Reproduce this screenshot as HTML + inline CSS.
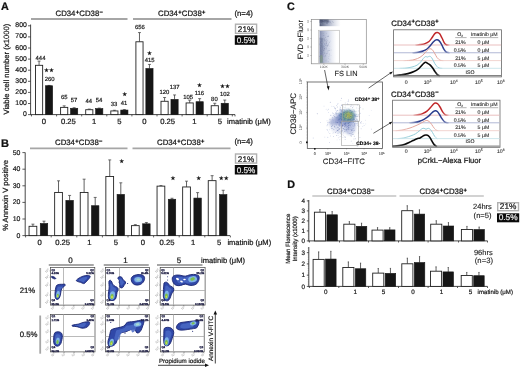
<!DOCTYPE html>
<html><head><meta charset="utf-8"><style>
html,body{margin:0;padding:0;background:#fff;}
body{width:520px;height:368px;overflow:hidden;}
svg{display:block;font-family:"Liberation Sans",sans-serif;filter:blur(0.3px);text-rendering:geometricPrecision;}
</style></head><body>
<svg width="520" height="368" viewBox="0 0 520 368">
<rect width="520" height="368" fill="#fff"/>
<text x="1.00" y="9.57" font-size="10.8" text-anchor="start" font-weight="bold" fill="#111" stroke="#111" stroke-width="0.24" >A</text>
<line x1="31.00" y1="19.00" x2="127.50" y2="19.00" stroke="#a6a6a6" stroke-width="1.8" />
<line x1="133.00" y1="19.00" x2="231.50" y2="19.00" stroke="#a6a6a6" stroke-width="1.8" />
<text x="55.50" y="16.29" font-size="7.8" text-anchor="start" font-weight="normal" fill="#1a1a1a" stroke="#1a1a1a" stroke-width="0.24" >CD34<tspan dx="0.3" dy="-2.65" font-size="5.77" stroke-width="0.45">+</tspan><tspan dx="0.2" dy="2.65">CD38</tspan><tspan dx="0.3" dy="-2.65" font-size="5.77" stroke-width="0.45">−</tspan></text>
<text x="158.00" y="16.29" font-size="7.8" text-anchor="start" font-weight="normal" fill="#1a1a1a" stroke="#1a1a1a" stroke-width="0.24" >CD34<tspan dx="0.3" dy="-2.65" font-size="5.77" stroke-width="0.45">+</tspan><tspan dx="0.2" dy="2.65">CD38</tspan><tspan dx="0.3" dy="-2.65" font-size="5.77" stroke-width="0.45">+</tspan></text>
<text x="234.40" y="15.61" font-size="7.85" text-anchor="start" font-weight="normal" fill="#1a1a1a" stroke="#1a1a1a" stroke-width="0.24" >(n=4)</text>
<rect x="235.50" y="24.20" width="21.10" height="9.10" fill="#fff" stroke="#b0b0b0" stroke-width="1.4" />
<text x="246.05" y="31.89" font-size="8.2" text-anchor="middle" font-weight="normal" fill="#1a1a1a" stroke="#1a1a1a" stroke-width="0.24" >21%</text>
<rect x="234.80" y="35.30" width="22.50" height="9.50" fill="#0a0a0a" stroke="none" stroke-width="1" />
<text x="246.05" y="43.19" font-size="8.2" text-anchor="middle" font-weight="normal" fill="#e8e8e8" stroke="#e8e8e8" stroke-width="0.24" >0.5%</text>
<line x1="30.60" y1="24.50" x2="30.60" y2="115.10" stroke="#333" stroke-width="0.9" />
<line x1="30.60" y1="114.60" x2="235.00" y2="114.60" stroke="#333" stroke-width="0.9" />
<line x1="28.00" y1="114.60" x2="30.60" y2="114.60" stroke="#333" stroke-width="0.8" />
<text x="26.80" y="116.17" font-size="6.9" text-anchor="end" font-weight="normal" fill="#1a1a1a" stroke="#1a1a1a" stroke-width="0.2" >0</text>
<line x1="28.00" y1="103.50" x2="30.60" y2="103.50" stroke="#333" stroke-width="0.8" />
<text x="26.80" y="105.07" font-size="6.9" text-anchor="end" font-weight="normal" fill="#1a1a1a" stroke="#1a1a1a" stroke-width="0.2" >100</text>
<line x1="28.00" y1="92.40" x2="30.60" y2="92.40" stroke="#333" stroke-width="0.8" />
<text x="26.80" y="93.97" font-size="6.9" text-anchor="end" font-weight="normal" fill="#1a1a1a" stroke="#1a1a1a" stroke-width="0.2" >200</text>
<line x1="28.00" y1="81.30" x2="30.60" y2="81.30" stroke="#333" stroke-width="0.8" />
<text x="26.80" y="82.87" font-size="6.9" text-anchor="end" font-weight="normal" fill="#1a1a1a" stroke="#1a1a1a" stroke-width="0.2" >300</text>
<line x1="28.00" y1="70.20" x2="30.60" y2="70.20" stroke="#333" stroke-width="0.8" />
<text x="26.80" y="71.77" font-size="6.9" text-anchor="end" font-weight="normal" fill="#1a1a1a" stroke="#1a1a1a" stroke-width="0.2" >400</text>
<line x1="28.00" y1="59.10" x2="30.60" y2="59.10" stroke="#333" stroke-width="0.8" />
<text x="26.80" y="60.67" font-size="6.9" text-anchor="end" font-weight="normal" fill="#1a1a1a" stroke="#1a1a1a" stroke-width="0.2" >500</text>
<line x1="28.00" y1="48.00" x2="30.60" y2="48.00" stroke="#333" stroke-width="0.8" />
<text x="26.80" y="49.57" font-size="6.9" text-anchor="end" font-weight="normal" fill="#1a1a1a" stroke="#1a1a1a" stroke-width="0.2" >600</text>
<line x1="28.00" y1="36.90" x2="30.60" y2="36.90" stroke="#333" stroke-width="0.8" />
<text x="26.80" y="38.47" font-size="6.9" text-anchor="end" font-weight="normal" fill="#1a1a1a" stroke="#1a1a1a" stroke-width="0.2" >700</text>
<line x1="28.00" y1="25.80" x2="30.60" y2="25.80" stroke="#333" stroke-width="0.8" />
<text x="26.80" y="27.37" font-size="6.9" text-anchor="end" font-weight="normal" fill="#1a1a1a" stroke="#1a1a1a" stroke-width="0.2" >800</text>
<line x1="31.50" y1="114.60" x2="31.50" y2="116.40" stroke="#333" stroke-width="0.8" />
<line x1="56.60" y1="114.60" x2="56.60" y2="116.40" stroke="#333" stroke-width="0.8" />
<line x1="81.70" y1="114.60" x2="81.70" y2="116.40" stroke="#333" stroke-width="0.8" />
<line x1="106.80" y1="114.60" x2="106.80" y2="116.40" stroke="#333" stroke-width="0.8" />
<line x1="131.90" y1="114.60" x2="131.90" y2="116.40" stroke="#333" stroke-width="0.8" />
<line x1="157.00" y1="114.60" x2="157.00" y2="116.40" stroke="#333" stroke-width="0.8" />
<line x1="182.10" y1="114.60" x2="182.10" y2="116.40" stroke="#333" stroke-width="0.8" />
<line x1="207.20" y1="114.60" x2="207.20" y2="116.40" stroke="#333" stroke-width="0.8" />
<line x1="232.30" y1="114.60" x2="232.30" y2="116.40" stroke="#333" stroke-width="0.8" />
<line x1="235.00" y1="114.60" x2="235.00" y2="116.40" stroke="#333" stroke-width="0.8" />
<line x1="39.07" y1="65.32" x2="39.07" y2="61.10" stroke="#3a3a3a" stroke-width="0.8" />
<line x1="37.57" y1="61.10" x2="40.57" y2="61.10" stroke="#3a3a3a" stroke-width="0.7" />
<rect x="35.50" y="65.32" width="7.15" height="49.28" fill="#fff" stroke="#222" stroke-width="0.9" />
<line x1="49.05" y1="85.74" x2="49.05" y2="85.41" stroke="#3a3a3a" stroke-width="0.8" />
<line x1="47.55" y1="85.41" x2="50.55" y2="85.41" stroke="#3a3a3a" stroke-width="0.7" />
<rect x="45.45" y="85.74" width="7.20" height="28.86" fill="#161616" stroke="#161616" stroke-width="0.6" />
<line x1="64.17" y1="107.38" x2="64.17" y2="105.83" stroke="#3a3a3a" stroke-width="0.8" />
<line x1="62.67" y1="105.83" x2="65.67" y2="105.83" stroke="#3a3a3a" stroke-width="0.7" />
<rect x="60.60" y="107.38" width="7.15" height="7.22" fill="#fff" stroke="#222" stroke-width="0.9" />
<line x1="74.15" y1="108.27" x2="74.15" y2="107.72" stroke="#3a3a3a" stroke-width="0.8" />
<line x1="72.65" y1="107.72" x2="75.65" y2="107.72" stroke="#3a3a3a" stroke-width="0.7" />
<rect x="70.55" y="108.27" width="7.20" height="6.33" fill="#161616" stroke="#161616" stroke-width="0.6" />
<line x1="89.27" y1="109.72" x2="89.27" y2="109.05" stroke="#3a3a3a" stroke-width="0.8" />
<line x1="87.77" y1="109.05" x2="90.77" y2="109.05" stroke="#3a3a3a" stroke-width="0.7" />
<rect x="85.70" y="109.72" width="7.15" height="4.88" fill="#fff" stroke="#222" stroke-width="0.9" />
<line x1="99.25" y1="108.61" x2="99.25" y2="108.05" stroke="#3a3a3a" stroke-width="0.8" />
<line x1="97.75" y1="108.05" x2="100.75" y2="108.05" stroke="#3a3a3a" stroke-width="0.7" />
<rect x="95.65" y="108.61" width="7.20" height="5.99" fill="#161616" stroke="#161616" stroke-width="0.6" />
<line x1="114.38" y1="110.94" x2="114.38" y2="110.27" stroke="#3a3a3a" stroke-width="0.8" />
<line x1="112.88" y1="110.27" x2="115.88" y2="110.27" stroke="#3a3a3a" stroke-width="0.7" />
<rect x="110.80" y="110.94" width="7.15" height="3.66" fill="#fff" stroke="#222" stroke-width="0.9" />
<line x1="124.35" y1="110.05" x2="124.35" y2="109.60" stroke="#3a3a3a" stroke-width="0.8" />
<line x1="122.85" y1="109.60" x2="125.85" y2="109.60" stroke="#3a3a3a" stroke-width="0.7" />
<rect x="120.75" y="110.05" width="7.20" height="4.55" fill="#161616" stroke="#161616" stroke-width="0.6" />
<line x1="139.48" y1="41.78" x2="139.48" y2="32.57" stroke="#3a3a3a" stroke-width="0.8" />
<line x1="137.98" y1="32.57" x2="140.98" y2="32.57" stroke="#3a3a3a" stroke-width="0.7" />
<rect x="135.90" y="41.78" width="7.15" height="72.82" fill="#fff" stroke="#222" stroke-width="0.9" />
<line x1="149.45" y1="68.53" x2="149.45" y2="64.43" stroke="#3a3a3a" stroke-width="0.8" />
<line x1="147.95" y1="64.43" x2="150.95" y2="64.43" stroke="#3a3a3a" stroke-width="0.7" />
<rect x="145.85" y="68.53" width="7.20" height="46.06" fill="#161616" stroke="#161616" stroke-width="0.6" />
<line x1="164.58" y1="101.28" x2="164.58" y2="97.51" stroke="#3a3a3a" stroke-width="0.8" />
<line x1="163.08" y1="97.51" x2="166.08" y2="97.51" stroke="#3a3a3a" stroke-width="0.7" />
<rect x="161.00" y="101.28" width="7.15" height="13.32" fill="#fff" stroke="#222" stroke-width="0.9" />
<line x1="174.55" y1="99.39" x2="174.55" y2="94.95" stroke="#3a3a3a" stroke-width="0.8" />
<line x1="173.05" y1="94.95" x2="176.05" y2="94.95" stroke="#3a3a3a" stroke-width="0.7" />
<rect x="170.95" y="99.39" width="7.20" height="15.21" fill="#161616" stroke="#161616" stroke-width="0.6" />
<line x1="189.68" y1="102.94" x2="189.68" y2="100.17" stroke="#3a3a3a" stroke-width="0.8" />
<line x1="188.18" y1="100.17" x2="191.18" y2="100.17" stroke="#3a3a3a" stroke-width="0.7" />
<rect x="186.10" y="102.94" width="7.15" height="11.66" fill="#fff" stroke="#222" stroke-width="0.9" />
<line x1="199.65" y1="101.72" x2="199.65" y2="98.62" stroke="#3a3a3a" stroke-width="0.8" />
<line x1="198.15" y1="98.62" x2="201.15" y2="98.62" stroke="#3a3a3a" stroke-width="0.7" />
<rect x="196.05" y="101.72" width="7.20" height="12.88" fill="#161616" stroke="#161616" stroke-width="0.6" />
<line x1="214.78" y1="105.72" x2="214.78" y2="103.28" stroke="#3a3a3a" stroke-width="0.8" />
<line x1="213.28" y1="103.28" x2="216.28" y2="103.28" stroke="#3a3a3a" stroke-width="0.7" />
<rect x="211.20" y="105.72" width="7.15" height="8.88" fill="#fff" stroke="#222" stroke-width="0.9" />
<line x1="224.75" y1="103.28" x2="224.75" y2="100.06" stroke="#3a3a3a" stroke-width="0.8" />
<line x1="223.25" y1="100.06" x2="226.25" y2="100.06" stroke="#3a3a3a" stroke-width="0.7" />
<rect x="221.15" y="103.28" width="7.20" height="11.32" fill="#161616" stroke="#161616" stroke-width="0.6" />
<text x="40.50" y="59.61" font-size="5.9" text-anchor="middle" font-weight="normal" fill="#1a1a1a" stroke="#1a1a1a" stroke-width="0.2" >444</text>
<text x="49.60" y="81.21" font-size="5.9" text-anchor="middle" font-weight="normal" fill="#1a1a1a" stroke="#1a1a1a" stroke-width="0.2" >260</text>
<text x="64.20" y="99.11" font-size="5.9" text-anchor="middle" font-weight="normal" fill="#1a1a1a" stroke="#1a1a1a" stroke-width="0.2" >65</text>
<text x="74.00" y="101.51" font-size="5.9" text-anchor="middle" font-weight="normal" fill="#1a1a1a" stroke="#1a1a1a" stroke-width="0.2" >57</text>
<text x="88.80" y="102.71" font-size="5.9" text-anchor="middle" font-weight="normal" fill="#1a1a1a" stroke="#1a1a1a" stroke-width="0.2" >44</text>
<text x="99.00" y="101.51" font-size="5.9" text-anchor="middle" font-weight="normal" fill="#1a1a1a" stroke="#1a1a1a" stroke-width="0.2" >54</text>
<text x="114.00" y="105.91" font-size="5.9" text-anchor="middle" font-weight="normal" fill="#1a1a1a" stroke="#1a1a1a" stroke-width="0.2" >33</text>
<text x="124.00" y="104.81" font-size="5.9" text-anchor="middle" font-weight="normal" fill="#1a1a1a" stroke="#1a1a1a" stroke-width="0.2" >41</text>
<text x="139.80" y="29.01" font-size="5.9" text-anchor="middle" font-weight="normal" fill="#1a1a1a" stroke="#1a1a1a" stroke-width="0.2" >656</text>
<text x="149.70" y="62.41" font-size="5.9" text-anchor="middle" font-weight="normal" fill="#1a1a1a" stroke="#1a1a1a" stroke-width="0.2" >415</text>
<text x="164.40" y="94.36" font-size="5.9" text-anchor="middle" font-weight="normal" fill="#1a1a1a" stroke="#1a1a1a" stroke-width="0.2" >120</text>
<text x="174.60" y="89.36" font-size="5.9" text-anchor="middle" font-weight="normal" fill="#1a1a1a" stroke="#1a1a1a" stroke-width="0.2" >137</text>
<text x="188.10" y="98.86" font-size="5.9" text-anchor="middle" font-weight="normal" fill="#1a1a1a" stroke="#1a1a1a" stroke-width="0.2" >105</text>
<text x="199.40" y="94.86" font-size="5.9" text-anchor="middle" font-weight="normal" fill="#1a1a1a" stroke="#1a1a1a" stroke-width="0.2" >116</text>
<text x="214.40" y="101.11" font-size="5.9" text-anchor="middle" font-weight="normal" fill="#1a1a1a" stroke="#1a1a1a" stroke-width="0.2" >80</text>
<text x="224.80" y="95.61" font-size="5.9" text-anchor="middle" font-weight="normal" fill="#1a1a1a" stroke="#1a1a1a" stroke-width="0.2" >102</text>
<text x="48.90" y="72.37" font-size="5.5" text-anchor="middle" font-weight="normal" fill="#111" stroke="#111" stroke-width="0.2" letter-spacing="0">★★</text>
<text x="124.70" y="96.37" font-size="5.5" text-anchor="middle" font-weight="normal" fill="#111" stroke="#111" stroke-width="0.2" letter-spacing="0">★</text>
<text x="149.40" y="54.77" font-size="5.5" text-anchor="middle" font-weight="normal" fill="#111" stroke="#111" stroke-width="0.2" letter-spacing="0">★</text>
<text x="199.50" y="86.72" font-size="5.5" text-anchor="middle" font-weight="normal" fill="#111" stroke="#111" stroke-width="0.2" letter-spacing="0">★</text>
<text x="225.00" y="87.97" font-size="5.5" text-anchor="middle" font-weight="normal" fill="#111" stroke="#111" stroke-width="0.2" letter-spacing="0">★★</text>
<text x="43.75" y="123.64" font-size="7.65" text-anchor="middle" font-weight="normal" fill="#1a1a1a" stroke="#1a1a1a" stroke-width="0.24" >0</text>
<text x="68.40" y="123.64" font-size="7.65" text-anchor="middle" font-weight="normal" fill="#1a1a1a" stroke="#1a1a1a" stroke-width="0.24" >0.25</text>
<text x="94.20" y="123.64" font-size="7.65" text-anchor="middle" font-weight="normal" fill="#1a1a1a" stroke="#1a1a1a" stroke-width="0.24" >1</text>
<text x="119.30" y="123.64" font-size="7.65" text-anchor="middle" font-weight="normal" fill="#1a1a1a" stroke="#1a1a1a" stroke-width="0.24" >5</text>
<text x="144.30" y="123.64" font-size="7.65" text-anchor="middle" font-weight="normal" fill="#1a1a1a" stroke="#1a1a1a" stroke-width="0.24" >0</text>
<text x="167.70" y="123.64" font-size="7.65" text-anchor="middle" font-weight="normal" fill="#1a1a1a" stroke="#1a1a1a" stroke-width="0.24" >0.25</text>
<text x="194.30" y="123.64" font-size="7.65" text-anchor="middle" font-weight="normal" fill="#1a1a1a" stroke="#1a1a1a" stroke-width="0.24" >1</text>
<text x="219.80" y="123.64" font-size="7.65" text-anchor="middle" font-weight="normal" fill="#1a1a1a" stroke="#1a1a1a" stroke-width="0.24" >5</text>
<text x="227.00" y="123.80" font-size="7.55" text-anchor="start" font-weight="normal" fill="#1a1a1a" stroke="#1a1a1a" stroke-width="0.24" >imatinib (μM)</text>
<text transform="translate(9.24,69.20) rotate(-90)" font-size="7.65" text-anchor="middle" font-weight="normal" fill="#1a1a1a" stroke="#1a1a1a" stroke-width="0.24">Viable cell number (x1000)</text>
<text x="1.00" y="147.14" font-size="11" text-anchor="start" font-weight="bold" fill="#111" stroke="#111" stroke-width="0.24" >B</text>
<line x1="30.00" y1="148.40" x2="127.50" y2="148.40" stroke="#a6a6a6" stroke-width="1.8" />
<line x1="132.50" y1="148.40" x2="230.50" y2="148.40" stroke="#a6a6a6" stroke-width="1.8" />
<text x="55.00" y="145.19" font-size="7.8" text-anchor="start" font-weight="normal" fill="#1a1a1a" stroke="#1a1a1a" stroke-width="0.24" >CD34<tspan dx="0.3" dy="-2.65" font-size="5.77" stroke-width="0.45">+</tspan><tspan dx="0.2" dy="2.65">CD38</tspan><tspan dx="0.3" dy="-2.65" font-size="5.77" stroke-width="0.45">−</tspan></text>
<text x="157.00" y="145.19" font-size="7.8" text-anchor="start" font-weight="normal" fill="#1a1a1a" stroke="#1a1a1a" stroke-width="0.24" >CD34<tspan dx="0.3" dy="-2.65" font-size="5.77" stroke-width="0.45">+</tspan><tspan dx="0.2" dy="2.65">CD38</tspan><tspan dx="0.3" dy="-2.65" font-size="5.77" stroke-width="0.45">+</tspan></text>
<text x="234.40" y="143.51" font-size="7.85" text-anchor="start" font-weight="normal" fill="#1a1a1a" stroke="#1a1a1a" stroke-width="0.24" >(n=4)</text>
<rect x="235.50" y="154.00" width="21.10" height="9.10" fill="#fff" stroke="#b0b0b0" stroke-width="1.4" />
<text x="246.05" y="161.69" font-size="8.2" text-anchor="middle" font-weight="normal" fill="#1a1a1a" stroke="#1a1a1a" stroke-width="0.24" >21%</text>
<rect x="234.80" y="165.00" width="22.50" height="9.50" fill="#0a0a0a" stroke="none" stroke-width="1" />
<text x="246.05" y="172.89" font-size="8.2" text-anchor="middle" font-weight="normal" fill="#e8e8e8" stroke="#e8e8e8" stroke-width="0.24" >0.5%</text>
<line x1="25.20" y1="152.50" x2="25.20" y2="236.10" stroke="#333" stroke-width="0.9" />
<line x1="25.20" y1="235.60" x2="230.00" y2="235.60" stroke="#333" stroke-width="0.9" />
<line x1="22.40" y1="235.60" x2="25.20" y2="235.60" stroke="#333" stroke-width="0.8" />
<text x="20.30" y="237.67" font-size="6.9" text-anchor="end" font-weight="normal" fill="#1a1a1a" stroke="#1a1a1a" stroke-width="0.2" >0</text>
<line x1="22.40" y1="219.00" x2="25.20" y2="219.00" stroke="#333" stroke-width="0.8" />
<text x="20.30" y="221.07" font-size="6.9" text-anchor="end" font-weight="normal" fill="#1a1a1a" stroke="#1a1a1a" stroke-width="0.2" >10</text>
<line x1="22.40" y1="202.40" x2="25.20" y2="202.40" stroke="#333" stroke-width="0.8" />
<text x="20.30" y="204.47" font-size="6.9" text-anchor="end" font-weight="normal" fill="#1a1a1a" stroke="#1a1a1a" stroke-width="0.2" >20</text>
<line x1="22.40" y1="185.80" x2="25.20" y2="185.80" stroke="#333" stroke-width="0.8" />
<text x="20.30" y="187.87" font-size="6.9" text-anchor="end" font-weight="normal" fill="#1a1a1a" stroke="#1a1a1a" stroke-width="0.2" >30</text>
<line x1="22.40" y1="169.20" x2="25.20" y2="169.20" stroke="#333" stroke-width="0.8" />
<text x="20.30" y="171.27" font-size="6.9" text-anchor="end" font-weight="normal" fill="#1a1a1a" stroke="#1a1a1a" stroke-width="0.2" >40</text>
<line x1="22.40" y1="152.60" x2="25.20" y2="152.60" stroke="#333" stroke-width="0.8" />
<text x="20.30" y="154.67" font-size="6.9" text-anchor="end" font-weight="normal" fill="#1a1a1a" stroke="#1a1a1a" stroke-width="0.2" >50</text>
<line x1="25.60" y1="235.60" x2="25.60" y2="237.40" stroke="#333" stroke-width="0.8" />
<line x1="51.20" y1="235.60" x2="51.20" y2="237.40" stroke="#333" stroke-width="0.8" />
<line x1="76.80" y1="235.60" x2="76.80" y2="237.40" stroke="#333" stroke-width="0.8" />
<line x1="102.40" y1="235.60" x2="102.40" y2="237.40" stroke="#333" stroke-width="0.8" />
<line x1="128.00" y1="235.60" x2="128.00" y2="237.40" stroke="#333" stroke-width="0.8" />
<line x1="153.60" y1="235.60" x2="153.60" y2="237.40" stroke="#333" stroke-width="0.8" />
<line x1="179.20" y1="235.60" x2="179.20" y2="237.40" stroke="#333" stroke-width="0.8" />
<line x1="204.80" y1="235.60" x2="204.80" y2="237.40" stroke="#333" stroke-width="0.8" />
<line x1="230.40" y1="235.60" x2="230.40" y2="237.40" stroke="#333" stroke-width="0.8" />
<line x1="32.92" y1="226.30" x2="32.92" y2="224.15" stroke="#3a3a3a" stroke-width="0.8" />
<line x1="31.42" y1="224.15" x2="34.42" y2="224.15" stroke="#3a3a3a" stroke-width="0.7" />
<rect x="29.05" y="226.30" width="7.75" height="9.30" fill="#fff" stroke="#222" stroke-width="0.9" />
<line x1="43.99" y1="223.48" x2="43.99" y2="221.16" stroke="#3a3a3a" stroke-width="0.8" />
<line x1="42.49" y1="221.16" x2="45.49" y2="221.16" stroke="#3a3a3a" stroke-width="0.7" />
<rect x="40.27" y="223.48" width="7.45" height="12.12" fill="#161616" stroke="#161616" stroke-width="0.6" />
<line x1="58.52" y1="192.44" x2="58.52" y2="180.82" stroke="#3a3a3a" stroke-width="0.8" />
<line x1="57.02" y1="180.82" x2="60.02" y2="180.82" stroke="#3a3a3a" stroke-width="0.7" />
<rect x="54.65" y="192.44" width="7.75" height="43.16" fill="#fff" stroke="#222" stroke-width="0.9" />
<line x1="69.59" y1="200.41" x2="69.59" y2="195.43" stroke="#3a3a3a" stroke-width="0.8" />
<line x1="68.09" y1="195.43" x2="71.09" y2="195.43" stroke="#3a3a3a" stroke-width="0.7" />
<rect x="65.87" y="200.41" width="7.45" height="35.19" fill="#161616" stroke="#161616" stroke-width="0.6" />
<line x1="84.12" y1="192.44" x2="84.12" y2="179.16" stroke="#3a3a3a" stroke-width="0.8" />
<line x1="82.62" y1="179.16" x2="85.62" y2="179.16" stroke="#3a3a3a" stroke-width="0.7" />
<rect x="80.25" y="192.44" width="7.75" height="43.16" fill="#fff" stroke="#222" stroke-width="0.9" />
<line x1="95.19" y1="205.72" x2="95.19" y2="197.42" stroke="#3a3a3a" stroke-width="0.8" />
<line x1="93.69" y1="197.42" x2="96.69" y2="197.42" stroke="#3a3a3a" stroke-width="0.7" />
<rect x="91.47" y="205.72" width="7.45" height="29.88" fill="#161616" stroke="#161616" stroke-width="0.6" />
<line x1="109.73" y1="176.50" x2="109.73" y2="159.90" stroke="#3a3a3a" stroke-width="0.8" />
<line x1="108.23" y1="159.90" x2="111.23" y2="159.90" stroke="#3a3a3a" stroke-width="0.7" />
<rect x="105.85" y="176.50" width="7.75" height="59.10" fill="#fff" stroke="#222" stroke-width="0.9" />
<line x1="120.80" y1="194.43" x2="120.80" y2="182.81" stroke="#3a3a3a" stroke-width="0.8" />
<line x1="119.30" y1="182.81" x2="122.30" y2="182.81" stroke="#3a3a3a" stroke-width="0.7" />
<rect x="117.07" y="194.43" width="7.45" height="41.17" fill="#161616" stroke="#161616" stroke-width="0.6" />
<line x1="135.32" y1="225.64" x2="135.32" y2="224.64" stroke="#3a3a3a" stroke-width="0.8" />
<line x1="133.82" y1="224.64" x2="136.82" y2="224.64" stroke="#3a3a3a" stroke-width="0.7" />
<rect x="131.45" y="225.64" width="7.75" height="9.96" fill="#fff" stroke="#222" stroke-width="0.9" />
<line x1="146.39" y1="223.81" x2="146.39" y2="222.49" stroke="#3a3a3a" stroke-width="0.8" />
<line x1="144.89" y1="222.49" x2="147.89" y2="222.49" stroke="#3a3a3a" stroke-width="0.7" />
<rect x="142.67" y="223.81" width="7.45" height="11.79" fill="#161616" stroke="#161616" stroke-width="0.6" />
<line x1="160.93" y1="186.13" x2="160.93" y2="185.63" stroke="#3a3a3a" stroke-width="0.8" />
<line x1="159.43" y1="185.63" x2="162.43" y2="185.63" stroke="#3a3a3a" stroke-width="0.7" />
<rect x="157.05" y="186.13" width="7.75" height="49.47" fill="#fff" stroke="#222" stroke-width="0.9" />
<line x1="172.00" y1="199.25" x2="172.00" y2="198.25" stroke="#3a3a3a" stroke-width="0.8" />
<line x1="170.50" y1="198.25" x2="173.50" y2="198.25" stroke="#3a3a3a" stroke-width="0.7" />
<rect x="168.27" y="199.25" width="7.45" height="36.35" fill="#161616" stroke="#161616" stroke-width="0.6" />
<line x1="186.53" y1="186.96" x2="186.53" y2="181.15" stroke="#3a3a3a" stroke-width="0.8" />
<line x1="185.03" y1="181.15" x2="188.03" y2="181.15" stroke="#3a3a3a" stroke-width="0.7" />
<rect x="182.65" y="186.96" width="7.75" height="48.64" fill="#fff" stroke="#222" stroke-width="0.9" />
<line x1="197.60" y1="198.08" x2="197.60" y2="192.61" stroke="#3a3a3a" stroke-width="0.8" />
<line x1="196.10" y1="192.61" x2="199.10" y2="192.61" stroke="#3a3a3a" stroke-width="0.7" />
<rect x="193.87" y="198.08" width="7.45" height="37.52" fill="#161616" stroke="#161616" stroke-width="0.6" />
<line x1="212.12" y1="180.65" x2="212.12" y2="175.67" stroke="#3a3a3a" stroke-width="0.8" />
<line x1="210.62" y1="175.67" x2="213.62" y2="175.67" stroke="#3a3a3a" stroke-width="0.7" />
<rect x="208.25" y="180.65" width="7.75" height="54.95" fill="#fff" stroke="#222" stroke-width="0.9" />
<line x1="223.19" y1="194.60" x2="223.19" y2="190.28" stroke="#3a3a3a" stroke-width="0.8" />
<line x1="221.69" y1="190.28" x2="224.69" y2="190.28" stroke="#3a3a3a" stroke-width="0.7" />
<rect x="219.47" y="194.60" width="7.45" height="41.00" fill="#161616" stroke="#161616" stroke-width="0.6" />
<text x="121.75" y="163.47" font-size="5.5" text-anchor="middle" font-weight="normal" fill="#111" stroke="#111" stroke-width="0.2" letter-spacing="0">★</text>
<text x="173.00" y="180.17" font-size="5.5" text-anchor="middle" font-weight="normal" fill="#111" stroke="#111" stroke-width="0.2" letter-spacing="0">★</text>
<text x="198.75" y="180.17" font-size="5.5" text-anchor="middle" font-weight="normal" fill="#111" stroke="#111" stroke-width="0.2" letter-spacing="0">★</text>
<text x="223.75" y="180.17" font-size="5.5" text-anchor="middle" font-weight="normal" fill="#111" stroke="#111" stroke-width="0.2" letter-spacing="0">★★</text>
<text x="39.60" y="244.64" font-size="7.65" text-anchor="middle" font-weight="normal" fill="#1a1a1a" stroke="#1a1a1a" stroke-width="0.24" >0</text>
<text x="62.60" y="244.64" font-size="7.65" text-anchor="middle" font-weight="normal" fill="#1a1a1a" stroke="#1a1a1a" stroke-width="0.24" >0.25</text>
<text x="89.30" y="244.64" font-size="7.65" text-anchor="middle" font-weight="normal" fill="#1a1a1a" stroke="#1a1a1a" stroke-width="0.24" >1</text>
<text x="115.80" y="244.64" font-size="7.65" text-anchor="middle" font-weight="normal" fill="#1a1a1a" stroke="#1a1a1a" stroke-width="0.24" >5</text>
<text x="142.80" y="244.64" font-size="7.65" text-anchor="middle" font-weight="normal" fill="#1a1a1a" stroke="#1a1a1a" stroke-width="0.24" >0</text>
<text x="167.00" y="244.64" font-size="7.65" text-anchor="middle" font-weight="normal" fill="#1a1a1a" stroke="#1a1a1a" stroke-width="0.24" >0.25</text>
<text x="193.00" y="244.64" font-size="7.65" text-anchor="middle" font-weight="normal" fill="#1a1a1a" stroke="#1a1a1a" stroke-width="0.24" >1</text>
<text x="219.00" y="244.64" font-size="7.65" text-anchor="middle" font-weight="normal" fill="#1a1a1a" stroke="#1a1a1a" stroke-width="0.24" >5</text>
<text x="227.40" y="244.90" font-size="7.55" text-anchor="start" font-weight="normal" fill="#1a1a1a" stroke="#1a1a1a" stroke-width="0.24" >imatinib (μM)</text>
<text transform="translate(7.52,195.40) rotate(-90)" font-size="7.6" text-anchor="middle" font-weight="normal" fill="#1a1a1a" stroke="#1a1a1a" stroke-width="0.24">% Annexin V positive</text>
<text x="70.50" y="263.16" font-size="8" text-anchor="middle" font-weight="normal" fill="#1a1a1a" stroke="#1a1a1a" stroke-width="0.24" >0</text>
<text x="125.50" y="263.16" font-size="8" text-anchor="middle" font-weight="normal" fill="#1a1a1a" stroke="#1a1a1a" stroke-width="0.24" >1</text>
<text x="179.00" y="263.16" font-size="8" text-anchor="middle" font-weight="normal" fill="#1a1a1a" stroke="#1a1a1a" stroke-width="0.24" >5</text>
<line x1="48.75" y1="265.00" x2="93.75" y2="265.00" stroke="#a6a6a6" stroke-width="2" />
<line x1="103.75" y1="265.00" x2="148.75" y2="265.00" stroke="#a6a6a6" stroke-width="2" />
<line x1="157.00" y1="265.00" x2="202.50" y2="265.00" stroke="#a6a6a6" stroke-width="2" />
<text x="201.00" y="263.22" font-size="7.6" text-anchor="start" font-weight="normal" fill="#1a1a1a" stroke="#1a1a1a" stroke-width="0.24" >imatinib (μM)</text>
<line x1="40.20" y1="268.00" x2="40.20" y2="308.00" stroke="#a6a6a6" stroke-width="1.8" />
<line x1="40.20" y1="315.50" x2="40.20" y2="353.70" stroke="#a6a6a6" stroke-width="1.8" />
<text x="27.50" y="292.79" font-size="7.8" text-anchor="middle" font-weight="normal" fill="#1a1a1a" stroke="#1a1a1a" stroke-width="0.24" >21%</text>
<text x="28.60" y="336.59" font-size="7.8" text-anchor="middle" font-weight="normal" fill="#1a1a1a" stroke="#1a1a1a" stroke-width="0.24" >0.5%</text>
<rect x="50.40" y="267.60" width="44.40" height="37.50" fill="#fff" stroke="#444" stroke-width="0.7" />
<line x1="63.50" y1="267.60" x2="63.50" y2="305.10" stroke="#a8a8a8" stroke-width="0.8" />
<line x1="50.40" y1="290.50" x2="94.80" y2="290.50" stroke="#a8a8a8" stroke-width="0.8" />
<text transform="translate(47.80,271.50) rotate(-40)" font-size="3" text-anchor="middle" fill="#888">10<tspan font-size="2" dy="-1">5</tspan></text>
<line x1="49.60" y1="270.90" x2="50.40" y2="270.90" stroke="#555" stroke-width="0.5" />
<text transform="translate(47.80,277.80) rotate(-40)" font-size="3" text-anchor="middle" fill="#888">10<tspan font-size="2" dy="-1">5</tspan></text>
<line x1="49.60" y1="277.20" x2="50.40" y2="277.20" stroke="#555" stroke-width="0.5" />
<text transform="translate(47.80,285.60) rotate(-40)" font-size="3" text-anchor="middle" fill="#888">10<tspan font-size="2" dy="-1">5</tspan></text>
<line x1="49.60" y1="285.00" x2="50.40" y2="285.00" stroke="#555" stroke-width="0.5" />
<text transform="translate(47.80,295.60) rotate(-40)" font-size="3" text-anchor="middle" fill="#888">10<tspan font-size="2" dy="-1">5</tspan></text>
<line x1="49.60" y1="295.00" x2="50.40" y2="295.00" stroke="#555" stroke-width="0.5" />
<text transform="translate(47.80,302.70) rotate(-40)" font-size="3" text-anchor="middle" fill="#888">10<tspan font-size="2" dy="-1">5</tspan></text>
<line x1="49.60" y1="302.10" x2="50.40" y2="302.10" stroke="#555" stroke-width="0.5" />
<text transform="translate(53.40,308.50) rotate(-40)" font-size="3" text-anchor="middle" fill="#888">10<tspan font-size="2" dy="-1">5</tspan></text>
<line x1="53.40" y1="305.10" x2="53.40" y2="305.90" stroke="#555" stroke-width="0.5" />
<text transform="translate(63.90,308.50) rotate(-40)" font-size="3" text-anchor="middle" fill="#888">10<tspan font-size="2" dy="-1">5</tspan></text>
<line x1="63.90" y1="305.10" x2="63.90" y2="305.90" stroke="#555" stroke-width="0.5" />
<text transform="translate(73.90,308.50) rotate(-40)" font-size="3" text-anchor="middle" fill="#888">10<tspan font-size="2" dy="-1">5</tspan></text>
<line x1="73.90" y1="305.10" x2="73.90" y2="305.90" stroke="#555" stroke-width="0.5" />
<text transform="translate(83.90,308.50) rotate(-40)" font-size="3" text-anchor="middle" fill="#888">10<tspan font-size="2" dy="-1">5</tspan></text>
<line x1="83.90" y1="305.10" x2="83.90" y2="305.90" stroke="#555" stroke-width="0.5" />
<text transform="translate(93.40,308.50) rotate(-40)" font-size="3" text-anchor="middle" fill="#888">10<tspan font-size="2" dy="-1">5</tspan></text>
<line x1="93.40" y1="305.10" x2="93.40" y2="305.90" stroke="#555" stroke-width="0.5" />
<path d="M76.4,280.2 C77.5,278.8 80,277.3 83,276.2 C86,275.3 88.5,275 90.2,276.2 C90.3,277.5 88.5,279.3 86.8,281 C85.5,282.5 84.5,283.8 83.5,283.6 C81.5,282.8 79.5,281.8 77.5,281.5 C76.6,281.3 76.2,280.8 76.4,280.2 Z" fill="#3048a8" stroke="#1a2572" stroke-width="0.9" stroke-linejoin="round"/>
<path d="M76.4,280.2 C77.5,278.8 80,277.3 83,276.2 C86,275.3 88.5,275 90.2,276.2 C90.3,277.5 88.5,279.3 86.8,281 C85.5,282.5 84.5,283.8 83.5,283.6 C81.5,282.8 79.5,281.8 77.5,281.5 C76.6,281.3 76.2,280.8 76.4,280.2 Z" fill="#4a6ac4" transform="translate(82.55,279.74) scale(0.62) translate(-82.55,-279.74)" opacity="0.85"/>
<path d="M51.6,276.4 C53,276.2 55.2,277.3 55.8,278.4 C55.6,279.3 54,279 52.5,278.1 C51.5,277.5 51.2,276.8 51.6,276.4 Z" fill="#1a2572" stroke="#1a2572" stroke-width="0.9" stroke-linejoin="round"/>
<path d="M56.5,285.5 C58.5,284 61,284.3 63,284.3 C65.5,283.5 66,285.3 64,286.5 C62,287.5 61,289.5 60.8,292.5 C60.3,296 59.5,299 57.5,299.5 C55.5,299.8 54.8,297 55,294 C55.2,290.5 55.5,287.5 56.5,285.5 Z" fill="#3048a8" stroke="#1a2572" stroke-width="0.9" stroke-linejoin="round"/>
<path d="M56.5,285.5 C58.5,284 61,284.3 63,284.3 C65.5,283.5 66,285.3 64,286.5 C62,287.5 61,289.5 60.8,292.5 C60.3,296 59.5,299 57.5,299.5 C55.5,299.8 54.8,297 55,294 C55.2,290.5 55.5,287.5 56.5,285.5 Z" fill="#4a6ac4" transform="translate(59.37,290.09) scale(0.62) translate(-59.37,-290.09)" opacity="0.85"/>
<ellipse cx="57.9" cy="294.5" rx="1.8" ry="3.6" fill="#7fb3e6" opacity="1" transform="rotate(10 57.9 294.5)"/>
<ellipse cx="57.7" cy="295.7" rx="1.2" ry="2.0" fill="#7cc04c" opacity="1" transform="rotate(10 57.7 295.7)"/>
<ellipse cx="57.6" cy="296.1" rx="0.6" ry="0.9" fill="#dde04a" opacity="1" transform="rotate(0 57.6 296.1)"/>
<text x="51.40" y="270.67" font-size="2.7" text-anchor="start" font-weight="bold" fill="#1a1a40" stroke="#1a1a40" stroke-width="0.25" >Q1</text>
<text x="51.40" y="274.27" font-size="2.7" text-anchor="start" font-weight="bold" fill="#1a1a40" stroke="#1a1a40" stroke-width="0.25" >4.33%</text>
<text x="93.80" y="270.67" font-size="2.7" text-anchor="end" font-weight="bold" fill="#1a1a40" stroke="#1a1a40" stroke-width="0.25" >Q2</text>
<text x="93.80" y="274.27" font-size="2.7" text-anchor="end" font-weight="bold" fill="#1a1a40" stroke="#1a1a40" stroke-width="0.25" >5.32%</text>
<text x="51.40" y="301.47" font-size="2.7" text-anchor="start" font-weight="bold" fill="#1a1a40" stroke="#1a1a40" stroke-width="0.25" >Q4</text>
<text x="51.40" y="304.77" font-size="2.7" text-anchor="start" font-weight="bold" fill="#1a1a40" stroke="#1a1a40" stroke-width="0.25" >95.3%</text>
<text x="93.80" y="301.47" font-size="2.7" text-anchor="end" font-weight="bold" fill="#1a1a40" stroke="#1a1a40" stroke-width="0.25" >Q3</text>
<text x="93.80" y="304.77" font-size="2.7" text-anchor="end" font-weight="bold" fill="#1a1a40" stroke="#1a1a40" stroke-width="0.25" >0.479%</text>
<rect x="105.60" y="267.60" width="43.90" height="37.50" fill="#fff" stroke="#444" stroke-width="0.7" />
<line x1="119.50" y1="267.60" x2="119.50" y2="305.10" stroke="#a8a8a8" stroke-width="0.8" />
<line x1="105.60" y1="290.50" x2="149.50" y2="290.50" stroke="#a8a8a8" stroke-width="0.8" />
<text transform="translate(103.00,271.50) rotate(-40)" font-size="3" text-anchor="middle" fill="#888">10<tspan font-size="2" dy="-1">5</tspan></text>
<line x1="104.80" y1="270.90" x2="105.60" y2="270.90" stroke="#555" stroke-width="0.5" />
<text transform="translate(103.00,277.80) rotate(-40)" font-size="3" text-anchor="middle" fill="#888">10<tspan font-size="2" dy="-1">5</tspan></text>
<line x1="104.80" y1="277.20" x2="105.60" y2="277.20" stroke="#555" stroke-width="0.5" />
<text transform="translate(103.00,285.60) rotate(-40)" font-size="3" text-anchor="middle" fill="#888">10<tspan font-size="2" dy="-1">5</tspan></text>
<line x1="104.80" y1="285.00" x2="105.60" y2="285.00" stroke="#555" stroke-width="0.5" />
<text transform="translate(103.00,295.60) rotate(-40)" font-size="3" text-anchor="middle" fill="#888">10<tspan font-size="2" dy="-1">5</tspan></text>
<line x1="104.80" y1="295.00" x2="105.60" y2="295.00" stroke="#555" stroke-width="0.5" />
<text transform="translate(103.00,302.70) rotate(-40)" font-size="3" text-anchor="middle" fill="#888">10<tspan font-size="2" dy="-1">5</tspan></text>
<line x1="104.80" y1="302.10" x2="105.60" y2="302.10" stroke="#555" stroke-width="0.5" />
<text transform="translate(108.60,308.50) rotate(-40)" font-size="3" text-anchor="middle" fill="#888">10<tspan font-size="2" dy="-1">5</tspan></text>
<line x1="108.60" y1="305.10" x2="108.60" y2="305.90" stroke="#555" stroke-width="0.5" />
<text transform="translate(119.10,308.50) rotate(-40)" font-size="3" text-anchor="middle" fill="#888">10<tspan font-size="2" dy="-1">5</tspan></text>
<line x1="119.10" y1="305.10" x2="119.10" y2="305.90" stroke="#555" stroke-width="0.5" />
<text transform="translate(129.10,308.50) rotate(-40)" font-size="3" text-anchor="middle" fill="#888">10<tspan font-size="2" dy="-1">5</tspan></text>
<line x1="129.10" y1="305.10" x2="129.10" y2="305.90" stroke="#555" stroke-width="0.5" />
<text transform="translate(139.10,308.50) rotate(-40)" font-size="3" text-anchor="middle" fill="#888">10<tspan font-size="2" dy="-1">5</tspan></text>
<line x1="139.10" y1="305.10" x2="139.10" y2="305.90" stroke="#555" stroke-width="0.5" />
<text transform="translate(148.60,308.50) rotate(-40)" font-size="3" text-anchor="middle" fill="#888">10<tspan font-size="2" dy="-1">5</tspan></text>
<line x1="148.60" y1="305.10" x2="148.60" y2="305.90" stroke="#555" stroke-width="0.5" />
<path d="M131.2,279.5 C131,276.5 134,275 138,274.6 C142,274.3 144.8,275.5 144.6,278.5 C144.3,282 141.5,285 137,285.1 C133.5,285.1 131.3,282.5 131.2,279.5 Z" fill="#3048a8" stroke="#1a2572" stroke-width="0.9" stroke-linejoin="round"/>
<path d="M131.2,279.5 C131,276.5 134,275 138,274.6 C142,274.3 144.8,275.5 144.6,278.5 C144.3,282 141.5,285 137,285.1 C133.5,285.1 131.3,282.5 131.2,279.5 Z" fill="#4a6ac4" transform="translate(137.26,279.47) scale(0.62) translate(-137.26,-279.47)" opacity="0.85"/>
<ellipse cx="138.2" cy="279.5" rx="3.8" ry="2.6" fill="#7fb3e6" opacity="1" transform="rotate(0 138.2 279.5)"/>
<ellipse cx="138.3" cy="279.6" rx="1.8" ry="1.2" fill="#9fd3c8" opacity="1" transform="rotate(0 138.3 279.6)"/>
<path d="M118,277.5 C119.5,276 122,276.5 122.5,278.5 C123,280 124.5,280.5 125.5,282 C126,283.5 124.8,284.2 124,285.5 C123.5,287.5 121.5,288.5 120.2,287.5 C119,286.5 120.5,285 119.5,283.5 C118.5,282.3 120,281 119,279.8 C118.3,279 117.5,278.5 118,277.5 Z" fill="#3048a8" stroke="#1a2572" stroke-width="0.9" stroke-linejoin="round"/>
<path d="M118,277.5 C119.5,276 122,276.5 122.5,278.5 C123,280 124.5,280.5 125.5,282 C126,283.5 124.8,284.2 124,285.5 C123.5,287.5 121.5,288.5 120.2,287.5 C119,286.5 120.5,285 119.5,283.5 C118.5,282.3 120,281 119,279.8 C118.3,279 117.5,278.5 118,277.5 Z" fill="#4a6ac4" transform="translate(121.15,281.85) scale(0.62) translate(-121.15,-281.85)" opacity="0.85"/>
<path d="M109,281 C110,279.5 111.3,280.5 111.8,282 C112.5,284 113.5,285.5 115.5,286.5 C118,287.5 119,289 117.5,291 C116.5,293 117,296 115.5,299 C114,301 110,301 108.8,299 C107.8,296.5 108.5,292 109,289 C109.5,286 108.5,283 109,281 Z" fill="#3048a8" stroke="#1a2572" stroke-width="0.9" stroke-linejoin="round"/>
<path d="M109,281 C110,279.5 111.3,280.5 111.8,282 C112.5,284 113.5,285.5 115.5,286.5 C118,287.5 119,289 117.5,291 C116.5,293 117,296 115.5,299 C114,301 110,301 108.8,299 C107.8,296.5 108.5,292 109,289 C109.5,286 108.5,283 109,281 Z" fill="#4a6ac4" transform="translate(112.37,289.23) scale(0.62) translate(-112.37,-289.23)" opacity="0.85"/>
<ellipse cx="112.3" cy="295.5" rx="2.6" ry="4.2" fill="#7fb3e6" opacity="1" transform="rotate(10 112.3 295.5)"/>
<ellipse cx="112" cy="296.5" rx="1.6" ry="2.6" fill="#7cc04c" opacity="1" transform="rotate(10 112 296.5)"/>
<ellipse cx="112" cy="297" rx="0.8" ry="1.2" fill="#dde04a" opacity="1" transform="rotate(0 112 297)"/>
<ellipse cx="127.6" cy="283.5" rx="0.6" ry="0.6" fill="#1a2572" opacity="1" transform="rotate(0 127.6 283.5)"/>
<text x="106.60" y="270.67" font-size="2.7" text-anchor="start" font-weight="bold" fill="#1a1a40" stroke="#1a1a40" stroke-width="0.25" >Q1</text>
<text x="106.60" y="274.27" font-size="2.7" text-anchor="start" font-weight="bold" fill="#1a1a40" stroke="#1a1a40" stroke-width="0.25" >5.76%</text>
<text x="148.50" y="270.67" font-size="2.7" text-anchor="end" font-weight="bold" fill="#1a1a40" stroke="#1a1a40" stroke-width="0.25" >Q2</text>
<text x="148.50" y="274.27" font-size="2.7" text-anchor="end" font-weight="bold" fill="#1a1a40" stroke="#1a1a40" stroke-width="0.25" >26.4%</text>
<text x="106.60" y="301.47" font-size="2.7" text-anchor="start" font-weight="bold" fill="#1a1a40" stroke="#1a1a40" stroke-width="0.25" >Q4</text>
<text x="106.60" y="304.77" font-size="2.7" text-anchor="start" font-weight="bold" fill="#1a1a40" stroke="#1a1a40" stroke-width="0.25" >71.3%</text>
<text x="148.50" y="301.47" font-size="2.7" text-anchor="end" font-weight="bold" fill="#1a1a40" stroke="#1a1a40" stroke-width="0.25" >Q3</text>
<text x="148.50" y="304.77" font-size="2.7" text-anchor="end" font-weight="bold" fill="#1a1a40" stroke="#1a1a40" stroke-width="0.25" >0.479%</text>
<rect x="160.20" y="267.60" width="44.90" height="37.50" fill="#fff" stroke="#444" stroke-width="0.7" />
<line x1="173.50" y1="267.60" x2="173.50" y2="305.10" stroke="#a8a8a8" stroke-width="0.8" />
<line x1="160.20" y1="290.50" x2="205.10" y2="290.50" stroke="#a8a8a8" stroke-width="0.8" />
<text transform="translate(157.60,271.50) rotate(-40)" font-size="3" text-anchor="middle" fill="#888">10<tspan font-size="2" dy="-1">5</tspan></text>
<line x1="159.40" y1="270.90" x2="160.20" y2="270.90" stroke="#555" stroke-width="0.5" />
<text transform="translate(157.60,277.80) rotate(-40)" font-size="3" text-anchor="middle" fill="#888">10<tspan font-size="2" dy="-1">5</tspan></text>
<line x1="159.40" y1="277.20" x2="160.20" y2="277.20" stroke="#555" stroke-width="0.5" />
<text transform="translate(157.60,285.60) rotate(-40)" font-size="3" text-anchor="middle" fill="#888">10<tspan font-size="2" dy="-1">5</tspan></text>
<line x1="159.40" y1="285.00" x2="160.20" y2="285.00" stroke="#555" stroke-width="0.5" />
<text transform="translate(157.60,295.60) rotate(-40)" font-size="3" text-anchor="middle" fill="#888">10<tspan font-size="2" dy="-1">5</tspan></text>
<line x1="159.40" y1="295.00" x2="160.20" y2="295.00" stroke="#555" stroke-width="0.5" />
<text transform="translate(157.60,302.70) rotate(-40)" font-size="3" text-anchor="middle" fill="#888">10<tspan font-size="2" dy="-1">5</tspan></text>
<line x1="159.40" y1="302.10" x2="160.20" y2="302.10" stroke="#555" stroke-width="0.5" />
<text transform="translate(163.20,308.50) rotate(-40)" font-size="3" text-anchor="middle" fill="#888">10<tspan font-size="2" dy="-1">5</tspan></text>
<line x1="163.20" y1="305.10" x2="163.20" y2="305.90" stroke="#555" stroke-width="0.5" />
<text transform="translate(173.70,308.50) rotate(-40)" font-size="3" text-anchor="middle" fill="#888">10<tspan font-size="2" dy="-1">5</tspan></text>
<line x1="173.70" y1="305.10" x2="173.70" y2="305.90" stroke="#555" stroke-width="0.5" />
<text transform="translate(183.70,308.50) rotate(-40)" font-size="3" text-anchor="middle" fill="#888">10<tspan font-size="2" dy="-1">5</tspan></text>
<line x1="183.70" y1="305.10" x2="183.70" y2="305.90" stroke="#555" stroke-width="0.5" />
<text transform="translate(193.70,308.50) rotate(-40)" font-size="3" text-anchor="middle" fill="#888">10<tspan font-size="2" dy="-1">5</tspan></text>
<line x1="193.70" y1="305.10" x2="193.70" y2="305.90" stroke="#555" stroke-width="0.5" />
<text transform="translate(203.20,308.50) rotate(-40)" font-size="3" text-anchor="middle" fill="#888">10<tspan font-size="2" dy="-1">5</tspan></text>
<line x1="203.20" y1="305.10" x2="203.20" y2="305.90" stroke="#555" stroke-width="0.5" />
<path d="M172.3,278 C172.5,275.5 176,274.6 180,275.2 C183,275.8 185,276.8 187.5,275.5 C191,274 196,274 198.5,275.5 C200,277.5 199,281 197,283.5 C194.5,285.8 190,286 187,284.5 C185,283.5 183,284.8 180.5,285.5 C177,286.2 174.5,285 173.5,283 C172.5,281.5 172.1,279.8 172.3,278 Z" fill="#3048a8" stroke="#1a2572" stroke-width="0.9" stroke-linejoin="round"/>
<path d="M172.3,278 C172.5,275.5 176,274.6 180,275.2 C183,275.8 185,276.8 187.5,275.5 C191,274 196,274 198.5,275.5 C200,277.5 199,281 197,283.5 C194.5,285.8 190,286 187,284.5 C185,283.5 183,284.8 180.5,285.5 C177,286.2 174.5,285 173.5,283 C172.5,281.5 172.1,279.8 172.3,278 Z" fill="#4a6ac4" transform="translate(183.99,280.02) scale(0.62) translate(-183.99,-280.02)" opacity="0.85"/>
<ellipse cx="192.6" cy="279.2" rx="4.5" ry="3.0" fill="#7fb3e6" opacity="1" transform="rotate(-10 192.6 279.2)"/>
<ellipse cx="192.6" cy="279" rx="2.3" ry="1.6" fill="#7cc04c" opacity="1" transform="rotate(-10 192.6 279)"/>
<ellipse cx="177.5" cy="279" rx="1.6" ry="1.0" fill="#fff" opacity="1" transform="rotate(20 177.5 279)"/>
<ellipse cx="181.5" cy="281.5" rx="1.4" ry="0.9" fill="#fff" opacity="1" transform="rotate(20 181.5 281.5)"/>
<ellipse cx="184.5" cy="279.5" rx="1.3" ry="0.8" fill="#fff" opacity="1" transform="rotate(0 184.5 279.5)"/>
<path d="M164,283 C165.5,281.5 167.5,282 168.5,284 C169.5,286 172,286.5 173.5,288 C174.5,290 173,292 171.5,294 C170.5,297 170,300 167.5,300.8 C165,301.2 163.5,299 163.3,296 C163.1,292 163.6,287 164,283 Z" fill="#3048a8" stroke="#1a2572" stroke-width="0.9" stroke-linejoin="round"/>
<path d="M164,283 C165.5,281.5 167.5,282 168.5,284 C169.5,286 172,286.5 173.5,288 C174.5,290 173,292 171.5,294 C170.5,297 170,300 167.5,300.8 C165,301.2 163.5,299 163.3,296 C163.1,292 163.6,287 164,283 Z" fill="#4a6ac4" transform="translate(167.89,290.68) scale(0.62) translate(-167.89,-290.68)" opacity="0.85"/>
<ellipse cx="166.6" cy="295" rx="2.2" ry="4.2" fill="#7fb3e6" opacity="1" transform="rotate(5 166.6 295)"/>
<ellipse cx="166.4" cy="296.2" rx="1.5" ry="2.6" fill="#7cc04c" opacity="1" transform="rotate(5 166.4 296.2)"/>
<ellipse cx="166.3" cy="296.8" rx="0.7" ry="1.1" fill="#dde04a" opacity="1" transform="rotate(0 166.3 296.8)"/>
<ellipse cx="167.6" cy="276.8" rx="0.5" ry="0.5" fill="#1a2572" opacity="1" transform="rotate(0 167.6 276.8)"/>
<ellipse cx="167.6" cy="280" rx="0.5" ry="0.5" fill="#1a2572" opacity="1" transform="rotate(0 167.6 280)"/>
<text x="161.20" y="270.67" font-size="2.7" text-anchor="start" font-weight="bold" fill="#1a1a40" stroke="#1a1a40" stroke-width="0.25" >Q1</text>
<text x="161.20" y="274.27" font-size="2.7" text-anchor="start" font-weight="bold" fill="#1a1a40" stroke="#1a1a40" stroke-width="0.25" >5.81%</text>
<text x="204.10" y="270.67" font-size="2.7" text-anchor="end" font-weight="bold" fill="#1a1a40" stroke="#1a1a40" stroke-width="0.25" >Q2</text>
<text x="204.10" y="274.27" font-size="2.7" text-anchor="end" font-weight="bold" fill="#1a1a40" stroke="#1a1a40" stroke-width="0.25" >55.2%</text>
<text x="161.20" y="301.47" font-size="2.7" text-anchor="start" font-weight="bold" fill="#1a1a40" stroke="#1a1a40" stroke-width="0.25" >Q4</text>
<text x="161.20" y="304.77" font-size="2.7" text-anchor="start" font-weight="bold" fill="#1a1a40" stroke="#1a1a40" stroke-width="0.25" >78.5%</text>
<text x="204.10" y="301.47" font-size="2.7" text-anchor="end" font-weight="bold" fill="#1a1a40" stroke="#1a1a40" stroke-width="0.25" >Q3</text>
<text x="204.10" y="304.77" font-size="2.7" text-anchor="end" font-weight="bold" fill="#1a1a40" stroke="#1a1a40" stroke-width="0.25" >0.150%</text>
<rect x="50.60" y="314.40" width="44.40" height="37.50" fill="#fff" stroke="#444" stroke-width="0.7" />
<line x1="63.50" y1="314.40" x2="63.50" y2="351.90" stroke="#a8a8a8" stroke-width="0.8" />
<line x1="50.60" y1="336.50" x2="95.00" y2="336.50" stroke="#a8a8a8" stroke-width="0.8" />
<text transform="translate(48.00,318.30) rotate(-40)" font-size="3" text-anchor="middle" fill="#888">10<tspan font-size="2" dy="-1">5</tspan></text>
<line x1="49.80" y1="317.70" x2="50.60" y2="317.70" stroke="#555" stroke-width="0.5" />
<text transform="translate(48.00,324.60) rotate(-40)" font-size="3" text-anchor="middle" fill="#888">10<tspan font-size="2" dy="-1">5</tspan></text>
<line x1="49.80" y1="324.00" x2="50.60" y2="324.00" stroke="#555" stroke-width="0.5" />
<text transform="translate(48.00,332.40) rotate(-40)" font-size="3" text-anchor="middle" fill="#888">10<tspan font-size="2" dy="-1">5</tspan></text>
<line x1="49.80" y1="331.80" x2="50.60" y2="331.80" stroke="#555" stroke-width="0.5" />
<text transform="translate(48.00,342.40) rotate(-40)" font-size="3" text-anchor="middle" fill="#888">10<tspan font-size="2" dy="-1">5</tspan></text>
<line x1="49.80" y1="341.80" x2="50.60" y2="341.80" stroke="#555" stroke-width="0.5" />
<text transform="translate(48.00,349.50) rotate(-40)" font-size="3" text-anchor="middle" fill="#888">10<tspan font-size="2" dy="-1">5</tspan></text>
<line x1="49.80" y1="348.90" x2="50.60" y2="348.90" stroke="#555" stroke-width="0.5" />
<text transform="translate(53.60,355.30) rotate(-40)" font-size="3" text-anchor="middle" fill="#888">10<tspan font-size="2" dy="-1">5</tspan></text>
<line x1="53.60" y1="351.90" x2="53.60" y2="352.70" stroke="#555" stroke-width="0.5" />
<text transform="translate(64.10,355.30) rotate(-40)" font-size="3" text-anchor="middle" fill="#888">10<tspan font-size="2" dy="-1">5</tspan></text>
<line x1="64.10" y1="351.90" x2="64.10" y2="352.70" stroke="#555" stroke-width="0.5" />
<text transform="translate(74.10,355.30) rotate(-40)" font-size="3" text-anchor="middle" fill="#888">10<tspan font-size="2" dy="-1">5</tspan></text>
<line x1="74.10" y1="351.90" x2="74.10" y2="352.70" stroke="#555" stroke-width="0.5" />
<text transform="translate(84.10,355.30) rotate(-40)" font-size="3" text-anchor="middle" fill="#888">10<tspan font-size="2" dy="-1">5</tspan></text>
<line x1="84.10" y1="351.90" x2="84.10" y2="352.70" stroke="#555" stroke-width="0.5" />
<text transform="translate(93.60,355.30) rotate(-40)" font-size="3" text-anchor="middle" fill="#888">10<tspan font-size="2" dy="-1">5</tspan></text>
<line x1="93.60" y1="351.90" x2="93.60" y2="352.70" stroke="#555" stroke-width="0.5" />
<path d="M72.3,325.3 C74,324.6 76.5,324.5 79,324 C82,322.5 86,321.5 89,321.8 C90.5,322.5 89.5,325 87.5,326.8 C85.5,328.3 82,328.8 79.5,327.5 C77.5,326.5 75,326.5 72.5,326.2 C71.8,326 71.8,325.5 72.3,325.3 Z" fill="#3048a8" stroke="#1a2572" stroke-width="0.9" stroke-linejoin="round"/>
<path d="M72.3,325.3 C74,324.6 76.5,324.5 79,324 C82,322.5 86,321.5 89,321.8 C90.5,322.5 89.5,325 87.5,326.8 C85.5,328.3 82,328.8 79.5,327.5 C77.5,326.5 75,326.5 72.5,326.2 C71.8,326 71.8,325.5 72.3,325.3 Z" fill="#4a6ac4" transform="translate(79.69,325.22) scale(0.62) translate(-79.69,-325.22)" opacity="0.85"/>
<path d="M55,332.5 C57,331.3 60.5,331.5 61.8,333.5 C63,336 62,339 61.5,341.5 C61,344 59.5,346.3 57,346.2 C54.5,346 53.5,343.5 53.6,340.5 C53.7,337 53.8,334 55,332.5 Z" fill="#3048a8" stroke="#1a2572" stroke-width="0.9" stroke-linejoin="round"/>
<path d="M55,332.5 C57,331.3 60.5,331.5 61.8,333.5 C63,336 62,339 61.5,341.5 C61,344 59.5,346.3 57,346.2 C54.5,346 53.5,343.5 53.6,340.5 C53.7,337 53.8,334 55,332.5 Z" fill="#4a6ac4" transform="translate(57.65,338.46) scale(0.62) translate(-57.65,-338.46)" opacity="0.85"/>
<ellipse cx="57.7" cy="341" rx="1.9" ry="3.4" fill="#7fb3e6" opacity="1" transform="rotate(10 57.7 341)"/>
<ellipse cx="57.5" cy="342" rx="1.2" ry="2.0" fill="#7cc04c" opacity="1" transform="rotate(10 57.5 342)"/>
<text x="51.60" y="317.47" font-size="2.7" text-anchor="start" font-weight="bold" fill="#1a1a40" stroke="#1a1a40" stroke-width="0.25" >Q1</text>
<text x="51.60" y="321.07" font-size="2.7" text-anchor="start" font-weight="bold" fill="#1a1a40" stroke="#1a1a40" stroke-width="0.25" >1.71%</text>
<text x="94.00" y="317.47" font-size="2.7" text-anchor="end" font-weight="bold" fill="#1a1a40" stroke="#1a1a40" stroke-width="0.25" >Q2</text>
<text x="94.00" y="321.07" font-size="2.7" text-anchor="end" font-weight="bold" fill="#1a1a40" stroke="#1a1a40" stroke-width="0.25" >3.48%</text>
<text x="51.60" y="348.27" font-size="2.7" text-anchor="start" font-weight="bold" fill="#1a1a40" stroke="#1a1a40" stroke-width="0.25" >Q4</text>
<text x="51.60" y="351.57" font-size="2.7" text-anchor="start" font-weight="bold" fill="#1a1a40" stroke="#1a1a40" stroke-width="0.25" >94.2%</text>
<text x="94.00" y="348.27" font-size="2.7" text-anchor="end" font-weight="bold" fill="#1a1a40" stroke="#1a1a40" stroke-width="0.25" >Q3</text>
<text x="94.00" y="351.57" font-size="2.7" text-anchor="end" font-weight="bold" fill="#1a1a40" stroke="#1a1a40" stroke-width="0.25" >0.459%</text>
<rect x="105.50" y="314.40" width="43.80" height="37.50" fill="#fff" stroke="#444" stroke-width="0.7" />
<line x1="119.50" y1="314.40" x2="119.50" y2="351.90" stroke="#a8a8a8" stroke-width="0.8" />
<line x1="105.50" y1="336.50" x2="149.30" y2="336.50" stroke="#a8a8a8" stroke-width="0.8" />
<text transform="translate(102.90,318.30) rotate(-40)" font-size="3" text-anchor="middle" fill="#888">10<tspan font-size="2" dy="-1">5</tspan></text>
<line x1="104.70" y1="317.70" x2="105.50" y2="317.70" stroke="#555" stroke-width="0.5" />
<text transform="translate(102.90,324.60) rotate(-40)" font-size="3" text-anchor="middle" fill="#888">10<tspan font-size="2" dy="-1">5</tspan></text>
<line x1="104.70" y1="324.00" x2="105.50" y2="324.00" stroke="#555" stroke-width="0.5" />
<text transform="translate(102.90,332.40) rotate(-40)" font-size="3" text-anchor="middle" fill="#888">10<tspan font-size="2" dy="-1">5</tspan></text>
<line x1="104.70" y1="331.80" x2="105.50" y2="331.80" stroke="#555" stroke-width="0.5" />
<text transform="translate(102.90,342.40) rotate(-40)" font-size="3" text-anchor="middle" fill="#888">10<tspan font-size="2" dy="-1">5</tspan></text>
<line x1="104.70" y1="341.80" x2="105.50" y2="341.80" stroke="#555" stroke-width="0.5" />
<text transform="translate(102.90,349.50) rotate(-40)" font-size="3" text-anchor="middle" fill="#888">10<tspan font-size="2" dy="-1">5</tspan></text>
<line x1="104.70" y1="348.90" x2="105.50" y2="348.90" stroke="#555" stroke-width="0.5" />
<text transform="translate(108.50,355.30) rotate(-40)" font-size="3" text-anchor="middle" fill="#888">10<tspan font-size="2" dy="-1">5</tspan></text>
<line x1="108.50" y1="351.90" x2="108.50" y2="352.70" stroke="#555" stroke-width="0.5" />
<text transform="translate(119.00,355.30) rotate(-40)" font-size="3" text-anchor="middle" fill="#888">10<tspan font-size="2" dy="-1">5</tspan></text>
<line x1="119.00" y1="351.90" x2="119.00" y2="352.70" stroke="#555" stroke-width="0.5" />
<text transform="translate(129.00,355.30) rotate(-40)" font-size="3" text-anchor="middle" fill="#888">10<tspan font-size="2" dy="-1">5</tspan></text>
<line x1="129.00" y1="351.90" x2="129.00" y2="352.70" stroke="#555" stroke-width="0.5" />
<text transform="translate(139.00,355.30) rotate(-40)" font-size="3" text-anchor="middle" fill="#888">10<tspan font-size="2" dy="-1">5</tspan></text>
<line x1="139.00" y1="351.90" x2="139.00" y2="352.70" stroke="#555" stroke-width="0.5" />
<text transform="translate(148.50,355.30) rotate(-40)" font-size="3" text-anchor="middle" fill="#888">10<tspan font-size="2" dy="-1">5</tspan></text>
<line x1="148.50" y1="351.90" x2="148.50" y2="352.70" stroke="#555" stroke-width="0.5" />
<path d="M108.9,346.3 C107.5,344 107.6,341 109,338 C109.8,335 110,332 111,330 C113,328.5 117,328 120,327.3 C123,326.5 125,326 126,323.5 C127,321.5 131,322 134,321.5 C137,321 140,320 143.8,320 C144.5,322 143,325 142,328 C141,331 139.5,333.2 137,333 C135.5,332.3 136,329.5 134.5,329 C132,329 129.5,330 127,331.3 C124,332.5 121.5,332 119.5,334 C117.5,336 117.5,339 116.5,342 C115.5,345 112,347 108.9,346.3 Z" fill="#3048a8" stroke="#1a2572" stroke-width="0.9" stroke-linejoin="round"/>
<path d="M108.9,346.3 C107.5,344 107.6,341 109,338 C109.8,335 110,332 111,330 C113,328.5 117,328 120,327.3 C123,326.5 125,326 126,323.5 C127,321.5 131,322 134,321.5 C137,321 140,320 143.8,320 C144.5,322 143,325 142,328 C141,331 139.5,333.2 137,333 C135.5,332.3 136,329.5 134.5,329 C132,329 129.5,330 127,331.3 C124,332.5 121.5,332 119.5,334 C117.5,336 117.5,339 116.5,342 C115.5,345 112,347 108.9,346.3 Z" fill="#4a6ac4" transform="translate(124.88,331.48) scale(0.62) translate(-124.88,-331.48)" opacity="0.85"/>
<ellipse cx="137.6" cy="324.4" rx="3.8" ry="2.2" fill="#7fb3e6" opacity="1" transform="rotate(-10 137.6 324.4)"/>
<ellipse cx="137.6" cy="324.4" rx="1.8" ry="1.1" fill="#a8dcd0" opacity="1" transform="rotate(-10 137.6 324.4)"/>
<ellipse cx="111.5" cy="342.5" rx="2.2" ry="3.8" fill="#7fb3e6" opacity="1" transform="rotate(15 111.5 342.5)"/>
<ellipse cx="111.4" cy="343.2" rx="1.4" ry="2.4" fill="#7cc04c" opacity="1" transform="rotate(15 111.4 343.2)"/>
<ellipse cx="111.3" cy="343.7" rx="0.7" ry="1.1" fill="#dde04a" opacity="1" transform="rotate(0 111.3 343.7)"/>
<ellipse cx="110.75" cy="322.5" rx="0.6" ry="0.6" fill="#1a2572" opacity="1" transform="rotate(0 110.75 322.5)"/>
<ellipse cx="125" cy="333.1" rx="0.8" ry="0.5" fill="#1a2572" opacity="1" transform="rotate(0 125 333.1)"/>
<text x="106.50" y="317.47" font-size="2.7" text-anchor="start" font-weight="bold" fill="#1a1a40" stroke="#1a1a40" stroke-width="0.25" >Q1</text>
<text x="106.50" y="321.07" font-size="2.7" text-anchor="start" font-weight="bold" fill="#1a1a40" stroke="#1a1a40" stroke-width="0.25" >2.08%</text>
<text x="148.30" y="317.47" font-size="2.7" text-anchor="end" font-weight="bold" fill="#1a1a40" stroke="#1a1a40" stroke-width="0.25" >Q2</text>
<text x="148.30" y="321.07" font-size="2.7" text-anchor="end" font-weight="bold" fill="#1a1a40" stroke="#1a1a40" stroke-width="0.25" >17.1%</text>
<text x="106.50" y="348.27" font-size="2.7" text-anchor="start" font-weight="bold" fill="#1a1a40" stroke="#1a1a40" stroke-width="0.25" >Q4</text>
<text x="106.50" y="351.57" font-size="2.7" text-anchor="start" font-weight="bold" fill="#1a1a40" stroke="#1a1a40" stroke-width="0.25" >69.8%</text>
<text x="148.30" y="348.27" font-size="2.7" text-anchor="end" font-weight="bold" fill="#1a1a40" stroke="#1a1a40" stroke-width="0.25" >Q3</text>
<text x="148.30" y="351.57" font-size="2.7" text-anchor="end" font-weight="bold" fill="#1a1a40" stroke="#1a1a40" stroke-width="0.25" >0.112%</text>
<rect x="160.50" y="314.40" width="43.70" height="37.50" fill="#fff" stroke="#444" stroke-width="0.7" />
<line x1="173.50" y1="314.40" x2="173.50" y2="351.90" stroke="#a8a8a8" stroke-width="0.8" />
<line x1="160.50" y1="336.50" x2="204.20" y2="336.50" stroke="#a8a8a8" stroke-width="0.8" />
<text transform="translate(157.90,318.30) rotate(-40)" font-size="3" text-anchor="middle" fill="#888">10<tspan font-size="2" dy="-1">5</tspan></text>
<line x1="159.70" y1="317.70" x2="160.50" y2="317.70" stroke="#555" stroke-width="0.5" />
<text transform="translate(157.90,324.60) rotate(-40)" font-size="3" text-anchor="middle" fill="#888">10<tspan font-size="2" dy="-1">5</tspan></text>
<line x1="159.70" y1="324.00" x2="160.50" y2="324.00" stroke="#555" stroke-width="0.5" />
<text transform="translate(157.90,332.40) rotate(-40)" font-size="3" text-anchor="middle" fill="#888">10<tspan font-size="2" dy="-1">5</tspan></text>
<line x1="159.70" y1="331.80" x2="160.50" y2="331.80" stroke="#555" stroke-width="0.5" />
<text transform="translate(157.90,342.40) rotate(-40)" font-size="3" text-anchor="middle" fill="#888">10<tspan font-size="2" dy="-1">5</tspan></text>
<line x1="159.70" y1="341.80" x2="160.50" y2="341.80" stroke="#555" stroke-width="0.5" />
<text transform="translate(157.90,349.50) rotate(-40)" font-size="3" text-anchor="middle" fill="#888">10<tspan font-size="2" dy="-1">5</tspan></text>
<line x1="159.70" y1="348.90" x2="160.50" y2="348.90" stroke="#555" stroke-width="0.5" />
<text transform="translate(163.50,355.30) rotate(-40)" font-size="3" text-anchor="middle" fill="#888">10<tspan font-size="2" dy="-1">5</tspan></text>
<line x1="163.50" y1="351.90" x2="163.50" y2="352.70" stroke="#555" stroke-width="0.5" />
<text transform="translate(174.00,355.30) rotate(-40)" font-size="3" text-anchor="middle" fill="#888">10<tspan font-size="2" dy="-1">5</tspan></text>
<line x1="174.00" y1="351.90" x2="174.00" y2="352.70" stroke="#555" stroke-width="0.5" />
<text transform="translate(184.00,355.30) rotate(-40)" font-size="3" text-anchor="middle" fill="#888">10<tspan font-size="2" dy="-1">5</tspan></text>
<line x1="184.00" y1="351.90" x2="184.00" y2="352.70" stroke="#555" stroke-width="0.5" />
<text transform="translate(194.00,355.30) rotate(-40)" font-size="3" text-anchor="middle" fill="#888">10<tspan font-size="2" dy="-1">5</tspan></text>
<line x1="194.00" y1="351.90" x2="194.00" y2="352.70" stroke="#555" stroke-width="0.5" />
<text transform="translate(203.50,355.30) rotate(-40)" font-size="3" text-anchor="middle" fill="#888">10<tspan font-size="2" dy="-1">5</tspan></text>
<line x1="203.50" y1="351.90" x2="203.50" y2="352.70" stroke="#555" stroke-width="0.5" />
<path d="M176.4,327.8 C176.5,325 178.5,323 181,322.5 C186,321.8 192,321 198.8,320.5 C199.5,322.5 198.5,325.5 196.5,328 C193,328.8 188,329.5 184,330 C180.5,330.4 177,330 176.4,327.8 Z" fill="#3048a8" stroke="#1a2572" stroke-width="0.9" stroke-linejoin="round"/>
<path d="M176.4,327.8 C176.5,325 178.5,323 181,322.5 C186,321.8 192,321 198.8,320.5 C199.5,322.5 198.5,325.5 196.5,328 C193,328.8 188,329.5 184,330 C180.5,330.4 177,330 176.4,327.8 Z" fill="#4a6ac4" transform="translate(186.41,325.88) scale(0.62) translate(-186.41,-325.88)" opacity="0.85"/>
<ellipse cx="193.2" cy="323.4" rx="3.2" ry="2.0" fill="#7fb3e6" opacity="1" transform="rotate(-15 193.2 323.4)"/>
<ellipse cx="193.2" cy="323.3" rx="1.6" ry="1.0" fill="#7cc04c" opacity="1" transform="rotate(-15 193.2 323.3)"/>
<path d="M164.2,328.5 C165.5,327 169,327 171,328 C173.5,329.5 174.2,332 173.5,334.5 C172.5,337 172,340 170.5,343 C169.5,345.5 167,346.5 165,345.5 C163.5,344 163.6,340 163.8,336 C163.9,333 163.7,330.5 164.2,328.5 Z" fill="#3048a8" stroke="#1a2572" stroke-width="0.9" stroke-linejoin="round"/>
<path d="M164.2,328.5 C165.5,327 169,327 171,328 C173.5,329.5 174.2,332 173.5,334.5 C172.5,337 172,340 170.5,343 C169.5,345.5 167,346.5 165,345.5 C163.5,344 163.6,340 163.8,336 C163.9,333 163.7,330.5 164.2,328.5 Z" fill="#4a6ac4" transform="translate(167.90,335.58) scale(0.62) translate(-167.90,-335.58)" opacity="0.85"/>
<ellipse cx="166.6" cy="341.5" rx="2.2" ry="4.2" fill="#7fb3e6" opacity="1" transform="rotate(5 166.6 341.5)"/>
<ellipse cx="166.4" cy="342.5" rx="1.5" ry="2.6" fill="#7cc04c" opacity="1" transform="rotate(5 166.4 342.5)"/>
<ellipse cx="166.3" cy="343" rx="0.7" ry="1.1" fill="#dde04a" opacity="1" transform="rotate(0 166.3 343)"/>
<ellipse cx="192.6" cy="331.25" rx="0.6" ry="0.5" fill="#1a2572" opacity="1" transform="rotate(0 192.6 331.25)"/>
<text x="161.50" y="317.47" font-size="2.7" text-anchor="start" font-weight="bold" fill="#1a1a40" stroke="#1a1a40" stroke-width="0.25" >Q1</text>
<text x="161.50" y="321.07" font-size="2.7" text-anchor="start" font-weight="bold" fill="#1a1a40" stroke="#1a1a40" stroke-width="0.25" >4.40%</text>
<text x="203.20" y="317.47" font-size="2.7" text-anchor="end" font-weight="bold" fill="#1a1a40" stroke="#1a1a40" stroke-width="0.25" >Q2</text>
<text x="203.20" y="321.07" font-size="2.7" text-anchor="end" font-weight="bold" fill="#1a1a40" stroke="#1a1a40" stroke-width="0.25" >22.4%</text>
<text x="161.50" y="348.27" font-size="2.7" text-anchor="start" font-weight="bold" fill="#1a1a40" stroke="#1a1a40" stroke-width="0.25" >Q4</text>
<text x="161.50" y="351.57" font-size="2.7" text-anchor="start" font-weight="bold" fill="#1a1a40" stroke="#1a1a40" stroke-width="0.25" >72.2%</text>
<text x="203.20" y="348.27" font-size="2.7" text-anchor="end" font-weight="bold" fill="#1a1a40" stroke="#1a1a40" stroke-width="0.25" >Q3</text>
<text x="203.20" y="351.57" font-size="2.7" text-anchor="end" font-weight="bold" fill="#1a1a40" stroke="#1a1a40" stroke-width="0.25" >0.960%</text>
<text x="158.90" y="362.72" font-size="6.2" text-anchor="start" font-weight="normal" fill="#1a1a1a" stroke="#1a1a1a" stroke-width="0.2" >Propidium iodide</text>
<line x1="158.00" y1="365.30" x2="206.00" y2="365.30" stroke="#111" stroke-width="0.8" />
<path d="M209,365.3 L205,363.5 L205,367.1 Z" fill="#111"/>
<text transform="translate(213.49,338.50) rotate(-90)" font-size="6.4" text-anchor="middle" font-weight="normal" fill="#1a1a1a" stroke="#1a1a1a" stroke-width="0.2">Annexin V-FITC</text>
<line x1="215.30" y1="313.50" x2="215.30" y2="363.50" stroke="#111" stroke-width="0.8" />
<path d="M215.3,310.5 L213.5,314.5 L217.1,314.5 Z" fill="#111"/>
<text x="286.90" y="9.52" font-size="10.8" text-anchor="start" font-weight="bold" fill="#111" stroke="#111" stroke-width="0.24" >C</text>
<rect x="311.30" y="19.50" width="55.00" height="44.30" fill="#fff" stroke="#8a8a8a" stroke-width="0.7" />
<defs><filter id="bl1" x="-20%" y="-20%" width="140%" height="140%"><feGaussianBlur stdDeviation="0.45"/></filter><filter id="bl2" x="-30%" y="-30%" width="160%" height="160%"><feGaussianBlur stdDeviation="0.9"/></filter><linearGradient id="up1" x1="0" y1="0" x2="1" y2="0"><stop offset="0" stop-color="#4a5470" stop-opacity="0.95"/><stop offset="0.45" stop-color="#7a86a6" stop-opacity="0.6"/><stop offset="1" stop-color="#b0b8d0" stop-opacity="0"/></linearGradient><linearGradient id="gt1" x1="0" y1="0" x2="1" y2="0"><stop offset="0" stop-color="#66729a" stop-opacity="0.8"/><stop offset="0.5" stop-color="#98a4c8" stop-opacity="0.45"/><stop offset="1" stop-color="#c0c8e0" stop-opacity="0"/></linearGradient></defs>
<g filter="url(#bl1)">
<rect x="319.60" y="19.60" width="21.00" height="6.60" fill="url(#up1)" stroke="none" stroke-width="1" />
<rect x="319.60" y="19.60" width="9.00" height="3.00" fill="#3e4660" stroke="none" stroke-width="1" opacity="0.6"/>
<rect x="319.60" y="30.80" width="17.00" height="32.40" fill="url(#gt1)" stroke="none" stroke-width="1" />
<rect x="319.60" y="38.00" width="3.20" height="25.00" fill="#5a6688" stroke="none" stroke-width="1" opacity="0.45"/>
<ellipse cx="321.3" cy="59" rx="1.6" ry="4" fill="#8aa878" opacity="0.45"/>
<circle cx="323.10" cy="22.72" r="0.4" fill="#6d7898" opacity="0.5"/>
<circle cx="327.90" cy="22.76" r="0.4" fill="#5b6690" opacity="0.5"/>
<circle cx="324.33" cy="22.58" r="0.4" fill="#9aa3bb" opacity="0.5"/>
<circle cx="325.38" cy="22.26" r="0.4" fill="#9aa3bb" opacity="0.5"/>
<circle cx="328.21" cy="22.66" r="0.4" fill="#8a93ad" opacity="0.5"/>
<circle cx="320.84" cy="20.65" r="0.4" fill="#6d7898" opacity="0.5"/>
<circle cx="320.89" cy="21.34" r="0.4" fill="#8a93ad" opacity="0.5"/>
<circle cx="330.63" cy="22.80" r="0.4" fill="#5b6690" opacity="0.5"/>
<circle cx="320.19" cy="22.85" r="0.4" fill="#7b86a8" opacity="0.5"/>
<circle cx="321.69" cy="24.40" r="0.4" fill="#8a93ad" opacity="0.5"/>
<circle cx="327.63" cy="23.10" r="0.4" fill="#8a93ad" opacity="0.5"/>
<circle cx="320.93" cy="23.27" r="0.4" fill="#6d7898" opacity="0.5"/>
<circle cx="319.53" cy="21.23" r="0.4" fill="#9aa3bb" opacity="0.5"/>
<circle cx="322.43" cy="20.66" r="0.4" fill="#5b6690" opacity="0.5"/>
<circle cx="322.29" cy="22.81" r="0.4" fill="#8a93ad" opacity="0.5"/>
<circle cx="323.18" cy="21.01" r="0.4" fill="#7b86a8" opacity="0.5"/>
<circle cx="322.73" cy="23.56" r="0.4" fill="#5b6690" opacity="0.5"/>
<circle cx="323.63" cy="20.86" r="0.4" fill="#6d7898" opacity="0.5"/>
<circle cx="326.69" cy="22.98" r="0.4" fill="#5b6690" opacity="0.5"/>
<circle cx="326.34" cy="23.32" r="0.4" fill="#6d7898" opacity="0.5"/>
<circle cx="325.37" cy="21.87" r="0.4" fill="#7b86a8" opacity="0.5"/>
<circle cx="321.90" cy="23.99" r="0.4" fill="#7b86a8" opacity="0.5"/>
<circle cx="325.41" cy="22.26" r="0.4" fill="#5b6690" opacity="0.5"/>
<circle cx="329.05" cy="22.81" r="0.4" fill="#7b86a8" opacity="0.5"/>
<circle cx="330.50" cy="21.89" r="0.4" fill="#5b6690" opacity="0.5"/>
<circle cx="321.04" cy="23.52" r="0.4" fill="#9aa3bb" opacity="0.5"/>
<circle cx="329.58" cy="22.87" r="0.4" fill="#8a93ad" opacity="0.5"/>
<circle cx="323.74" cy="20.59" r="0.4" fill="#9aa3bb" opacity="0.5"/>
<circle cx="327.34" cy="22.74" r="0.4" fill="#7b86a8" opacity="0.5"/>
<circle cx="323.67" cy="22.75" r="0.4" fill="#9aa3bb" opacity="0.5"/>
<circle cx="325.86" cy="21.15" r="0.4" fill="#9aa3bb" opacity="0.5"/>
<circle cx="329.28" cy="21.82" r="0.4" fill="#9aa3bb" opacity="0.5"/>
<circle cx="325.93" cy="21.79" r="0.4" fill="#8a93ad" opacity="0.5"/>
<circle cx="326.98" cy="23.67" r="0.4" fill="#6d7898" opacity="0.5"/>
<circle cx="323.97" cy="22.13" r="0.4" fill="#9aa3bb" opacity="0.5"/>
<circle cx="323.24" cy="22.66" r="0.4" fill="#7b86a8" opacity="0.5"/>
<circle cx="328.86" cy="21.37" r="0.4" fill="#6d7898" opacity="0.5"/>
<circle cx="329.05" cy="21.37" r="0.4" fill="#7b86a8" opacity="0.5"/>
<circle cx="321.25" cy="22.88" r="0.4" fill="#6d7898" opacity="0.5"/>
<circle cx="320.48" cy="22.16" r="0.4" fill="#8a93ad" opacity="0.5"/>
<circle cx="326.18" cy="22.39" r="0.4" fill="#8a93ad" opacity="0.5"/>
<circle cx="327.66" cy="23.21" r="0.4" fill="#6d7898" opacity="0.5"/>
<circle cx="326.00" cy="22.00" r="0.4" fill="#6d7898" opacity="0.5"/>
<circle cx="328.58" cy="21.39" r="0.4" fill="#6d7898" opacity="0.5"/>
<circle cx="327.40" cy="20.63" r="0.4" fill="#8a93ad" opacity="0.5"/>
<circle cx="320.82" cy="21.05" r="0.4" fill="#6d7898" opacity="0.5"/>
<circle cx="320.07" cy="22.34" r="0.4" fill="#6d7898" opacity="0.5"/>
<circle cx="327.60" cy="23.83" r="0.4" fill="#5b6690" opacity="0.5"/>
<circle cx="321.64" cy="21.90" r="0.4" fill="#7b86a8" opacity="0.5"/>
<circle cx="320.54" cy="23.64" r="0.4" fill="#6d7898" opacity="0.5"/>
<circle cx="324.15" cy="20.82" r="0.4" fill="#6d7898" opacity="0.5"/>
<circle cx="323.10" cy="20.97" r="0.4" fill="#5b6690" opacity="0.5"/>
<circle cx="326.75" cy="21.28" r="0.4" fill="#8a93ad" opacity="0.5"/>
<circle cx="322.81" cy="22.87" r="0.4" fill="#8a93ad" opacity="0.5"/>
<circle cx="323.84" cy="21.00" r="0.4" fill="#7b86a8" opacity="0.5"/>
<circle cx="330.17" cy="21.84" r="0.4" fill="#9aa3bb" opacity="0.5"/>
<circle cx="323.69" cy="24.15" r="0.4" fill="#5b6690" opacity="0.5"/>
<circle cx="332.69" cy="21.74" r="0.4" fill="#5b6690" opacity="0.5"/>
<circle cx="325.42" cy="22.32" r="0.4" fill="#9aa3bb" opacity="0.5"/>
<circle cx="324.78" cy="22.89" r="0.4" fill="#7b86a8" opacity="0.5"/>
<circle cx="328.78" cy="21.82" r="0.4" fill="#6d7898" opacity="0.5"/>
<circle cx="324.45" cy="21.44" r="0.4" fill="#6d7898" opacity="0.5"/>
<circle cx="329.16" cy="20.69" r="0.4" fill="#8a93ad" opacity="0.5"/>
<circle cx="321.83" cy="22.12" r="0.4" fill="#5b6690" opacity="0.5"/>
<circle cx="331.23" cy="23.75" r="0.4" fill="#9aa3bb" opacity="0.5"/>
<circle cx="325.77" cy="22.42" r="0.4" fill="#8a93ad" opacity="0.5"/>
<circle cx="328.61" cy="22.32" r="0.4" fill="#9aa3bb" opacity="0.5"/>
<circle cx="324.68" cy="21.26" r="0.4" fill="#7b86a8" opacity="0.5"/>
<circle cx="329.08" cy="21.75" r="0.4" fill="#5b6690" opacity="0.5"/>
<circle cx="326.46" cy="23.47" r="0.4" fill="#6d7898" opacity="0.5"/>
<circle cx="333.27" cy="22.33" r="0.4" fill="#6d7898" opacity="0.5"/>
<circle cx="325.11" cy="40.50" r="0.4" fill="#5b6690" opacity="0.45"/>
<circle cx="324.96" cy="56.33" r="0.4" fill="#a8b3d0" opacity="0.45"/>
<circle cx="321.68" cy="42.40" r="0.4" fill="#9aa3bb" opacity="0.45"/>
<circle cx="324.63" cy="43.25" r="0.4" fill="#8fa0c8" opacity="0.45"/>
<circle cx="321.65" cy="53.92" r="0.4" fill="#7b86a8" opacity="0.45"/>
<circle cx="325.68" cy="36.04" r="0.4" fill="#a8b3d0" opacity="0.45"/>
<circle cx="327.59" cy="40.75" r="0.4" fill="#7b86a8" opacity="0.45"/>
<circle cx="326.42" cy="54.78" r="0.4" fill="#a8b3d0" opacity="0.45"/>
<circle cx="321.93" cy="48.10" r="0.4" fill="#6d7898" opacity="0.45"/>
<circle cx="324.32" cy="40.94" r="0.4" fill="#8a93ad" opacity="0.45"/>
<circle cx="321.08" cy="43.22" r="0.4" fill="#7b86a8" opacity="0.45"/>
<circle cx="320.06" cy="44.02" r="0.4" fill="#a8b3d0" opacity="0.45"/>
<circle cx="327.53" cy="53.13" r="0.4" fill="#8a93ad" opacity="0.45"/>
<circle cx="324.37" cy="48.47" r="0.4" fill="#6d7898" opacity="0.45"/>
<circle cx="319.51" cy="45.44" r="0.4" fill="#a8b3d0" opacity="0.45"/>
<circle cx="325.00" cy="43.99" r="0.4" fill="#5b6690" opacity="0.45"/>
<circle cx="320.84" cy="39.06" r="0.4" fill="#7b86a8" opacity="0.45"/>
<circle cx="324.88" cy="52.89" r="0.4" fill="#7b86a8" opacity="0.45"/>
<circle cx="320.10" cy="43.87" r="0.4" fill="#8a93ad" opacity="0.45"/>
<circle cx="326.54" cy="43.52" r="0.4" fill="#7b86a8" opacity="0.45"/>
<circle cx="325.84" cy="42.22" r="0.4" fill="#9aa3bb" opacity="0.45"/>
<circle cx="325.16" cy="49.48" r="0.4" fill="#9aa3bb" opacity="0.45"/>
<circle cx="321.90" cy="58.29" r="0.4" fill="#9aa3bb" opacity="0.45"/>
<circle cx="328.67" cy="51.94" r="0.4" fill="#a8b3d0" opacity="0.45"/>
<circle cx="328.36" cy="56.84" r="0.4" fill="#8fa0c8" opacity="0.45"/>
<circle cx="321.93" cy="39.26" r="0.4" fill="#5b6690" opacity="0.45"/>
<circle cx="320.75" cy="52.21" r="0.4" fill="#8fa0c8" opacity="0.45"/>
<circle cx="325.03" cy="41.36" r="0.4" fill="#9aa3bb" opacity="0.45"/>
<circle cx="327.56" cy="45.66" r="0.4" fill="#9aa3bb" opacity="0.45"/>
<circle cx="325.02" cy="53.43" r="0.4" fill="#8fa0c8" opacity="0.45"/>
<circle cx="321.88" cy="52.10" r="0.4" fill="#9aa3bb" opacity="0.45"/>
<circle cx="323.38" cy="46.63" r="0.4" fill="#5b6690" opacity="0.45"/>
<circle cx="321.09" cy="45.18" r="0.4" fill="#6d7898" opacity="0.45"/>
<circle cx="329.95" cy="59.12" r="0.4" fill="#8a93ad" opacity="0.45"/>
<circle cx="325.62" cy="45.25" r="0.4" fill="#5b6690" opacity="0.45"/>
<circle cx="326.45" cy="59.74" r="0.4" fill="#a8b3d0" opacity="0.45"/>
<circle cx="325.14" cy="39.68" r="0.4" fill="#8a93ad" opacity="0.45"/>
<circle cx="319.90" cy="43.53" r="0.4" fill="#9aa3bb" opacity="0.45"/>
<circle cx="323.54" cy="42.29" r="0.4" fill="#6d7898" opacity="0.45"/>
<circle cx="324.68" cy="40.55" r="0.4" fill="#6d7898" opacity="0.45"/>
<circle cx="323.92" cy="47.65" r="0.4" fill="#6d7898" opacity="0.45"/>
<circle cx="324.47" cy="42.43" r="0.4" fill="#a8b3d0" opacity="0.45"/>
<circle cx="324.47" cy="52.95" r="0.4" fill="#6d7898" opacity="0.45"/>
<circle cx="320.95" cy="48.35" r="0.4" fill="#7b86a8" opacity="0.45"/>
<circle cx="323.25" cy="44.15" r="0.4" fill="#8fa0c8" opacity="0.45"/>
<circle cx="324.12" cy="50.32" r="0.4" fill="#8a93ad" opacity="0.45"/>
<circle cx="323.83" cy="51.67" r="0.4" fill="#5b6690" opacity="0.45"/>
<circle cx="321.03" cy="37.99" r="0.4" fill="#8a93ad" opacity="0.45"/>
<circle cx="322.98" cy="56.27" r="0.4" fill="#8a93ad" opacity="0.45"/>
<circle cx="323.19" cy="62.11" r="0.4" fill="#5b6690" opacity="0.45"/>
<circle cx="324.66" cy="46.40" r="0.4" fill="#7b86a8" opacity="0.45"/>
<circle cx="321.85" cy="44.16" r="0.4" fill="#9aa3bb" opacity="0.45"/>
<circle cx="324.10" cy="55.79" r="0.4" fill="#8fa0c8" opacity="0.45"/>
<circle cx="325.56" cy="37.31" r="0.4" fill="#9aa3bb" opacity="0.45"/>
<circle cx="326.95" cy="44.57" r="0.4" fill="#8a93ad" opacity="0.45"/>
<circle cx="327.19" cy="45.09" r="0.4" fill="#a8b3d0" opacity="0.45"/>
<circle cx="328.17" cy="36.18" r="0.4" fill="#8a93ad" opacity="0.45"/>
<circle cx="321.33" cy="50.69" r="0.4" fill="#6d7898" opacity="0.45"/>
<circle cx="324.31" cy="44.70" r="0.4" fill="#8fa0c8" opacity="0.45"/>
<circle cx="323.85" cy="39.10" r="0.4" fill="#8a93ad" opacity="0.45"/>
<circle cx="328.87" cy="50.54" r="0.4" fill="#9aa3bb" opacity="0.45"/>
<circle cx="327.58" cy="36.25" r="0.4" fill="#5b6690" opacity="0.45"/>
<circle cx="319.63" cy="37.96" r="0.4" fill="#6d7898" opacity="0.45"/>
<circle cx="322.02" cy="47.33" r="0.4" fill="#9aa3bb" opacity="0.45"/>
<circle cx="327.33" cy="46.19" r="0.4" fill="#5b6690" opacity="0.45"/>
<circle cx="328.34" cy="44.06" r="0.4" fill="#8a93ad" opacity="0.45"/>
<circle cx="331.07" cy="50.00" r="0.4" fill="#8a93ad" opacity="0.45"/>
<circle cx="323.90" cy="46.33" r="0.4" fill="#9aa3bb" opacity="0.45"/>
<circle cx="326.45" cy="49.66" r="0.4" fill="#8fa0c8" opacity="0.45"/>
<circle cx="325.26" cy="56.17" r="0.4" fill="#6d7898" opacity="0.45"/>
<circle cx="329.43" cy="54.96" r="0.4" fill="#8a93ad" opacity="0.45"/>
<circle cx="323.18" cy="47.55" r="0.4" fill="#6d7898" opacity="0.45"/>
<circle cx="322.49" cy="58.07" r="0.4" fill="#6d7898" opacity="0.45"/>
<circle cx="320.31" cy="40.34" r="0.4" fill="#a8b3d0" opacity="0.45"/>
<circle cx="328.15" cy="61.75" r="0.4" fill="#a8b3d0" opacity="0.45"/>
<circle cx="326.52" cy="39.84" r="0.4" fill="#5b6690" opacity="0.45"/>
<circle cx="323.25" cy="35.67" r="0.4" fill="#5b6690" opacity="0.45"/>
<circle cx="323.19" cy="33.25" r="0.4" fill="#6d7898" opacity="0.45"/>
<circle cx="326.51" cy="33.29" r="0.4" fill="#7b86a8" opacity="0.45"/>
<circle cx="320.03" cy="35.49" r="0.4" fill="#a8b3d0" opacity="0.45"/>
<circle cx="324.08" cy="34.33" r="0.4" fill="#a8b3d0" opacity="0.45"/>
<circle cx="321.80" cy="33.37" r="0.4" fill="#8a93ad" opacity="0.45"/>
<circle cx="324.88" cy="47.34" r="0.4" fill="#8fa0c8" opacity="0.45"/>
<circle cx="322.94" cy="49.25" r="0.4" fill="#a8b3d0" opacity="0.45"/>
<circle cx="322.92" cy="46.87" r="0.4" fill="#6d7898" opacity="0.45"/>
<circle cx="320.29" cy="36.31" r="0.4" fill="#9aa3bb" opacity="0.45"/>
<circle cx="323.67" cy="55.91" r="0.4" fill="#6d7898" opacity="0.45"/>
<circle cx="323.95" cy="35.36" r="0.4" fill="#7b86a8" opacity="0.45"/>
<circle cx="327.58" cy="52.01" r="0.4" fill="#8fa0c8" opacity="0.45"/>
<circle cx="323.78" cy="39.16" r="0.4" fill="#6d7898" opacity="0.45"/>
<circle cx="325.45" cy="40.58" r="0.4" fill="#a8b3d0" opacity="0.45"/>
<circle cx="325.59" cy="60.19" r="0.4" fill="#9aa3bb" opacity="0.45"/>
<circle cx="320.57" cy="46.34" r="0.4" fill="#9aa3bb" opacity="0.45"/>
<circle cx="326.44" cy="42.05" r="0.4" fill="#6d7898" opacity="0.45"/>
<circle cx="320.27" cy="37.34" r="0.4" fill="#6d7898" opacity="0.45"/>
<circle cx="321.45" cy="41.26" r="0.4" fill="#8fa0c8" opacity="0.45"/>
<circle cx="323.87" cy="38.34" r="0.4" fill="#7b86a8" opacity="0.45"/>
<circle cx="326.69" cy="53.68" r="0.4" fill="#9aa3bb" opacity="0.45"/>
<circle cx="323.39" cy="59.34" r="0.4" fill="#8fa0c8" opacity="0.45"/>
<circle cx="324.82" cy="56.22" r="0.4" fill="#8fa0c8" opacity="0.45"/>
<circle cx="320.11" cy="44.96" r="0.4" fill="#9aa3bb" opacity="0.45"/>
<circle cx="321.12" cy="43.64" r="0.4" fill="#6d7898" opacity="0.45"/>
<circle cx="324.61" cy="45.34" r="0.4" fill="#9aa3bb" opacity="0.45"/>
<circle cx="327.69" cy="50.94" r="0.4" fill="#9aa3bb" opacity="0.45"/>
<circle cx="327.46" cy="45.66" r="0.4" fill="#8a93ad" opacity="0.45"/>
<circle cx="325.36" cy="47.77" r="0.4" fill="#8fa0c8" opacity="0.45"/>
<circle cx="328.36" cy="58.34" r="0.4" fill="#7b86a8" opacity="0.45"/>
<circle cx="323.68" cy="50.33" r="0.4" fill="#5b6690" opacity="0.45"/>
<circle cx="323.22" cy="46.18" r="0.4" fill="#6d7898" opacity="0.45"/>
<circle cx="329.04" cy="41.79" r="0.4" fill="#9aa3bb" opacity="0.45"/>
<circle cx="323.38" cy="50.69" r="0.4" fill="#5b6690" opacity="0.45"/>
<circle cx="322.73" cy="49.21" r="0.4" fill="#5b6690" opacity="0.45"/>
<circle cx="329.83" cy="46.16" r="0.4" fill="#a8b3d0" opacity="0.45"/>
<circle cx="324.18" cy="47.30" r="0.4" fill="#8fa0c8" opacity="0.45"/>
<circle cx="323.16" cy="54.41" r="0.4" fill="#9aa3bb" opacity="0.45"/>
<circle cx="331.07" cy="55.47" r="0.4" fill="#a8b3d0" opacity="0.45"/>
<circle cx="323.83" cy="48.80" r="0.4" fill="#6d7898" opacity="0.45"/>
<circle cx="328.89" cy="50.22" r="0.4" fill="#8fa0c8" opacity="0.45"/>
<circle cx="326.44" cy="43.32" r="0.4" fill="#5b6690" opacity="0.45"/>
<circle cx="321.19" cy="49.06" r="0.4" fill="#a8b3d0" opacity="0.45"/>
<circle cx="328.78" cy="35.06" r="0.4" fill="#8fa0c8" opacity="0.45"/>
<circle cx="321.77" cy="43.97" r="0.4" fill="#6d7898" opacity="0.45"/>
<circle cx="329.41" cy="50.47" r="0.4" fill="#9aa3bb" opacity="0.45"/>
<circle cx="322.57" cy="42.75" r="0.4" fill="#a8b3d0" opacity="0.45"/>
<circle cx="323.75" cy="48.78" r="0.4" fill="#7b86a8" opacity="0.45"/>
<circle cx="326.76" cy="53.30" r="0.4" fill="#5b6690" opacity="0.45"/>
<circle cx="323.47" cy="52.78" r="0.4" fill="#8fa0c8" opacity="0.45"/>
<circle cx="326.69" cy="44.96" r="0.4" fill="#8fa0c8" opacity="0.45"/>
<circle cx="324.29" cy="56.31" r="0.4" fill="#8fa0c8" opacity="0.45"/>
<circle cx="322.33" cy="49.36" r="0.4" fill="#8a93ad" opacity="0.45"/>
<circle cx="327.67" cy="50.83" r="0.4" fill="#a8b3d0" opacity="0.45"/>
<circle cx="321.53" cy="46.12" r="0.4" fill="#5b6690" opacity="0.45"/>
<circle cx="327.83" cy="45.78" r="0.4" fill="#8a93ad" opacity="0.45"/>
<circle cx="321.50" cy="44.01" r="0.4" fill="#8a93ad" opacity="0.45"/>
<circle cx="323.16" cy="49.30" r="0.4" fill="#8a93ad" opacity="0.45"/>
<circle cx="319.69" cy="58.06" r="0.4" fill="#8a93ad" opacity="0.45"/>
<circle cx="328.42" cy="36.25" r="0.4" fill="#9aa3bb" opacity="0.45"/>
<circle cx="319.71" cy="56.00" r="0.4" fill="#8a93ad" opacity="0.45"/>
<circle cx="321.73" cy="51.71" r="0.4" fill="#6d7898" opacity="0.45"/>
<circle cx="320.60" cy="56.56" r="0.4" fill="#7b86a8" opacity="0.45"/>
<circle cx="324.59" cy="52.99" r="0.4" fill="#8a93ad" opacity="0.45"/>
<circle cx="320.23" cy="54.60" r="0.4" fill="#9aa3bb" opacity="0.45"/>
<circle cx="330.52" cy="41.01" r="0.4" fill="#a8b3d0" opacity="0.45"/>
<circle cx="325.79" cy="45.06" r="0.4" fill="#9aa3bb" opacity="0.45"/>
<circle cx="327.49" cy="46.01" r="0.4" fill="#a8b3d0" opacity="0.45"/>
<circle cx="320.13" cy="44.24" r="0.4" fill="#9aa3bb" opacity="0.45"/>
<circle cx="324.02" cy="50.32" r="0.4" fill="#8a93ad" opacity="0.45"/>
<circle cx="329.07" cy="56.63" r="0.4" fill="#8fa0c8" opacity="0.45"/>
<circle cx="320.42" cy="33.76" r="0.4" fill="#9aa3bb" opacity="0.45"/>
<circle cx="329.22" cy="53.94" r="0.4" fill="#6d7898" opacity="0.45"/>
<circle cx="324.51" cy="39.59" r="0.4" fill="#6d7898" opacity="0.45"/>
<circle cx="322.18" cy="39.93" r="0.4" fill="#8a93ad" opacity="0.45"/>
<circle cx="320.99" cy="38.13" r="0.4" fill="#9aa3bb" opacity="0.45"/>
<circle cx="323.46" cy="41.84" r="0.4" fill="#6d7898" opacity="0.45"/>
<circle cx="324.97" cy="52.53" r="0.4" fill="#a8b3d0" opacity="0.45"/>
<circle cx="323.59" cy="45.23" r="0.4" fill="#5b6690" opacity="0.45"/>
<circle cx="326.83" cy="45.83" r="0.4" fill="#5b6690" opacity="0.45"/>
<circle cx="319.53" cy="31.28" r="0.4" fill="#9aa3bb" opacity="0.45"/>
<circle cx="319.66" cy="44.14" r="0.4" fill="#6d7898" opacity="0.45"/>
<circle cx="329.30" cy="42.56" r="0.4" fill="#5b6690" opacity="0.45"/>
<circle cx="326.16" cy="48.01" r="0.4" fill="#8fa0c8" opacity="0.45"/>
<circle cx="323.13" cy="43.04" r="0.4" fill="#8a93ad" opacity="0.45"/>
<circle cx="324.13" cy="48.35" r="0.4" fill="#5b6690" opacity="0.45"/>
<circle cx="323.34" cy="37.63" r="0.4" fill="#9aa3bb" opacity="0.45"/>
<circle cx="326.00" cy="61.23" r="0.4" fill="#8fa0c8" opacity="0.45"/>
<circle cx="324.74" cy="43.22" r="0.4" fill="#9aa3bb" opacity="0.45"/>
<circle cx="326.97" cy="44.54" r="0.4" fill="#a8b3d0" opacity="0.45"/>
<circle cx="325.35" cy="55.45" r="0.4" fill="#5b6690" opacity="0.45"/>
<circle cx="324.19" cy="38.49" r="0.4" fill="#7b86a8" opacity="0.45"/>
<circle cx="321.75" cy="46.15" r="0.4" fill="#8a93ad" opacity="0.45"/>
<circle cx="328.41" cy="50.20" r="0.4" fill="#9aa3bb" opacity="0.45"/>
<circle cx="324.72" cy="46.66" r="0.4" fill="#7b86a8" opacity="0.45"/>
<circle cx="324.72" cy="48.29" r="0.4" fill="#6d7898" opacity="0.45"/>
<circle cx="325.54" cy="55.00" r="0.4" fill="#8fa0c8" opacity="0.45"/>
<circle cx="328.23" cy="36.23" r="0.4" fill="#6d7898" opacity="0.45"/>
<circle cx="326.84" cy="42.65" r="0.4" fill="#8a93ad" opacity="0.45"/>
<circle cx="321.54" cy="37.02" r="0.4" fill="#9aa3bb" opacity="0.45"/>
<circle cx="329.07" cy="48.65" r="0.4" fill="#9aa3bb" opacity="0.45"/>
<circle cx="322.43" cy="47.53" r="0.4" fill="#6d7898" opacity="0.45"/>
<circle cx="323.39" cy="54.23" r="0.4" fill="#6d7898" opacity="0.45"/>
<circle cx="319.63" cy="56.53" r="0.4" fill="#5b6690" opacity="0.45"/>
<circle cx="325.63" cy="37.38" r="0.4" fill="#6d7898" opacity="0.45"/>
<circle cx="323.36" cy="40.29" r="0.4" fill="#7b86a8" opacity="0.45"/>
<circle cx="326.01" cy="43.14" r="0.4" fill="#5b6690" opacity="0.45"/>
<circle cx="323.68" cy="35.82" r="0.4" fill="#8fa0c8" opacity="0.45"/>
<circle cx="324.11" cy="43.42" r="0.4" fill="#6d7898" opacity="0.45"/>
<circle cx="326.13" cy="48.25" r="0.4" fill="#6d7898" opacity="0.45"/>
<circle cx="326.56" cy="41.13" r="0.4" fill="#5b6690" opacity="0.45"/>
<circle cx="329.58" cy="50.03" r="0.4" fill="#8fa0c8" opacity="0.45"/>
<circle cx="322.86" cy="52.61" r="0.4" fill="#6d7898" opacity="0.45"/>
<circle cx="323.16" cy="34.08" r="0.4" fill="#a8b3d0" opacity="0.45"/>
<circle cx="326.53" cy="47.00" r="0.4" fill="#9aa3bb" opacity="0.45"/>
<circle cx="323.16" cy="36.16" r="0.4" fill="#a8b3d0" opacity="0.45"/>
<circle cx="321.99" cy="50.48" r="0.4" fill="#9aa3bb" opacity="0.45"/>
<circle cx="324.74" cy="41.59" r="0.4" fill="#9aa3bb" opacity="0.45"/>
<circle cx="326.58" cy="60.79" r="0.4" fill="#8fa0c8" opacity="0.45"/>
<circle cx="322.23" cy="59.05" r="0.4" fill="#8a93ad" opacity="0.45"/>
<circle cx="321.56" cy="40.99" r="0.4" fill="#5b6690" opacity="0.45"/>
<circle cx="320.54" cy="39.90" r="0.4" fill="#9aa3bb" opacity="0.45"/>
<circle cx="324.05" cy="39.22" r="0.4" fill="#6d7898" opacity="0.45"/>
<circle cx="321.63" cy="37.67" r="0.4" fill="#7b86a8" opacity="0.45"/>
<circle cx="323.86" cy="49.76" r="0.4" fill="#6d7898" opacity="0.45"/>
<circle cx="326.13" cy="45.03" r="0.4" fill="#8a93ad" opacity="0.45"/>
<circle cx="319.78" cy="52.25" r="0.4" fill="#8fa0c8" opacity="0.45"/>
<circle cx="324.41" cy="57.14" r="0.4" fill="#a8b3d0" opacity="0.45"/>
<circle cx="323.09" cy="42.07" r="0.4" fill="#a8b3d0" opacity="0.45"/>
<circle cx="323.23" cy="53.01" r="0.4" fill="#5b6690" opacity="0.45"/>
<circle cx="320.00" cy="56.55" r="0.4" fill="#8a93ad" opacity="0.45"/>
<circle cx="321.92" cy="48.14" r="0.4" fill="#8a93ad" opacity="0.45"/>
<circle cx="328.15" cy="61.34" r="0.4" fill="#7b86a8" opacity="0.45"/>
<circle cx="324.48" cy="49.05" r="0.4" fill="#5b6690" opacity="0.45"/>
<circle cx="328.16" cy="45.49" r="0.4" fill="#8a93ad" opacity="0.45"/>
<circle cx="323.05" cy="42.65" r="0.4" fill="#9aa3bb" opacity="0.45"/>
<circle cx="325.62" cy="45.76" r="0.4" fill="#9aa3bb" opacity="0.45"/>
<circle cx="325.88" cy="41.62" r="0.4" fill="#9aa3bb" opacity="0.45"/>
<circle cx="324.86" cy="44.68" r="0.4" fill="#5b6690" opacity="0.45"/>
<circle cx="324.12" cy="48.88" r="0.4" fill="#7b86a8" opacity="0.45"/>
<circle cx="328.56" cy="43.99" r="0.4" fill="#6d7898" opacity="0.45"/>
<circle cx="321.42" cy="48.19" r="0.4" fill="#a8b3d0" opacity="0.45"/>
<circle cx="323.80" cy="45.13" r="0.4" fill="#8fa0c8" opacity="0.45"/>
<circle cx="319.99" cy="38.89" r="0.4" fill="#8a93ad" opacity="0.45"/>
</g>
<rect x="318.60" y="30.30" width="20.80" height="32.90" fill="none" stroke="#bdbdbd" stroke-width="0.7" />
<line x1="310.50" y1="21.50" x2="311.30" y2="21.50" stroke="#555" stroke-width="0.5" />
<text transform="translate(308.60,21.50) rotate(-90)" font-size="2.8" text-anchor="middle" font-weight="normal" fill="#777">10</text>
<line x1="310.50" y1="30.00" x2="311.30" y2="30.00" stroke="#555" stroke-width="0.5" />
<text transform="translate(308.60,30.00) rotate(-90)" font-size="2.8" text-anchor="middle" font-weight="normal" fill="#777">10</text>
<line x1="310.50" y1="38.50" x2="311.30" y2="38.50" stroke="#555" stroke-width="0.5" />
<text transform="translate(308.60,38.50) rotate(-90)" font-size="2.8" text-anchor="middle" font-weight="normal" fill="#777">10</text>
<line x1="310.50" y1="47.00" x2="311.30" y2="47.00" stroke="#555" stroke-width="0.5" />
<text transform="translate(308.60,47.00) rotate(-90)" font-size="2.8" text-anchor="middle" font-weight="normal" fill="#777">10</text>
<line x1="310.50" y1="55.50" x2="311.30" y2="55.50" stroke="#555" stroke-width="0.5" />
<text transform="translate(308.60,55.50) rotate(-90)" font-size="2.8" text-anchor="middle" font-weight="normal" fill="#777">10</text>
<text x="323.80" y="68.22" font-size="3.4" text-anchor="middle" font-weight="normal" fill="#555" >100K</text>
<line x1="323.80" y1="63.80" x2="323.80" y2="64.70" stroke="#555" stroke-width="0.5" />
<text x="345.00" y="68.22" font-size="3.4" text-anchor="middle" font-weight="normal" fill="#555" >300K</text>
<line x1="345.00" y1="63.80" x2="345.00" y2="64.70" stroke="#555" stroke-width="0.5" />
<text x="363.30" y="68.22" font-size="3.4" text-anchor="middle" font-weight="normal" fill="#555" >500K</text>
<line x1="363.30" y1="63.80" x2="363.30" y2="64.70" stroke="#555" stroke-width="0.5" />
<text transform="translate(303.36,39.70) rotate(-90)" font-size="7.7" text-anchor="middle" font-weight="normal" fill="#1a1a1a" stroke="#1a1a1a" stroke-width="0.1">FVD eFluor</text>
<text x="346.00" y="76.45" font-size="7.4" text-anchor="middle" font-weight="normal" fill="#1a1a1a" stroke="#1a1a1a" stroke-width="0.1" >FS LIN</text>
<rect x="307.30" y="82.00" width="75.20" height="66.40" fill="#fff" stroke="#555" stroke-width="0.8" />
<line x1="324.60" y1="70.00" x2="328.00" y2="87.50" stroke="#222" stroke-width="0.7" />
<path d="M328.7,90.5 L326.8,86.6 L329.5,86.1 Z" fill="#111"/>
<g filter="url(#bl2)">
<ellipse cx="343" cy="122" rx="14" ry="11" fill="#a8b2dc" opacity="0.3" transform="rotate(-25 343 122)"/>
<ellipse cx="345" cy="118.5" rx="10" ry="7.5" fill="#7080c0" opacity="0.45" transform="rotate(-20 345 118.5)"/>
<ellipse cx="350" cy="127" rx="6" ry="8" fill="#7686c4" opacity="0.35"/>
<ellipse cx="336" cy="121" rx="7" ry="4" fill="#6878b8" opacity="0.4" transform="rotate(-20 336 121)"/>
<ellipse cx="347.5" cy="116" rx="8.5" ry="6.5" fill="#4a78a8" opacity="0.6" transform="rotate(-10 347.5 116)"/>
<ellipse cx="347.8" cy="115.8" rx="6" ry="5" fill="#6aa888" opacity="0.85" transform="rotate(-10 347.8 115.8)"/>
<ellipse cx="348.3" cy="115.4" rx="3.6" ry="3.2" fill="#b8c850"/>
<ellipse cx="348.6" cy="115.2" rx="1.8" ry="1.6" fill="#e0c040"/>
</g>
<circle cx="352.09" cy="122.81" r="0.42" fill="#4a5fa8" opacity="0.55"/>
<circle cx="346.75" cy="127.25" r="0.42" fill="#95a4d4" opacity="0.55"/>
<circle cx="350.85" cy="106.57" r="0.42" fill="#2c3c88" opacity="0.55"/>
<circle cx="342.77" cy="116.10" r="0.42" fill="#5a6fb5" opacity="0.55"/>
<circle cx="346.79" cy="122.01" r="0.42" fill="#b0b8d8" opacity="0.55"/>
<circle cx="342.24" cy="120.09" r="0.42" fill="#6378b8" opacity="0.55"/>
<circle cx="348.36" cy="108.96" r="0.42" fill="#7f8fc8" opacity="0.55"/>
<circle cx="342.76" cy="118.15" r="0.42" fill="#7f8fc8" opacity="0.55"/>
<circle cx="339.91" cy="125.05" r="0.42" fill="#5a6fb5" opacity="0.55"/>
<circle cx="340.89" cy="113.31" r="0.42" fill="#4a5fa8" opacity="0.55"/>
<circle cx="341.05" cy="131.16" r="0.42" fill="#3a4f98" opacity="0.55"/>
<circle cx="343.68" cy="121.84" r="0.42" fill="#3a4f98" opacity="0.55"/>
<circle cx="340.10" cy="114.33" r="0.42" fill="#2c3c88" opacity="0.55"/>
<circle cx="345.25" cy="121.88" r="0.42" fill="#7f8fc8" opacity="0.55"/>
<circle cx="331.84" cy="128.26" r="0.42" fill="#2c3c88" opacity="0.55"/>
<circle cx="338.27" cy="117.20" r="0.42" fill="#7f8fc8" opacity="0.55"/>
<circle cx="346.78" cy="123.02" r="0.42" fill="#7f8fc8" opacity="0.55"/>
<circle cx="333.87" cy="106.58" r="0.42" fill="#6378b8" opacity="0.55"/>
<circle cx="328.57" cy="112.40" r="0.42" fill="#7f8fc8" opacity="0.55"/>
<circle cx="348.97" cy="126.51" r="0.42" fill="#7f8fc8" opacity="0.55"/>
<circle cx="348.43" cy="119.16" r="0.42" fill="#b0b8d8" opacity="0.55"/>
<circle cx="345.32" cy="105.94" r="0.42" fill="#95a4d4" opacity="0.55"/>
<circle cx="340.14" cy="136.35" r="0.42" fill="#4a5fa8" opacity="0.55"/>
<circle cx="354.08" cy="119.51" r="0.42" fill="#4a5fa8" opacity="0.55"/>
<circle cx="336.13" cy="113.43" r="0.42" fill="#6378b8" opacity="0.55"/>
<circle cx="354.18" cy="114.30" r="0.42" fill="#7f8fc8" opacity="0.55"/>
<circle cx="334.97" cy="108.07" r="0.42" fill="#2c3c88" opacity="0.55"/>
<circle cx="341.03" cy="117.29" r="0.42" fill="#b0b8d8" opacity="0.55"/>
<circle cx="347.29" cy="126.44" r="0.42" fill="#2c3c88" opacity="0.55"/>
<circle cx="349.32" cy="119.13" r="0.42" fill="#3a4f98" opacity="0.55"/>
<circle cx="349.31" cy="125.47" r="0.42" fill="#95a4d4" opacity="0.55"/>
<circle cx="354.94" cy="123.79" r="0.42" fill="#4a5fa8" opacity="0.55"/>
<circle cx="341.51" cy="114.45" r="0.42" fill="#2c3c88" opacity="0.55"/>
<circle cx="336.80" cy="114.71" r="0.42" fill="#5a6fb5" opacity="0.55"/>
<circle cx="340.93" cy="115.12" r="0.42" fill="#95a4d4" opacity="0.55"/>
<circle cx="334.52" cy="126.61" r="0.42" fill="#b0b8d8" opacity="0.55"/>
<circle cx="339.98" cy="120.88" r="0.42" fill="#4a5fa8" opacity="0.55"/>
<circle cx="338.19" cy="114.30" r="0.42" fill="#95a4d4" opacity="0.55"/>
<circle cx="334.51" cy="124.87" r="0.42" fill="#b0b8d8" opacity="0.55"/>
<circle cx="352.55" cy="107.73" r="0.42" fill="#2c3c88" opacity="0.55"/>
<circle cx="348.28" cy="123.78" r="0.42" fill="#2c3c88" opacity="0.55"/>
<circle cx="335.45" cy="132.46" r="0.42" fill="#4a5fa8" opacity="0.55"/>
<circle cx="349.09" cy="122.13" r="0.42" fill="#3a4f98" opacity="0.55"/>
<circle cx="346.65" cy="110.98" r="0.42" fill="#4a5fa8" opacity="0.55"/>
<circle cx="345.22" cy="102.96" r="0.42" fill="#7f8fc8" opacity="0.55"/>
<circle cx="347.93" cy="121.51" r="0.42" fill="#6378b8" opacity="0.55"/>
<circle cx="352.84" cy="143.56" r="0.42" fill="#b0b8d8" opacity="0.55"/>
<circle cx="341.56" cy="136.08" r="0.42" fill="#7f8fc8" opacity="0.55"/>
<circle cx="340.01" cy="108.50" r="0.42" fill="#95a4d4" opacity="0.55"/>
<circle cx="351.82" cy="124.16" r="0.42" fill="#5a6fb5" opacity="0.55"/>
<circle cx="354.24" cy="136.21" r="0.42" fill="#5a6fb5" opacity="0.55"/>
<circle cx="352.31" cy="115.73" r="0.42" fill="#5a6fb5" opacity="0.55"/>
<circle cx="327.03" cy="120.73" r="0.42" fill="#95a4d4" opacity="0.55"/>
<circle cx="335.73" cy="114.58" r="0.42" fill="#95a4d4" opacity="0.55"/>
<circle cx="344.08" cy="123.11" r="0.42" fill="#7f8fc8" opacity="0.55"/>
<circle cx="335.65" cy="127.89" r="0.42" fill="#5a6fb5" opacity="0.55"/>
<circle cx="337.73" cy="104.67" r="0.42" fill="#7f8fc8" opacity="0.55"/>
<circle cx="346.64" cy="114.57" r="0.42" fill="#4a5fa8" opacity="0.55"/>
<circle cx="340.05" cy="114.93" r="0.42" fill="#b0b8d8" opacity="0.55"/>
<circle cx="335.09" cy="117.20" r="0.42" fill="#6378b8" opacity="0.55"/>
<circle cx="344.87" cy="131.53" r="0.42" fill="#2c3c88" opacity="0.55"/>
<circle cx="344.42" cy="112.83" r="0.42" fill="#2c3c88" opacity="0.55"/>
<circle cx="355.48" cy="120.33" r="0.42" fill="#3a4f98" opacity="0.55"/>
<circle cx="343.40" cy="124.06" r="0.42" fill="#95a4d4" opacity="0.55"/>
<circle cx="350.86" cy="133.56" r="0.42" fill="#4a5fa8" opacity="0.55"/>
<circle cx="342.23" cy="130.81" r="0.42" fill="#5a6fb5" opacity="0.55"/>
<circle cx="330.24" cy="102.23" r="0.42" fill="#3a4f98" opacity="0.55"/>
<circle cx="343.59" cy="106.99" r="0.42" fill="#95a4d4" opacity="0.55"/>
<circle cx="351.54" cy="130.49" r="0.42" fill="#2c3c88" opacity="0.55"/>
<circle cx="338.38" cy="125.00" r="0.42" fill="#4a5fa8" opacity="0.55"/>
<circle cx="348.88" cy="125.50" r="0.42" fill="#4a5fa8" opacity="0.55"/>
<circle cx="345.57" cy="121.09" r="0.42" fill="#3a4f98" opacity="0.55"/>
<circle cx="341.78" cy="130.76" r="0.42" fill="#95a4d4" opacity="0.55"/>
<circle cx="339.21" cy="124.73" r="0.42" fill="#7f8fc8" opacity="0.55"/>
<circle cx="348.18" cy="132.40" r="0.42" fill="#b0b8d8" opacity="0.55"/>
<circle cx="345.73" cy="122.20" r="0.42" fill="#95a4d4" opacity="0.55"/>
<circle cx="342.69" cy="112.02" r="0.42" fill="#6378b8" opacity="0.55"/>
<circle cx="334.53" cy="107.86" r="0.42" fill="#5a6fb5" opacity="0.55"/>
<circle cx="339.88" cy="124.85" r="0.42" fill="#4a5fa8" opacity="0.55"/>
<circle cx="358.92" cy="126.45" r="0.42" fill="#3a4f98" opacity="0.55"/>
<circle cx="336.29" cy="114.74" r="0.42" fill="#b0b8d8" opacity="0.55"/>
<circle cx="345.16" cy="139.38" r="0.42" fill="#4a5fa8" opacity="0.55"/>
<circle cx="346.67" cy="121.72" r="0.42" fill="#7f8fc8" opacity="0.55"/>
<circle cx="345.21" cy="123.94" r="0.42" fill="#6378b8" opacity="0.55"/>
<circle cx="355.09" cy="121.83" r="0.42" fill="#95a4d4" opacity="0.55"/>
<circle cx="348.34" cy="125.42" r="0.42" fill="#2c3c88" opacity="0.55"/>
<circle cx="346.92" cy="116.15" r="0.42" fill="#5a6fb5" opacity="0.55"/>
<circle cx="355.33" cy="125.65" r="0.42" fill="#b0b8d8" opacity="0.55"/>
<circle cx="344.81" cy="120.06" r="0.42" fill="#2c3c88" opacity="0.55"/>
<circle cx="344.73" cy="111.49" r="0.42" fill="#b0b8d8" opacity="0.55"/>
<circle cx="357.19" cy="146.57" r="0.42" fill="#5a6fb5" opacity="0.55"/>
<circle cx="345.25" cy="123.38" r="0.42" fill="#3a4f98" opacity="0.55"/>
<circle cx="359.13" cy="108.78" r="0.42" fill="#5a6fb5" opacity="0.55"/>
<circle cx="343.50" cy="114.51" r="0.42" fill="#2c3c88" opacity="0.55"/>
<circle cx="337.98" cy="103.55" r="0.42" fill="#5a6fb5" opacity="0.55"/>
<circle cx="339.80" cy="139.73" r="0.42" fill="#95a4d4" opacity="0.55"/>
<circle cx="353.18" cy="126.17" r="0.42" fill="#7f8fc8" opacity="0.55"/>
<circle cx="344.62" cy="127.23" r="0.42" fill="#95a4d4" opacity="0.55"/>
<circle cx="357.46" cy="116.21" r="0.42" fill="#3a4f98" opacity="0.55"/>
<circle cx="347.83" cy="128.88" r="0.42" fill="#95a4d4" opacity="0.55"/>
<circle cx="333.64" cy="132.41" r="0.42" fill="#b0b8d8" opacity="0.55"/>
<circle cx="335.31" cy="122.82" r="0.42" fill="#4a5fa8" opacity="0.55"/>
<circle cx="350.36" cy="113.89" r="0.42" fill="#95a4d4" opacity="0.55"/>
<circle cx="338.80" cy="117.88" r="0.42" fill="#95a4d4" opacity="0.55"/>
<circle cx="336.76" cy="128.10" r="0.42" fill="#7f8fc8" opacity="0.55"/>
<circle cx="346.15" cy="122.57" r="0.42" fill="#6378b8" opacity="0.55"/>
<circle cx="341.58" cy="117.50" r="0.42" fill="#7f8fc8" opacity="0.55"/>
<circle cx="344.39" cy="118.97" r="0.42" fill="#7f8fc8" opacity="0.55"/>
<circle cx="341.00" cy="109.72" r="0.42" fill="#6378b8" opacity="0.55"/>
<circle cx="344.76" cy="117.88" r="0.42" fill="#3a4f98" opacity="0.55"/>
<circle cx="351.23" cy="141.07" r="0.42" fill="#6378b8" opacity="0.55"/>
<circle cx="354.78" cy="111.21" r="0.42" fill="#2c3c88" opacity="0.55"/>
<circle cx="349.25" cy="124.60" r="0.42" fill="#6378b8" opacity="0.55"/>
<circle cx="364.09" cy="125.38" r="0.42" fill="#6378b8" opacity="0.55"/>
<circle cx="350.14" cy="110.30" r="0.42" fill="#5a6fb5" opacity="0.55"/>
<circle cx="340.78" cy="121.65" r="0.42" fill="#95a4d4" opacity="0.55"/>
<circle cx="343.00" cy="128.40" r="0.42" fill="#5a6fb5" opacity="0.55"/>
<circle cx="351.11" cy="121.86" r="0.42" fill="#5a6fb5" opacity="0.55"/>
<circle cx="357.89" cy="125.30" r="0.42" fill="#3a4f98" opacity="0.55"/>
<circle cx="346.31" cy="109.55" r="0.42" fill="#b0b8d8" opacity="0.55"/>
<circle cx="351.60" cy="111.52" r="0.42" fill="#4a5fa8" opacity="0.55"/>
<circle cx="345.49" cy="118.92" r="0.42" fill="#6378b8" opacity="0.55"/>
<circle cx="337.86" cy="131.90" r="0.42" fill="#95a4d4" opacity="0.55"/>
<circle cx="341.67" cy="105.45" r="0.42" fill="#5a6fb5" opacity="0.55"/>
<circle cx="345.20" cy="121.38" r="0.42" fill="#95a4d4" opacity="0.55"/>
<circle cx="341.82" cy="134.76" r="0.42" fill="#4a5fa8" opacity="0.55"/>
<circle cx="354.29" cy="121.27" r="0.42" fill="#b0b8d8" opacity="0.55"/>
<circle cx="339.96" cy="106.05" r="0.42" fill="#b0b8d8" opacity="0.55"/>
<circle cx="328.22" cy="109.28" r="0.42" fill="#5a6fb5" opacity="0.55"/>
<circle cx="340.85" cy="118.65" r="0.42" fill="#95a4d4" opacity="0.55"/>
<circle cx="350.37" cy="118.67" r="0.42" fill="#7f8fc8" opacity="0.55"/>
<circle cx="353.77" cy="128.70" r="0.42" fill="#6378b8" opacity="0.55"/>
<circle cx="320.46" cy="122.59" r="0.42" fill="#6378b8" opacity="0.55"/>
<circle cx="339.80" cy="115.26" r="0.42" fill="#2c3c88" opacity="0.55"/>
<circle cx="360.20" cy="113.21" r="0.42" fill="#6378b8" opacity="0.55"/>
<circle cx="334.83" cy="126.76" r="0.42" fill="#3a4f98" opacity="0.55"/>
<circle cx="346.70" cy="127.39" r="0.42" fill="#7f8fc8" opacity="0.55"/>
<circle cx="332.95" cy="133.13" r="0.42" fill="#95a4d4" opacity="0.55"/>
<circle cx="348.91" cy="119.47" r="0.42" fill="#4a5fa8" opacity="0.55"/>
<circle cx="340.87" cy="127.16" r="0.42" fill="#7f8fc8" opacity="0.55"/>
<circle cx="350.91" cy="114.14" r="0.42" fill="#3a4f98" opacity="0.55"/>
<circle cx="349.16" cy="128.99" r="0.42" fill="#5a6fb5" opacity="0.55"/>
<circle cx="341.35" cy="118.89" r="0.42" fill="#b0b8d8" opacity="0.55"/>
<circle cx="337.29" cy="110.74" r="0.42" fill="#95a4d4" opacity="0.55"/>
<circle cx="343.53" cy="135.16" r="0.42" fill="#7f8fc8" opacity="0.55"/>
<circle cx="341.38" cy="98.26" r="0.42" fill="#3a4f98" opacity="0.55"/>
<circle cx="339.09" cy="116.26" r="0.42" fill="#95a4d4" opacity="0.55"/>
<circle cx="342.56" cy="125.86" r="0.42" fill="#6378b8" opacity="0.55"/>
<circle cx="350.99" cy="131.70" r="0.42" fill="#95a4d4" opacity="0.55"/>
<circle cx="327.84" cy="137.23" r="0.42" fill="#5a6fb5" opacity="0.55"/>
<circle cx="344.10" cy="111.97" r="0.42" fill="#95a4d4" opacity="0.55"/>
<circle cx="358.62" cy="132.86" r="0.42" fill="#5a6fb5" opacity="0.55"/>
<circle cx="347.14" cy="129.11" r="0.42" fill="#4a5fa8" opacity="0.55"/>
<circle cx="360.65" cy="122.32" r="0.42" fill="#2c3c88" opacity="0.55"/>
<circle cx="341.72" cy="111.61" r="0.42" fill="#5a6fb5" opacity="0.55"/>
<circle cx="340.69" cy="122.08" r="0.42" fill="#2c3c88" opacity="0.55"/>
<circle cx="350.96" cy="121.22" r="0.42" fill="#2c3c88" opacity="0.55"/>
<circle cx="341.78" cy="110.22" r="0.42" fill="#2c3c88" opacity="0.55"/>
<circle cx="351.74" cy="110.61" r="0.42" fill="#95a4d4" opacity="0.55"/>
<circle cx="340.09" cy="110.00" r="0.42" fill="#b0b8d8" opacity="0.55"/>
<circle cx="339.34" cy="123.71" r="0.42" fill="#6378b8" opacity="0.55"/>
<circle cx="349.70" cy="117.11" r="0.42" fill="#2c3c88" opacity="0.55"/>
<circle cx="342.41" cy="109.34" r="0.42" fill="#5a6fb5" opacity="0.55"/>
<circle cx="350.37" cy="113.08" r="0.42" fill="#4a5fa8" opacity="0.55"/>
<circle cx="339.07" cy="114.97" r="0.42" fill="#7f8fc8" opacity="0.55"/>
<circle cx="350.62" cy="116.34" r="0.42" fill="#4a5fa8" opacity="0.55"/>
<circle cx="337.90" cy="127.35" r="0.42" fill="#6378b8" opacity="0.55"/>
<circle cx="354.73" cy="123.53" r="0.42" fill="#7f8fc8" opacity="0.55"/>
<circle cx="340.86" cy="100.57" r="0.42" fill="#95a4d4" opacity="0.55"/>
<circle cx="341.33" cy="120.53" r="0.42" fill="#b0b8d8" opacity="0.55"/>
<circle cx="332.70" cy="117.55" r="0.42" fill="#4a5fa8" opacity="0.55"/>
<circle cx="335.36" cy="108.74" r="0.42" fill="#3a4f98" opacity="0.55"/>
<circle cx="328.55" cy="132.04" r="0.42" fill="#95a4d4" opacity="0.55"/>
<circle cx="350.09" cy="120.67" r="0.42" fill="#6378b8" opacity="0.55"/>
<circle cx="343.56" cy="109.37" r="0.42" fill="#4a5fa8" opacity="0.55"/>
<circle cx="344.88" cy="129.34" r="0.42" fill="#4a5fa8" opacity="0.55"/>
<circle cx="353.30" cy="121.74" r="0.42" fill="#2c3c88" opacity="0.55"/>
<circle cx="336.71" cy="111.79" r="0.42" fill="#5a6fb5" opacity="0.55"/>
<circle cx="350.26" cy="125.58" r="0.42" fill="#2c3c88" opacity="0.55"/>
<circle cx="354.10" cy="117.17" r="0.42" fill="#95a4d4" opacity="0.55"/>
<circle cx="365.35" cy="120.22" r="0.42" fill="#b0b8d8" opacity="0.55"/>
<circle cx="346.00" cy="125.35" r="0.42" fill="#6378b8" opacity="0.55"/>
<circle cx="349.15" cy="109.78" r="0.42" fill="#b0b8d8" opacity="0.55"/>
<circle cx="336.99" cy="110.42" r="0.42" fill="#7f8fc8" opacity="0.55"/>
<circle cx="338.11" cy="130.67" r="0.42" fill="#2c3c88" opacity="0.55"/>
<circle cx="338.45" cy="122.41" r="0.42" fill="#7f8fc8" opacity="0.55"/>
<circle cx="346.68" cy="111.60" r="0.42" fill="#95a4d4" opacity="0.55"/>
<circle cx="344.15" cy="129.21" r="0.42" fill="#5a6fb5" opacity="0.55"/>
<circle cx="356.99" cy="119.63" r="0.42" fill="#b0b8d8" opacity="0.55"/>
<circle cx="357.80" cy="121.23" r="0.42" fill="#5a6fb5" opacity="0.55"/>
<circle cx="337.68" cy="130.65" r="0.42" fill="#3a4f98" opacity="0.55"/>
<circle cx="336.61" cy="122.15" r="0.42" fill="#6378b8" opacity="0.55"/>
<circle cx="340.90" cy="114.21" r="0.42" fill="#5a6fb5" opacity="0.55"/>
<circle cx="346.67" cy="118.69" r="0.42" fill="#3a4f98" opacity="0.55"/>
<circle cx="345.93" cy="116.43" r="0.42" fill="#3a4f98" opacity="0.55"/>
<circle cx="344.07" cy="119.90" r="0.42" fill="#4a5fa8" opacity="0.55"/>
<circle cx="345.77" cy="124.18" r="0.42" fill="#5a6fb5" opacity="0.55"/>
<circle cx="345.00" cy="124.93" r="0.42" fill="#7f8fc8" opacity="0.55"/>
<circle cx="348.12" cy="116.68" r="0.42" fill="#b0b8d8" opacity="0.55"/>
<circle cx="342.38" cy="125.02" r="0.42" fill="#2c3c88" opacity="0.55"/>
<circle cx="346.26" cy="116.02" r="0.42" fill="#6378b8" opacity="0.55"/>
<circle cx="336.69" cy="105.31" r="0.42" fill="#5a6fb5" opacity="0.55"/>
<circle cx="348.99" cy="133.35" r="0.42" fill="#6378b8" opacity="0.55"/>
<circle cx="344.56" cy="111.88" r="0.42" fill="#6378b8" opacity="0.55"/>
<circle cx="339.10" cy="118.74" r="0.42" fill="#95a4d4" opacity="0.55"/>
<circle cx="349.22" cy="112.48" r="0.42" fill="#4a5fa8" opacity="0.55"/>
<circle cx="327.71" cy="122.81" r="0.42" fill="#b0b8d8" opacity="0.55"/>
<circle cx="345.10" cy="126.10" r="0.42" fill="#4a5fa8" opacity="0.55"/>
<circle cx="348.76" cy="127.32" r="0.42" fill="#b0b8d8" opacity="0.55"/>
<circle cx="337.22" cy="106.96" r="0.42" fill="#3a4f98" opacity="0.55"/>
<circle cx="313.18" cy="138.01" r="0.42" fill="#6378b8" opacity="0.55"/>
<circle cx="348.20" cy="128.28" r="0.42" fill="#4a5fa8" opacity="0.55"/>
<circle cx="347.43" cy="121.34" r="0.42" fill="#3a4f98" opacity="0.55"/>
<circle cx="346.28" cy="117.48" r="0.42" fill="#b0b8d8" opacity="0.55"/>
<circle cx="328.00" cy="122.74" r="0.42" fill="#4a5fa8" opacity="0.55"/>
<circle cx="346.89" cy="129.58" r="0.42" fill="#7f8fc8" opacity="0.55"/>
<circle cx="336.59" cy="135.35" r="0.42" fill="#3a4f98" opacity="0.55"/>
<circle cx="337.46" cy="133.40" r="0.42" fill="#95a4d4" opacity="0.55"/>
<circle cx="343.44" cy="128.60" r="0.42" fill="#5a6fb5" opacity="0.55"/>
<circle cx="330.88" cy="115.70" r="0.42" fill="#5a6fb5" opacity="0.55"/>
<circle cx="339.27" cy="128.83" r="0.42" fill="#3a4f98" opacity="0.55"/>
<circle cx="338.63" cy="120.84" r="0.42" fill="#3a4f98" opacity="0.55"/>
<circle cx="356.52" cy="119.06" r="0.42" fill="#6378b8" opacity="0.55"/>
<circle cx="341.60" cy="127.49" r="0.42" fill="#5a6fb5" opacity="0.55"/>
<circle cx="359.94" cy="137.39" r="0.42" fill="#6378b8" opacity="0.55"/>
<circle cx="345.49" cy="118.63" r="0.42" fill="#2c3c88" opacity="0.55"/>
<circle cx="342.55" cy="120.24" r="0.42" fill="#5a6fb5" opacity="0.55"/>
<circle cx="346.91" cy="122.65" r="0.42" fill="#b0b8d8" opacity="0.55"/>
<circle cx="335.91" cy="113.14" r="0.42" fill="#2c3c88" opacity="0.55"/>
<circle cx="336.65" cy="113.01" r="0.42" fill="#6378b8" opacity="0.55"/>
<circle cx="347.77" cy="133.26" r="0.42" fill="#b0b8d8" opacity="0.55"/>
<circle cx="341.51" cy="117.28" r="0.42" fill="#7f8fc8" opacity="0.55"/>
<circle cx="350.70" cy="114.49" r="0.42" fill="#6378b8" opacity="0.55"/>
<circle cx="355.02" cy="114.62" r="0.42" fill="#3a4f98" opacity="0.55"/>
<circle cx="348.03" cy="117.65" r="0.42" fill="#5a6fb5" opacity="0.55"/>
<circle cx="339.28" cy="118.50" r="0.42" fill="#5a6fb5" opacity="0.55"/>
<circle cx="345.84" cy="123.06" r="0.42" fill="#4a5fa8" opacity="0.55"/>
<circle cx="334.61" cy="126.14" r="0.42" fill="#4a5fa8" opacity="0.55"/>
<circle cx="335.28" cy="121.15" r="0.42" fill="#6378b8" opacity="0.55"/>
<circle cx="346.24" cy="112.21" r="0.42" fill="#2c3c88" opacity="0.55"/>
<circle cx="343.73" cy="121.47" r="0.42" fill="#2c3c88" opacity="0.55"/>
<circle cx="324.02" cy="106.08" r="0.42" fill="#7f8fc8" opacity="0.55"/>
<circle cx="336.85" cy="122.35" r="0.42" fill="#6378b8" opacity="0.55"/>
<circle cx="352.84" cy="125.78" r="0.42" fill="#7f8fc8" opacity="0.55"/>
<circle cx="339.10" cy="114.58" r="0.42" fill="#4a5fa8" opacity="0.55"/>
<circle cx="343.35" cy="117.04" r="0.42" fill="#6378b8" opacity="0.55"/>
<circle cx="345.81" cy="125.24" r="0.42" fill="#b0b8d8" opacity="0.55"/>
<circle cx="357.67" cy="122.51" r="0.42" fill="#95a4d4" opacity="0.55"/>
<circle cx="332.42" cy="125.27" r="0.42" fill="#4a5fa8" opacity="0.55"/>
<circle cx="336.17" cy="131.52" r="0.42" fill="#7f8fc8" opacity="0.55"/>
<circle cx="344.57" cy="117.46" r="0.42" fill="#b0b8d8" opacity="0.55"/>
<circle cx="327.00" cy="125.84" r="0.42" fill="#5a6fb5" opacity="0.55"/>
<circle cx="347.25" cy="119.55" r="0.42" fill="#4a5fa8" opacity="0.55"/>
<circle cx="346.37" cy="121.10" r="0.42" fill="#6378b8" opacity="0.55"/>
<circle cx="339.69" cy="125.73" r="0.42" fill="#7f8fc8" opacity="0.55"/>
<circle cx="359.65" cy="116.76" r="0.42" fill="#4a5fa8" opacity="0.55"/>
<circle cx="337.11" cy="139.95" r="0.42" fill="#b0b8d8" opacity="0.55"/>
<circle cx="340.26" cy="121.97" r="0.42" fill="#6378b8" opacity="0.55"/>
<circle cx="337.48" cy="130.26" r="0.42" fill="#2c3c88" opacity="0.55"/>
<circle cx="331.26" cy="123.13" r="0.42" fill="#b0b8d8" opacity="0.55"/>
<circle cx="358.19" cy="115.95" r="0.42" fill="#3a4f98" opacity="0.55"/>
<circle cx="344.26" cy="123.90" r="0.42" fill="#3a4f98" opacity="0.55"/>
<circle cx="353.78" cy="111.01" r="0.42" fill="#4a5fa8" opacity="0.55"/>
<circle cx="350.30" cy="110.95" r="0.42" fill="#5a6fb5" opacity="0.55"/>
<circle cx="326.13" cy="109.20" r="0.42" fill="#95a4d4" opacity="0.55"/>
<circle cx="336.31" cy="130.04" r="0.42" fill="#95a4d4" opacity="0.55"/>
<circle cx="347.31" cy="114.51" r="0.42" fill="#4a5fa8" opacity="0.55"/>
<circle cx="342.25" cy="127.05" r="0.42" fill="#7f8fc8" opacity="0.55"/>
<circle cx="332.41" cy="112.90" r="0.42" fill="#4a5fa8" opacity="0.55"/>
<circle cx="343.94" cy="125.54" r="0.42" fill="#7f8fc8" opacity="0.55"/>
<circle cx="342.67" cy="137.41" r="0.42" fill="#b0b8d8" opacity="0.55"/>
<circle cx="343.07" cy="123.94" r="0.42" fill="#b0b8d8" opacity="0.55"/>
<circle cx="346.57" cy="115.56" r="0.42" fill="#95a4d4" opacity="0.55"/>
<circle cx="343.99" cy="123.72" r="0.42" fill="#2c3c88" opacity="0.55"/>
<circle cx="339.69" cy="122.25" r="0.42" fill="#5a6fb5" opacity="0.55"/>
<circle cx="344.06" cy="120.40" r="0.42" fill="#2c3c88" opacity="0.55"/>
<circle cx="341.68" cy="121.91" r="0.42" fill="#3a4f98" opacity="0.55"/>
<circle cx="345.81" cy="114.87" r="0.42" fill="#5a6fb5" opacity="0.55"/>
<circle cx="352.29" cy="114.18" r="0.42" fill="#b0b8d8" opacity="0.55"/>
<circle cx="339.63" cy="120.78" r="0.42" fill="#95a4d4" opacity="0.55"/>
<circle cx="346.79" cy="126.02" r="0.42" fill="#5a6fb5" opacity="0.55"/>
<circle cx="338.29" cy="129.32" r="0.42" fill="#2c3c88" opacity="0.55"/>
<circle cx="347.92" cy="104.53" r="0.42" fill="#95a4d4" opacity="0.55"/>
<circle cx="371.31" cy="129.05" r="0.42" fill="#3a4f98" opacity="0.55"/>
<circle cx="350.15" cy="114.90" r="0.42" fill="#b0b8d8" opacity="0.55"/>
<circle cx="346.08" cy="116.18" r="0.42" fill="#4a5fa8" opacity="0.55"/>
<circle cx="339.56" cy="129.51" r="0.42" fill="#4a5fa8" opacity="0.55"/>
<circle cx="349.49" cy="124.21" r="0.42" fill="#b0b8d8" opacity="0.55"/>
<circle cx="340.26" cy="117.95" r="0.42" fill="#5a6fb5" opacity="0.55"/>
<circle cx="327.70" cy="130.23" r="0.42" fill="#7f8fc8" opacity="0.55"/>
<circle cx="344.94" cy="123.36" r="0.42" fill="#95a4d4" opacity="0.55"/>
<circle cx="352.79" cy="120.72" r="0.42" fill="#4a5fa8" opacity="0.55"/>
<circle cx="354.69" cy="124.42" r="0.42" fill="#b0b8d8" opacity="0.55"/>
<circle cx="329.59" cy="122.36" r="0.42" fill="#6378b8" opacity="0.55"/>
<circle cx="352.45" cy="111.79" r="0.42" fill="#6378b8" opacity="0.55"/>
<circle cx="344.06" cy="117.45" r="0.42" fill="#3a4f98" opacity="0.55"/>
<circle cx="334.48" cy="116.21" r="0.42" fill="#2c3c88" opacity="0.55"/>
<circle cx="351.39" cy="136.09" r="0.42" fill="#3a4f98" opacity="0.55"/>
<circle cx="369.20" cy="115.38" r="0.42" fill="#95a4d4" opacity="0.55"/>
<circle cx="353.97" cy="138.89" r="0.42" fill="#3a4f98" opacity="0.55"/>
<circle cx="354.45" cy="124.92" r="0.42" fill="#4a5fa8" opacity="0.55"/>
<circle cx="346.29" cy="118.75" r="0.42" fill="#b0b8d8" opacity="0.55"/>
<circle cx="349.20" cy="122.63" r="0.42" fill="#4a5fa8" opacity="0.55"/>
<circle cx="356.16" cy="116.25" r="0.42" fill="#5a6fb5" opacity="0.55"/>
<circle cx="337.71" cy="116.10" r="0.42" fill="#6378b8" opacity="0.55"/>
<circle cx="337.42" cy="122.50" r="0.42" fill="#2c3c88" opacity="0.55"/>
<circle cx="351.52" cy="127.85" r="0.42" fill="#7f8fc8" opacity="0.55"/>
<circle cx="331.45" cy="126.56" r="0.42" fill="#4a5fa8" opacity="0.55"/>
<circle cx="327.70" cy="124.76" r="0.42" fill="#4a5fa8" opacity="0.55"/>
<circle cx="353.35" cy="134.41" r="0.42" fill="#6378b8" opacity="0.55"/>
<circle cx="359.70" cy="114.12" r="0.42" fill="#7f8fc8" opacity="0.55"/>
<circle cx="348.56" cy="99.94" r="0.42" fill="#2c3c88" opacity="0.55"/>
<circle cx="351.17" cy="110.99" r="0.42" fill="#b0b8d8" opacity="0.55"/>
<circle cx="351.95" cy="119.70" r="0.42" fill="#95a4d4" opacity="0.55"/>
<circle cx="333.86" cy="122.68" r="0.42" fill="#7f8fc8" opacity="0.55"/>
<circle cx="338.57" cy="133.07" r="0.42" fill="#7f8fc8" opacity="0.55"/>
<circle cx="342.70" cy="110.49" r="0.42" fill="#7f8fc8" opacity="0.55"/>
<circle cx="340.78" cy="122.81" r="0.42" fill="#2c3c88" opacity="0.55"/>
<circle cx="341.04" cy="123.60" r="0.42" fill="#5a6fb5" opacity="0.55"/>
<circle cx="338.95" cy="117.92" r="0.42" fill="#7f8fc8" opacity="0.55"/>
<circle cx="344.74" cy="125.08" r="0.42" fill="#b0b8d8" opacity="0.55"/>
<circle cx="348.23" cy="118.61" r="0.42" fill="#4a5fa8" opacity="0.55"/>
<circle cx="335.42" cy="110.03" r="0.42" fill="#95a4d4" opacity="0.55"/>
<circle cx="330.87" cy="115.06" r="0.42" fill="#6378b8" opacity="0.55"/>
<circle cx="344.74" cy="126.70" r="0.42" fill="#3a4f98" opacity="0.55"/>
<circle cx="339.33" cy="123.74" r="0.42" fill="#95a4d4" opacity="0.55"/>
<circle cx="348.23" cy="119.25" r="0.42" fill="#5a6fb5" opacity="0.55"/>
<circle cx="340.89" cy="123.56" r="0.42" fill="#5a6fb5" opacity="0.55"/>
<circle cx="352.04" cy="130.57" r="0.42" fill="#b0b8d8" opacity="0.55"/>
<circle cx="347.56" cy="113.73" r="0.42" fill="#7f8fc8" opacity="0.55"/>
<circle cx="331.77" cy="126.26" r="0.42" fill="#5a6fb5" opacity="0.55"/>
<circle cx="348.36" cy="129.36" r="0.42" fill="#2c3c88" opacity="0.55"/>
<circle cx="347.06" cy="131.84" r="0.42" fill="#7f8fc8" opacity="0.55"/>
<circle cx="350.38" cy="112.40" r="0.42" fill="#95a4d4" opacity="0.55"/>
<circle cx="343.74" cy="115.54" r="0.42" fill="#6378b8" opacity="0.55"/>
<circle cx="352.99" cy="105.32" r="0.42" fill="#b0b8d8" opacity="0.55"/>
<circle cx="345.35" cy="115.74" r="0.42" fill="#7f8fc8" opacity="0.55"/>
<circle cx="335.45" cy="112.35" r="0.42" fill="#95a4d4" opacity="0.55"/>
<circle cx="340.34" cy="118.16" r="0.42" fill="#6378b8" opacity="0.55"/>
<circle cx="341.56" cy="111.38" r="0.42" fill="#4a5fa8" opacity="0.55"/>
<circle cx="337.66" cy="120.09" r="0.42" fill="#5a6fb5" opacity="0.55"/>
<circle cx="353.73" cy="106.76" r="0.42" fill="#b0b8d8" opacity="0.55"/>
<circle cx="351.92" cy="125.69" r="0.42" fill="#b0b8d8" opacity="0.55"/>
<circle cx="352.92" cy="130.35" r="0.42" fill="#95a4d4" opacity="0.55"/>
<circle cx="350.91" cy="135.77" r="0.42" fill="#3a4f98" opacity="0.55"/>
<circle cx="357.12" cy="124.02" r="0.42" fill="#4a5fa8" opacity="0.55"/>
<circle cx="333.52" cy="136.49" r="0.42" fill="#6378b8" opacity="0.55"/>
<circle cx="354.19" cy="130.26" r="0.42" fill="#3a4f98" opacity="0.55"/>
<circle cx="347.93" cy="104.18" r="0.42" fill="#4a5fa8" opacity="0.55"/>
<circle cx="344.01" cy="124.92" r="0.42" fill="#b0b8d8" opacity="0.55"/>
<circle cx="343.28" cy="121.64" r="0.42" fill="#7f8fc8" opacity="0.55"/>
<circle cx="365.76" cy="123.88" r="0.42" fill="#95a4d4" opacity="0.55"/>
<circle cx="341.45" cy="117.49" r="0.42" fill="#5a6fb5" opacity="0.55"/>
<circle cx="344.96" cy="136.67" r="0.42" fill="#4a5fa8" opacity="0.55"/>
<circle cx="363.13" cy="123.37" r="0.42" fill="#95a4d4" opacity="0.55"/>
<circle cx="343.91" cy="137.16" r="0.42" fill="#b0b8d8" opacity="0.55"/>
<circle cx="332.67" cy="119.10" r="0.42" fill="#6378b8" opacity="0.55"/>
<circle cx="342.90" cy="124.04" r="0.42" fill="#7f8fc8" opacity="0.55"/>
<circle cx="348.94" cy="122.22" r="0.42" fill="#b0b8d8" opacity="0.55"/>
<circle cx="333.38" cy="113.60" r="0.42" fill="#6378b8" opacity="0.55"/>
<circle cx="350.88" cy="127.02" r="0.42" fill="#7f8fc8" opacity="0.55"/>
<circle cx="339.45" cy="119.42" r="0.42" fill="#95a4d4" opacity="0.55"/>
<circle cx="351.28" cy="129.85" r="0.42" fill="#2c3c88" opacity="0.55"/>
<circle cx="352.67" cy="134.65" r="0.42" fill="#2c3c88" opacity="0.55"/>
<circle cx="341.27" cy="110.25" r="0.42" fill="#4a5fa8" opacity="0.55"/>
<circle cx="329.90" cy="133.34" r="0.42" fill="#3a4f98" opacity="0.55"/>
<circle cx="341.87" cy="126.35" r="0.42" fill="#3a4f98" opacity="0.55"/>
<circle cx="341.69" cy="105.02" r="0.42" fill="#3a4f98" opacity="0.55"/>
<circle cx="351.17" cy="105.87" r="0.42" fill="#4a5fa8" opacity="0.55"/>
<circle cx="342.96" cy="125.27" r="0.42" fill="#3a4f98" opacity="0.55"/>
<circle cx="345.04" cy="129.90" r="0.42" fill="#4a5fa8" opacity="0.55"/>
<circle cx="338.52" cy="128.87" r="0.42" fill="#6378b8" opacity="0.55"/>
<circle cx="342.59" cy="126.08" r="0.42" fill="#4a5fa8" opacity="0.55"/>
<circle cx="346.28" cy="129.78" r="0.42" fill="#2c3c88" opacity="0.55"/>
<circle cx="348.13" cy="101.29" r="0.42" fill="#4a5fa8" opacity="0.55"/>
<circle cx="351.05" cy="104.55" r="0.42" fill="#4a5fa8" opacity="0.55"/>
<circle cx="356.19" cy="123.61" r="0.42" fill="#5a6fb5" opacity="0.55"/>
<circle cx="354.73" cy="115.14" r="0.42" fill="#4a5fa8" opacity="0.55"/>
<circle cx="340.60" cy="116.54" r="0.42" fill="#4a5fa8" opacity="0.55"/>
<circle cx="327.04" cy="129.44" r="0.42" fill="#5a6fb5" opacity="0.55"/>
<circle cx="350.61" cy="126.12" r="0.42" fill="#7f8fc8" opacity="0.55"/>
<circle cx="352.82" cy="128.84" r="0.42" fill="#5a6fb5" opacity="0.55"/>
<circle cx="354.22" cy="126.75" r="0.42" fill="#7f8fc8" opacity="0.55"/>
<circle cx="336.10" cy="124.75" r="0.42" fill="#5a6fb5" opacity="0.55"/>
<circle cx="354.06" cy="115.36" r="0.42" fill="#5a6fb5" opacity="0.55"/>
<circle cx="345.14" cy="124.64" r="0.42" fill="#5a6fb5" opacity="0.55"/>
<circle cx="350.87" cy="111.14" r="0.42" fill="#95a4d4" opacity="0.55"/>
<circle cx="341.86" cy="116.38" r="0.42" fill="#3a4f98" opacity="0.55"/>
<circle cx="335.22" cy="123.61" r="0.42" fill="#b0b8d8" opacity="0.55"/>
<circle cx="338.23" cy="122.42" r="0.42" fill="#95a4d4" opacity="0.55"/>
<circle cx="342.40" cy="125.76" r="0.42" fill="#2c3c88" opacity="0.55"/>
<circle cx="352.89" cy="119.38" r="0.42" fill="#3a4f98" opacity="0.55"/>
<circle cx="355.33" cy="138.85" r="0.42" fill="#3a4f98" opacity="0.55"/>
<circle cx="336.28" cy="117.56" r="0.42" fill="#5a6fb5" opacity="0.55"/>
<circle cx="349.03" cy="116.90" r="0.42" fill="#4a5fa8" opacity="0.55"/>
<circle cx="345.65" cy="116.05" r="0.42" fill="#6378b8" opacity="0.55"/>
<circle cx="339.18" cy="116.15" r="0.42" fill="#4a5fa8" opacity="0.55"/>
<circle cx="329.92" cy="119.28" r="0.42" fill="#3a4f98" opacity="0.55"/>
<circle cx="344.65" cy="116.93" r="0.42" fill="#95a4d4" opacity="0.55"/>
<circle cx="357.01" cy="120.14" r="0.42" fill="#7f8fc8" opacity="0.55"/>
<circle cx="334.70" cy="127.31" r="0.42" fill="#7f8fc8" opacity="0.55"/>
<circle cx="339.99" cy="110.51" r="0.42" fill="#5a6fb5" opacity="0.55"/>
<circle cx="349.18" cy="111.74" r="0.42" fill="#b0b8d8" opacity="0.55"/>
<circle cx="343.68" cy="132.91" r="0.42" fill="#7f8fc8" opacity="0.55"/>
<circle cx="341.81" cy="123.06" r="0.42" fill="#2c3c88" opacity="0.55"/>
<circle cx="346.04" cy="109.77" r="0.42" fill="#b0b8d8" opacity="0.55"/>
<circle cx="324.87" cy="137.06" r="0.42" fill="#7f8fc8" opacity="0.55"/>
<circle cx="332.82" cy="128.34" r="0.42" fill="#6378b8" opacity="0.55"/>
<circle cx="338.62" cy="127.40" r="0.42" fill="#b0b8d8" opacity="0.55"/>
<circle cx="343.23" cy="128.70" r="0.42" fill="#3a4f98" opacity="0.55"/>
<circle cx="337.12" cy="127.86" r="0.42" fill="#2c3c88" opacity="0.55"/>
<circle cx="344.44" cy="120.21" r="0.42" fill="#b0b8d8" opacity="0.55"/>
<circle cx="340.05" cy="125.89" r="0.42" fill="#5a6fb5" opacity="0.55"/>
<circle cx="347.79" cy="112.41" r="0.42" fill="#2c3c88" opacity="0.55"/>
<circle cx="342.01" cy="119.21" r="0.42" fill="#3a4f98" opacity="0.55"/>
<circle cx="338.10" cy="135.64" r="0.42" fill="#95a4d4" opacity="0.55"/>
<circle cx="350.23" cy="119.53" r="0.42" fill="#2c3c88" opacity="0.55"/>
<circle cx="360.50" cy="107.59" r="0.42" fill="#4a5fa8" opacity="0.55"/>
<circle cx="354.87" cy="124.22" r="0.42" fill="#b0b8d8" opacity="0.55"/>
<circle cx="341.95" cy="131.03" r="0.42" fill="#5a6fb5" opacity="0.55"/>
<circle cx="317.23" cy="113.72" r="0.42" fill="#2c3c88" opacity="0.55"/>
<circle cx="339.21" cy="126.12" r="0.42" fill="#3a4f98" opacity="0.55"/>
<circle cx="343.89" cy="121.36" r="0.42" fill="#6378b8" opacity="0.55"/>
<circle cx="341.39" cy="120.39" r="0.42" fill="#3a4f98" opacity="0.55"/>
<circle cx="333.43" cy="120.93" r="0.42" fill="#7f8fc8" opacity="0.55"/>
<circle cx="360.05" cy="105.95" r="0.42" fill="#b0b8d8" opacity="0.55"/>
<circle cx="333.87" cy="129.41" r="0.42" fill="#3a4f98" opacity="0.55"/>
<circle cx="340.24" cy="107.86" r="0.42" fill="#6378b8" opacity="0.55"/>
<circle cx="348.34" cy="127.53" r="0.42" fill="#6378b8" opacity="0.55"/>
<circle cx="349.41" cy="111.95" r="0.42" fill="#6378b8" opacity="0.55"/>
<circle cx="341.27" cy="115.10" r="0.42" fill="#3a4f98" opacity="0.55"/>
<circle cx="355.44" cy="97.63" r="0.42" fill="#2c3c88" opacity="0.55"/>
<circle cx="338.38" cy="113.40" r="0.42" fill="#95a4d4" opacity="0.55"/>
<circle cx="339.84" cy="120.83" r="0.42" fill="#7f8fc8" opacity="0.55"/>
<circle cx="354.59" cy="125.05" r="0.42" fill="#6378b8" opacity="0.55"/>
<circle cx="329.61" cy="142.59" r="0.42" fill="#4a5fa8" opacity="0.55"/>
<circle cx="344.58" cy="119.83" r="0.42" fill="#4a5fa8" opacity="0.55"/>
<circle cx="340.72" cy="133.20" r="0.42" fill="#4a5fa8" opacity="0.55"/>
<circle cx="351.98" cy="116.74" r="0.42" fill="#6378b8" opacity="0.55"/>
<circle cx="334.82" cy="114.49" r="0.42" fill="#95a4d4" opacity="0.55"/>
<circle cx="351.20" cy="133.97" r="0.42" fill="#5a6fb5" opacity="0.55"/>
<circle cx="356.73" cy="107.92" r="0.42" fill="#7f8fc8" opacity="0.55"/>
<circle cx="337.65" cy="117.05" r="0.42" fill="#6378b8" opacity="0.55"/>
<circle cx="350.91" cy="129.13" r="0.42" fill="#6378b8" opacity="0.55"/>
<circle cx="348.13" cy="121.61" r="0.42" fill="#b0b8d8" opacity="0.55"/>
<circle cx="349.89" cy="110.50" r="0.42" fill="#4a5fa8" opacity="0.55"/>
<circle cx="337.86" cy="110.55" r="0.42" fill="#3a4f98" opacity="0.55"/>
<circle cx="348.65" cy="125.93" r="0.42" fill="#5a6fb5" opacity="0.55"/>
<circle cx="348.06" cy="126.85" r="0.42" fill="#6378b8" opacity="0.55"/>
<circle cx="357.32" cy="105.03" r="0.42" fill="#6378b8" opacity="0.55"/>
<circle cx="339.91" cy="128.56" r="0.42" fill="#2c3c88" opacity="0.55"/>
<circle cx="350.60" cy="121.73" r="0.42" fill="#2c3c88" opacity="0.55"/>
<circle cx="327.41" cy="110.31" r="0.42" fill="#b0b8d8" opacity="0.55"/>
<circle cx="350.56" cy="123.11" r="0.42" fill="#95a4d4" opacity="0.55"/>
<circle cx="362.79" cy="126.36" r="0.42" fill="#7f8fc8" opacity="0.55"/>
<circle cx="338.22" cy="137.71" r="0.42" fill="#b0b8d8" opacity="0.55"/>
<circle cx="341.40" cy="131.90" r="0.42" fill="#b0b8d8" opacity="0.55"/>
<circle cx="347.97" cy="120.59" r="0.42" fill="#2c3c88" opacity="0.55"/>
<circle cx="340.18" cy="110.96" r="0.42" fill="#2c3c88" opacity="0.55"/>
<circle cx="339.07" cy="137.16" r="0.42" fill="#b0b8d8" opacity="0.55"/>
<circle cx="360.95" cy="123.40" r="0.42" fill="#6378b8" opacity="0.55"/>
<circle cx="348.49" cy="128.10" r="0.42" fill="#7f8fc8" opacity="0.55"/>
<circle cx="361.53" cy="121.84" r="0.42" fill="#2c3c88" opacity="0.55"/>
<circle cx="341.34" cy="119.42" r="0.42" fill="#2c3c88" opacity="0.55"/>
<circle cx="339.03" cy="131.59" r="0.42" fill="#6378b8" opacity="0.55"/>
<circle cx="329.39" cy="129.81" r="0.42" fill="#95a4d4" opacity="0.55"/>
<circle cx="338.18" cy="127.20" r="0.42" fill="#3a4f98" opacity="0.55"/>
<circle cx="345.17" cy="123.26" r="0.42" fill="#4a5fa8" opacity="0.55"/>
<circle cx="342.47" cy="125.15" r="0.42" fill="#7f8fc8" opacity="0.55"/>
<circle cx="350.30" cy="124.70" r="0.42" fill="#7f8fc8" opacity="0.55"/>
<circle cx="336.55" cy="117.77" r="0.42" fill="#95a4d4" opacity="0.55"/>
<circle cx="349.03" cy="127.68" r="0.42" fill="#2c3c88" opacity="0.55"/>
<circle cx="330.57" cy="135.98" r="0.42" fill="#95a4d4" opacity="0.55"/>
<circle cx="342.34" cy="130.24" r="0.42" fill="#95a4d4" opacity="0.55"/>
<circle cx="346.25" cy="130.24" r="0.42" fill="#7f8fc8" opacity="0.55"/>
<circle cx="371.27" cy="110.37" r="0.42" fill="#b0b8d8" opacity="0.55"/>
<circle cx="338.47" cy="116.74" r="0.42" fill="#95a4d4" opacity="0.55"/>
<circle cx="337.12" cy="126.75" r="0.42" fill="#7f8fc8" opacity="0.55"/>
<circle cx="347.85" cy="117.87" r="0.42" fill="#6378b8" opacity="0.55"/>
<circle cx="338.87" cy="119.22" r="0.42" fill="#2c3c88" opacity="0.55"/>
<circle cx="357.53" cy="123.43" r="0.42" fill="#7f8fc8" opacity="0.55"/>
<circle cx="342.04" cy="128.84" r="0.42" fill="#6378b8" opacity="0.55"/>
<circle cx="340.28" cy="107.17" r="0.42" fill="#95a4d4" opacity="0.55"/>
<circle cx="339.91" cy="132.30" r="0.42" fill="#6378b8" opacity="0.55"/>
<circle cx="361.12" cy="128.81" r="0.42" fill="#5a6fb5" opacity="0.55"/>
<circle cx="349.48" cy="133.67" r="0.42" fill="#6378b8" opacity="0.55"/>
<circle cx="345.61" cy="125.37" r="0.42" fill="#2c3c88" opacity="0.55"/>
<circle cx="343.36" cy="129.46" r="0.42" fill="#b0b8d8" opacity="0.55"/>
<circle cx="347.59" cy="103.62" r="0.42" fill="#7f8fc8" opacity="0.55"/>
<circle cx="349.60" cy="118.95" r="0.42" fill="#3a4f98" opacity="0.55"/>
<circle cx="339.95" cy="109.66" r="0.42" fill="#3a4f98" opacity="0.55"/>
<circle cx="346.44" cy="119.84" r="0.42" fill="#b0b8d8" opacity="0.55"/>
<circle cx="345.15" cy="137.46" r="0.42" fill="#3a4f98" opacity="0.55"/>
<circle cx="348.01" cy="118.85" r="0.42" fill="#5a6fb5" opacity="0.55"/>
<circle cx="358.23" cy="133.43" r="0.42" fill="#95a4d4" opacity="0.55"/>
<circle cx="344.46" cy="118.62" r="0.42" fill="#4a5fa8" opacity="0.55"/>
<circle cx="338.41" cy="115.31" r="0.42" fill="#5a6fb5" opacity="0.55"/>
<circle cx="352.28" cy="132.57" r="0.42" fill="#5a6fb5" opacity="0.55"/>
<circle cx="331.90" cy="106.28" r="0.42" fill="#95a4d4" opacity="0.55"/>
<circle cx="333.51" cy="115.24" r="0.42" fill="#5a6fb5" opacity="0.55"/>
<circle cx="355.64" cy="115.30" r="0.42" fill="#3a4f98" opacity="0.55"/>
<circle cx="348.58" cy="119.37" r="0.42" fill="#5a6fb5" opacity="0.55"/>
<circle cx="358.27" cy="110.90" r="0.42" fill="#4a5fa8" opacity="0.55"/>
<circle cx="356.94" cy="118.92" r="0.42" fill="#4a5fa8" opacity="0.55"/>
<circle cx="346.41" cy="115.36" r="0.42" fill="#3a4f98" opacity="0.55"/>
<circle cx="344.99" cy="117.39" r="0.42" fill="#2c3c88" opacity="0.55"/>
<circle cx="356.06" cy="120.86" r="0.42" fill="#95a4d4" opacity="0.55"/>
<circle cx="344.32" cy="124.62" r="0.42" fill="#2c3c88" opacity="0.55"/>
<circle cx="338.17" cy="123.74" r="0.42" fill="#b0b8d8" opacity="0.55"/>
<circle cx="333.00" cy="120.31" r="0.42" fill="#95a4d4" opacity="0.55"/>
<circle cx="336.37" cy="125.43" r="0.42" fill="#7f8fc8" opacity="0.55"/>
<circle cx="339.83" cy="121.36" r="0.42" fill="#5a6fb5" opacity="0.55"/>
<circle cx="347.18" cy="125.52" r="0.42" fill="#95a4d4" opacity="0.55"/>
<circle cx="339.17" cy="119.24" r="0.42" fill="#4a5fa8" opacity="0.55"/>
<circle cx="348.64" cy="127.83" r="0.42" fill="#6378b8" opacity="0.55"/>
<circle cx="347.07" cy="127.99" r="0.42" fill="#7f8fc8" opacity="0.55"/>
<circle cx="341.40" cy="111.96" r="0.42" fill="#b0b8d8" opacity="0.55"/>
<circle cx="345.45" cy="127.30" r="0.42" fill="#b0b8d8" opacity="0.55"/>
<circle cx="352.67" cy="130.03" r="0.42" fill="#5a6fb5" opacity="0.55"/>
<circle cx="353.39" cy="130.91" r="0.42" fill="#95a4d4" opacity="0.55"/>
<circle cx="344.31" cy="121.57" r="0.42" fill="#3a6a98" opacity="0.6"/>
<circle cx="339.53" cy="119.80" r="0.42" fill="#3a6a98" opacity="0.6"/>
<circle cx="345.29" cy="111.91" r="0.42" fill="#5a9a88" opacity="0.6"/>
<circle cx="350.18" cy="112.98" r="0.42" fill="#4a8a98" opacity="0.6"/>
<circle cx="350.49" cy="117.91" r="0.42" fill="#5a9a88" opacity="0.6"/>
<circle cx="346.81" cy="116.09" r="0.42" fill="#5a9a88" opacity="0.6"/>
<circle cx="347.36" cy="117.60" r="0.42" fill="#5a9a88" opacity="0.6"/>
<circle cx="346.14" cy="116.55" r="0.42" fill="#5a9a88" opacity="0.6"/>
<circle cx="343.12" cy="117.54" r="0.42" fill="#5a9a88" opacity="0.6"/>
<circle cx="348.76" cy="117.18" r="0.42" fill="#4a8a98" opacity="0.6"/>
<circle cx="337.04" cy="117.92" r="0.42" fill="#5a9a88" opacity="0.6"/>
<circle cx="353.49" cy="118.80" r="0.42" fill="#3a6a98" opacity="0.6"/>
<circle cx="346.23" cy="115.35" r="0.42" fill="#5a9a88" opacity="0.6"/>
<circle cx="352.46" cy="114.91" r="0.42" fill="#3a6a98" opacity="0.6"/>
<circle cx="346.35" cy="118.97" r="0.42" fill="#4a8a98" opacity="0.6"/>
<circle cx="344.54" cy="112.12" r="0.42" fill="#3a6a98" opacity="0.6"/>
<circle cx="346.25" cy="113.82" r="0.42" fill="#4a8a98" opacity="0.6"/>
<circle cx="353.85" cy="118.74" r="0.42" fill="#4a8a98" opacity="0.6"/>
<circle cx="349.17" cy="109.38" r="0.42" fill="#5a9a88" opacity="0.6"/>
<circle cx="341.10" cy="122.61" r="0.42" fill="#3a6a98" opacity="0.6"/>
<circle cx="353.17" cy="109.40" r="0.42" fill="#4a8a98" opacity="0.6"/>
<circle cx="353.10" cy="119.34" r="0.42" fill="#5a9a88" opacity="0.6"/>
<circle cx="347.83" cy="112.89" r="0.42" fill="#4a8a98" opacity="0.6"/>
<circle cx="345.74" cy="113.38" r="0.42" fill="#4a8a98" opacity="0.6"/>
<circle cx="344.57" cy="119.26" r="0.42" fill="#5a9a88" opacity="0.6"/>
<circle cx="349.60" cy="113.72" r="0.42" fill="#4a8a98" opacity="0.6"/>
<circle cx="353.00" cy="117.16" r="0.42" fill="#3a6a98" opacity="0.6"/>
<circle cx="363.00" cy="108.90" r="0.42" fill="#5a9a88" opacity="0.6"/>
<circle cx="355.97" cy="111.27" r="0.42" fill="#5a9a88" opacity="0.6"/>
<circle cx="342.26" cy="118.64" r="0.42" fill="#5a9a88" opacity="0.6"/>
<circle cx="343.51" cy="113.05" r="0.42" fill="#4a8a98" opacity="0.6"/>
<circle cx="347.09" cy="114.06" r="0.42" fill="#5a9a88" opacity="0.6"/>
<circle cx="345.35" cy="113.31" r="0.42" fill="#4a8a98" opacity="0.6"/>
<circle cx="350.70" cy="112.77" r="0.42" fill="#4a8a98" opacity="0.6"/>
<circle cx="347.95" cy="115.74" r="0.42" fill="#3a6a98" opacity="0.6"/>
<circle cx="352.32" cy="111.14" r="0.42" fill="#5a9a88" opacity="0.6"/>
<circle cx="348.96" cy="117.06" r="0.42" fill="#4a8a98" opacity="0.6"/>
<circle cx="343.83" cy="115.66" r="0.42" fill="#5a9a88" opacity="0.6"/>
<circle cx="348.49" cy="116.18" r="0.42" fill="#4a8a98" opacity="0.6"/>
<circle cx="349.97" cy="114.81" r="0.42" fill="#5a9a88" opacity="0.6"/>
<circle cx="355.22" cy="116.17" r="0.42" fill="#3a6a98" opacity="0.6"/>
<circle cx="346.48" cy="117.88" r="0.42" fill="#4a8a98" opacity="0.6"/>
<circle cx="343.35" cy="114.88" r="0.42" fill="#5a9a88" opacity="0.6"/>
<circle cx="356.61" cy="114.63" r="0.42" fill="#4a8a98" opacity="0.6"/>
<circle cx="358.09" cy="114.57" r="0.42" fill="#3a6a98" opacity="0.6"/>
<circle cx="354.35" cy="119.12" r="0.42" fill="#3a6a98" opacity="0.6"/>
<circle cx="345.56" cy="111.71" r="0.42" fill="#5a9a88" opacity="0.6"/>
<circle cx="344.16" cy="114.55" r="0.42" fill="#5a9a88" opacity="0.6"/>
<circle cx="342.27" cy="116.61" r="0.42" fill="#5a9a88" opacity="0.6"/>
<circle cx="351.26" cy="112.78" r="0.42" fill="#3a6a98" opacity="0.6"/>
<circle cx="350.55" cy="116.39" r="0.42" fill="#3a6a98" opacity="0.6"/>
<circle cx="347.60" cy="110.64" r="0.42" fill="#4a8a98" opacity="0.6"/>
<circle cx="345.94" cy="113.14" r="0.42" fill="#3a6a98" opacity="0.6"/>
<circle cx="351.54" cy="114.84" r="0.42" fill="#4a8a98" opacity="0.6"/>
<circle cx="344.31" cy="114.61" r="0.42" fill="#4a8a98" opacity="0.6"/>
<circle cx="349.50" cy="125.11" r="0.42" fill="#4a8a98" opacity="0.6"/>
<circle cx="346.14" cy="115.49" r="0.42" fill="#5a9a88" opacity="0.6"/>
<circle cx="346.48" cy="114.18" r="0.42" fill="#3a6a98" opacity="0.6"/>
<circle cx="347.96" cy="120.06" r="0.42" fill="#3a6a98" opacity="0.6"/>
<circle cx="343.18" cy="117.14" r="0.42" fill="#3a6a98" opacity="0.6"/>
<circle cx="351.64" cy="118.74" r="0.42" fill="#3a6a98" opacity="0.6"/>
<circle cx="340.87" cy="113.21" r="0.42" fill="#3a6a98" opacity="0.6"/>
<circle cx="351.85" cy="117.68" r="0.42" fill="#3a6a98" opacity="0.6"/>
<circle cx="341.98" cy="114.27" r="0.42" fill="#4a8a98" opacity="0.6"/>
<circle cx="340.89" cy="109.65" r="0.42" fill="#3a6a98" opacity="0.6"/>
<circle cx="354.04" cy="119.94" r="0.42" fill="#5a9a88" opacity="0.6"/>
<circle cx="337.91" cy="113.48" r="0.42" fill="#4a8a98" opacity="0.6"/>
<circle cx="341.63" cy="113.67" r="0.42" fill="#4a8a98" opacity="0.6"/>
<circle cx="344.11" cy="119.47" r="0.42" fill="#5a9a88" opacity="0.6"/>
<circle cx="348.32" cy="119.37" r="0.42" fill="#4a8a98" opacity="0.6"/>
<circle cx="345.03" cy="107.66" r="0.42" fill="#5a9a88" opacity="0.6"/>
<circle cx="346.06" cy="121.22" r="0.42" fill="#5a9a88" opacity="0.6"/>
<circle cx="349.44" cy="115.18" r="0.42" fill="#4a8a98" opacity="0.6"/>
<circle cx="339.75" cy="112.99" r="0.42" fill="#5a9a88" opacity="0.6"/>
<circle cx="351.26" cy="121.04" r="0.42" fill="#5a9a88" opacity="0.6"/>
<circle cx="350.18" cy="110.61" r="0.42" fill="#4a8a98" opacity="0.6"/>
<circle cx="348.94" cy="114.41" r="0.42" fill="#5a9a88" opacity="0.6"/>
<circle cx="343.14" cy="115.65" r="0.42" fill="#5a9a88" opacity="0.6"/>
<circle cx="347.79" cy="114.97" r="0.42" fill="#3a6a98" opacity="0.6"/>
<circle cx="345.73" cy="118.61" r="0.42" fill="#5a9a88" opacity="0.6"/>
<circle cx="348.64" cy="114.38" r="0.42" fill="#3a6a98" opacity="0.6"/>
<circle cx="348.18" cy="119.27" r="0.42" fill="#3a6a98" opacity="0.6"/>
<circle cx="340.79" cy="118.19" r="0.42" fill="#3a6a98" opacity="0.6"/>
<circle cx="341.42" cy="118.28" r="0.42" fill="#5a9a88" opacity="0.6"/>
<circle cx="353.52" cy="120.02" r="0.42" fill="#4a8a98" opacity="0.6"/>
<circle cx="353.43" cy="122.56" r="0.42" fill="#3a6a98" opacity="0.6"/>
<circle cx="344.32" cy="110.17" r="0.42" fill="#3a6a98" opacity="0.6"/>
<circle cx="351.53" cy="112.93" r="0.42" fill="#3a6a98" opacity="0.6"/>
<circle cx="348.23" cy="113.24" r="0.42" fill="#5a9a88" opacity="0.6"/>
<circle cx="351.65" cy="116.28" r="0.42" fill="#4a8a98" opacity="0.6"/>
<circle cx="343.41" cy="116.32" r="0.42" fill="#4a8a98" opacity="0.6"/>
<circle cx="348.34" cy="115.11" r="0.42" fill="#4a8a98" opacity="0.6"/>
<circle cx="343.82" cy="112.54" r="0.42" fill="#3a6a98" opacity="0.6"/>
<circle cx="344.45" cy="118.49" r="0.42" fill="#4a8a98" opacity="0.6"/>
<circle cx="346.47" cy="112.42" r="0.42" fill="#4a8a98" opacity="0.6"/>
<circle cx="351.84" cy="112.56" r="0.42" fill="#4a8a98" opacity="0.6"/>
<circle cx="344.85" cy="119.29" r="0.42" fill="#5a9a88" opacity="0.6"/>
<circle cx="352.20" cy="113.11" r="0.42" fill="#4a8a98" opacity="0.6"/>
<circle cx="349.78" cy="122.28" r="0.42" fill="#3a6a98" opacity="0.6"/>
<circle cx="342.86" cy="116.92" r="0.42" fill="#5a9a88" opacity="0.6"/>
<circle cx="351.21" cy="114.83" r="0.42" fill="#5a9a88" opacity="0.6"/>
<circle cx="344.83" cy="114.49" r="0.42" fill="#4a8a98" opacity="0.6"/>
<circle cx="348.06" cy="123.16" r="0.42" fill="#3a6a98" opacity="0.6"/>
<circle cx="350.16" cy="116.55" r="0.42" fill="#3a6a98" opacity="0.6"/>
<circle cx="350.44" cy="118.71" r="0.42" fill="#4a8a98" opacity="0.6"/>
<circle cx="344.88" cy="116.00" r="0.42" fill="#3a6a98" opacity="0.6"/>
<circle cx="343.25" cy="113.93" r="0.42" fill="#4a8a98" opacity="0.6"/>
<circle cx="349.05" cy="115.95" r="0.42" fill="#3a6a98" opacity="0.6"/>
<circle cx="349.47" cy="115.10" r="0.42" fill="#4a8a98" opacity="0.6"/>
<circle cx="348.86" cy="111.10" r="0.42" fill="#3a6a98" opacity="0.6"/>
<circle cx="353.76" cy="119.61" r="0.42" fill="#4a8a98" opacity="0.6"/>
<circle cx="354.59" cy="110.07" r="0.42" fill="#3a6a98" opacity="0.6"/>
<circle cx="357.24" cy="119.93" r="0.42" fill="#5a9a88" opacity="0.6"/>
<circle cx="347.69" cy="111.83" r="0.42" fill="#3a6a98" opacity="0.6"/>
<circle cx="348.24" cy="123.11" r="0.42" fill="#3a6a98" opacity="0.6"/>
<circle cx="346.83" cy="116.69" r="0.42" fill="#5a9a88" opacity="0.6"/>
<circle cx="344.08" cy="109.60" r="0.42" fill="#5a9a88" opacity="0.6"/>
<circle cx="339.52" cy="115.83" r="0.42" fill="#4a8a98" opacity="0.6"/>
<circle cx="350.29" cy="115.96" r="0.42" fill="#4a8a98" opacity="0.6"/>
<circle cx="356.09" cy="116.32" r="0.42" fill="#5a9a88" opacity="0.6"/>
<rect x="342.40" y="104.80" width="16.90" height="16.40" fill="none" stroke="#a0a0a0" stroke-width="0.6" />
<rect x="341.60" y="121.20" width="17.00" height="24.20" fill="none" stroke="#a0a0a0" stroke-width="0.6" />
<text x="367.20" y="100.79" font-size="5" text-anchor="middle" font-weight="bold" fill="#000" stroke="#000" stroke-width="0.15">CD34<tspan font-size="4.2" dy="-0.3">+</tspan><tspan dy="0.3"> 38</tspan><tspan font-size="4.2" dy="-0.3">+</tspan></text>
<text x="368.20" y="144.99" font-size="5" text-anchor="middle" font-weight="bold" fill="#000" stroke="#000" stroke-width="0.15">CD34<tspan font-size="4.2" dy="-0.3">+</tspan><tspan dy="0.3"> 38-</tspan></text>
<text transform="translate(301.86,81.30) rotate(-90)" font-size="3.8" text-anchor="middle" font-weight="normal" fill="#444">10<tspan font-size="2.6" dy="-1.3">6</tspan></text>
<line x1="306.30" y1="81.80" x2="307.30" y2="81.80" stroke="#555" stroke-width="0.5" />
<text transform="translate(301.86,97.00) rotate(-90)" font-size="3.8" text-anchor="middle" font-weight="normal" fill="#444">10<tspan font-size="2.6" dy="-1.3">5</tspan></text>
<line x1="306.30" y1="97.50" x2="307.30" y2="97.50" stroke="#555" stroke-width="0.5" />
<text transform="translate(301.86,112.00) rotate(-90)" font-size="3.8" text-anchor="middle" font-weight="normal" fill="#444">10<tspan font-size="2.6" dy="-1.3">4</tspan></text>
<line x1="306.30" y1="112.50" x2="307.30" y2="112.50" stroke="#555" stroke-width="0.5" />
<text transform="translate(301.86,127.50) rotate(-90)" font-size="3.8" text-anchor="middle" font-weight="normal" fill="#444">10<tspan font-size="2.6" dy="-1.3">3</tspan></text>
<line x1="306.30" y1="128.00" x2="307.30" y2="128.00" stroke="#555" stroke-width="0.5" />
<text transform="translate(301.86,142.50) rotate(-90)" font-size="3.8" text-anchor="middle" font-weight="normal" fill="#444">0</text>
<line x1="306.30" y1="143.00" x2="307.30" y2="143.00" stroke="#555" stroke-width="0.5" />
<text x="314.80" y="154.96" font-size="3.8" text-anchor="middle" font-weight="normal" fill="#444" stroke="#444" stroke-width="0.08" >0</text>
<line x1="314.80" y1="148.40" x2="314.80" y2="149.30" stroke="#555" stroke-width="0.5" />
<text x="327.80" y="154.96" font-size="3.8" text-anchor="middle" font-weight="normal" fill="#444" stroke="#444" stroke-width="0.08" >10<tspan font-size="2.6" dy="-1.3">3</tspan></text>
<line x1="327.80" y1="148.40" x2="327.80" y2="149.30" stroke="#555" stroke-width="0.5" />
<text x="346.60" y="154.96" font-size="3.8" text-anchor="middle" font-weight="normal" fill="#444" stroke="#444" stroke-width="0.08" >10<tspan font-size="2.6" dy="-1.3">4</tspan></text>
<line x1="346.60" y1="148.40" x2="346.60" y2="149.30" stroke="#555" stroke-width="0.5" />
<text x="364.00" y="154.96" font-size="3.8" text-anchor="middle" font-weight="normal" fill="#444" stroke="#444" stroke-width="0.08" >10<tspan font-size="2.6" dy="-1.3">5</tspan></text>
<line x1="364.00" y1="148.40" x2="364.00" y2="149.30" stroke="#555" stroke-width="0.5" />
<text x="381.70" y="154.96" font-size="3.8" text-anchor="middle" font-weight="normal" fill="#444" stroke="#444" stroke-width="0.08" >10<tspan font-size="2.6" dy="-1.3">6</tspan></text>
<line x1="381.70" y1="148.40" x2="381.70" y2="149.30" stroke="#555" stroke-width="0.5" />
<line x1="306.60" y1="84.00" x2="307.30" y2="84.00" stroke="#777" stroke-width="0.4" />
<line x1="306.60" y1="87.00" x2="307.30" y2="87.00" stroke="#777" stroke-width="0.4" />
<line x1="306.60" y1="90.00" x2="307.30" y2="90.00" stroke="#777" stroke-width="0.4" />
<line x1="306.60" y1="93.00" x2="307.30" y2="93.00" stroke="#777" stroke-width="0.4" />
<line x1="306.60" y1="96.00" x2="307.30" y2="96.00" stroke="#777" stroke-width="0.4" />
<line x1="306.60" y1="99.00" x2="307.30" y2="99.00" stroke="#777" stroke-width="0.4" />
<line x1="306.60" y1="102.00" x2="307.30" y2="102.00" stroke="#777" stroke-width="0.4" />
<line x1="306.60" y1="105.00" x2="307.30" y2="105.00" stroke="#777" stroke-width="0.4" />
<line x1="306.60" y1="108.00" x2="307.30" y2="108.00" stroke="#777" stroke-width="0.4" />
<line x1="306.60" y1="111.00" x2="307.30" y2="111.00" stroke="#777" stroke-width="0.4" />
<line x1="306.60" y1="114.00" x2="307.30" y2="114.00" stroke="#777" stroke-width="0.4" />
<line x1="306.60" y1="117.00" x2="307.30" y2="117.00" stroke="#777" stroke-width="0.4" />
<line x1="306.60" y1="120.00" x2="307.30" y2="120.00" stroke="#777" stroke-width="0.4" />
<line x1="306.60" y1="123.00" x2="307.30" y2="123.00" stroke="#777" stroke-width="0.4" />
<line x1="306.60" y1="126.00" x2="307.30" y2="126.00" stroke="#777" stroke-width="0.4" />
<line x1="306.60" y1="129.00" x2="307.30" y2="129.00" stroke="#777" stroke-width="0.4" />
<line x1="306.60" y1="132.00" x2="307.30" y2="132.00" stroke="#777" stroke-width="0.4" />
<line x1="306.60" y1="135.00" x2="307.30" y2="135.00" stroke="#777" stroke-width="0.4" />
<line x1="306.60" y1="138.00" x2="307.30" y2="138.00" stroke="#777" stroke-width="0.4" />
<line x1="306.60" y1="141.00" x2="307.30" y2="141.00" stroke="#777" stroke-width="0.4" />
<line x1="306.60" y1="144.00" x2="307.30" y2="144.00" stroke="#777" stroke-width="0.4" />
<rect x="306" y="141.5" width="1.6" height="1.6" fill="#111"/>
<rect x="314" y="148" width="1.6" height="1.6" fill="#111"/>
<text transform="translate(296.26,113.75) rotate(-90)" font-size="8.0" text-anchor="middle" font-weight="normal" fill="#1a1a1a" stroke="#1a1a1a" stroke-width="0.1">CD38−APC</text>
<text x="343.90" y="164.01" font-size="7.85" text-anchor="middle" font-weight="normal" fill="#1a1a1a" stroke="#1a1a1a" stroke-width="0.1" >CD34−FITC</text>
<line x1="368.60" y1="88.10" x2="390.50" y2="73.00" stroke="#222" stroke-width="0.7" />
<path d="M393,71.5 L389.3,72.6 L390.8,74.6 Z" fill="#111"/>
<line x1="373.40" y1="133.30" x2="390.30" y2="123.00" stroke="#222" stroke-width="0.7" />
<path d="M392.6,121.6 L388.9,122.5 L390.3,124.6 Z" fill="#111"/>
<text x="391.30" y="25.69" font-size="7.8" text-anchor="start" font-weight="normal" fill="#1a1a1a" stroke="#1a1a1a" stroke-width="0.24" >CD34<tspan dx="0.3" dy="-2.65" font-size="5.77" stroke-width="0.45">+</tspan><tspan dx="0.2" dy="2.65">CD38</tspan><tspan dx="0.3" dy="-2.65" font-size="5.77" stroke-width="0.45">+</tspan></text>
<rect x="393.60" y="29.80" width="107.90" height="47.10" fill="#fff" stroke="#666" stroke-width="0.8" />
<line x1="394.00" y1="45.00" x2="501.10" y2="45.00" stroke="#e8b8b8" stroke-width="0.9" />
<linearGradient id="g1" gradientUnits="userSpaceOnUse" x1="416" y1="0" x2="449" y2="0"><stop offset="0" stop-color="#e8b8b8"/><stop offset="0.273" stop-color="#c0282a"/><stop offset="0.858" stop-color="#c0282a"/><stop offset="1" stop-color="#e8b8b8"/></linearGradient>
<path d="M416.00,45.00 C416.67,44.93 418.50,44.83 420.00,44.60 C421.50,44.37 423.50,44.12 425.00,43.60 C426.50,43.08 427.83,42.47 429.00,41.50 C430.17,40.53 431.03,39.12 432.00,37.80 C432.97,36.48 433.92,34.48 434.80,33.60 C435.68,32.72 436.48,32.47 437.30,32.50 C438.12,32.53 438.92,32.88 439.70,33.80 C440.48,34.72 441.23,36.50 442.00,38.00 C442.77,39.50 443.55,41.67 444.30,42.80 C445.05,43.93 445.72,44.43 446.50,44.80 C447.28,45.17 448.58,44.97 449.00,45.00" fill="none" stroke="url(#g1)" stroke-width="1.5" stroke-linejoin="round" stroke-linecap="round"/>
<line x1="394.00" y1="52.75" x2="501.10" y2="52.75" stroke="#a8b0d0" stroke-width="0.9" />
<linearGradient id="g2" gradientUnits="userSpaceOnUse" x1="413" y1="0" x2="449" y2="0"><stop offset="0" stop-color="#a8b0d0"/><stop offset="0.278" stop-color="#2a3c8c"/><stop offset="0.842" stop-color="#2a3c8c"/><stop offset="1" stop-color="#a8b0d0"/></linearGradient>
<path d="M413.00,52.75 C413.83,52.66 416.33,52.49 418.00,52.20 C419.67,51.91 421.50,51.53 423.00,51.00 C424.50,50.47 425.83,49.83 427.00,49.00 C428.17,48.17 429.00,47.12 430.00,46.00 C431.00,44.88 432.10,43.28 433.00,42.30 C433.90,41.32 434.73,40.52 435.40,40.10 C436.07,39.68 436.40,39.67 437.00,39.75 C437.60,39.83 438.33,40.01 439.00,40.60 C439.67,41.19 440.28,42.07 441.00,43.30 C441.72,44.53 442.50,46.62 443.30,48.00 C444.10,49.38 444.85,50.81 445.80,51.60 C446.75,52.39 448.47,52.56 449.00,52.75" fill="none" stroke="url(#g2)" stroke-width="1.5" stroke-linejoin="round" stroke-linecap="round"/>
<line x1="394.00" y1="60.60" x2="501.10" y2="60.60" stroke="#f0d0cc" stroke-width="0.9" />
<linearGradient id="g3" gradientUnits="userSpaceOnUse" x1="404" y1="0" x2="443" y2="0"><stop offset="0" stop-color="#f0d0cc"/><stop offset="0.282" stop-color="#e2a49a"/><stop offset="0.846" stop-color="#e2a49a"/><stop offset="1" stop-color="#f0d0cc"/></linearGradient>
<path d="M404.00,60.60 C405.00,60.55 408.17,60.50 410.00,60.30 C411.83,60.10 413.33,59.90 415.00,59.40 C416.67,58.90 418.50,58.20 420.00,57.30 C421.50,56.40 422.83,55.13 424.00,54.00 C425.17,52.87 426.03,51.38 427.00,50.50 C427.97,49.62 428.93,48.90 429.80,48.75 C430.67,48.60 431.42,48.89 432.20,49.60 C432.98,50.31 433.70,51.68 434.50,53.00 C435.30,54.32 436.08,56.32 437.00,57.50 C437.92,58.68 439.00,59.58 440.00,60.10 C441.00,60.62 442.50,60.52 443.00,60.60" fill="none" stroke="url(#g3)" stroke-width="1.0" stroke-linejoin="round" stroke-linecap="round"/>
<line x1="394.00" y1="68.30" x2="501.10" y2="68.30" stroke="#c8e4ea" stroke-width="0.9" />
<linearGradient id="g4" gradientUnits="userSpaceOnUse" x1="400" y1="0" x2="442" y2="0"><stop offset="0" stop-color="#c8e4ea"/><stop offset="0.286" stop-color="#92ccd8"/><stop offset="0.857" stop-color="#92ccd8"/><stop offset="1" stop-color="#c8e4ea"/></linearGradient>
<path d="M400.00,68.30 C401.00,68.25 404.00,68.22 406.00,68.00 C408.00,67.78 410.17,67.47 412.00,67.00 C413.83,66.53 415.58,66.00 417.00,65.20 C418.42,64.40 419.45,63.32 420.50,62.20 C421.55,61.08 422.47,59.43 423.30,58.50 C424.13,57.57 424.80,56.85 425.50,56.60 C426.20,56.35 426.83,57.05 427.50,57.00 C428.17,56.95 428.83,56.22 429.50,56.30 C430.17,56.38 430.83,56.72 431.50,57.50 C432.17,58.28 432.75,59.67 433.50,61.00 C434.25,62.33 435.08,64.37 436.00,65.50 C436.92,66.63 438.00,67.33 439.00,67.80 C440.00,68.27 441.50,68.22 442.00,68.30" fill="none" stroke="url(#g4)" stroke-width="1.0" stroke-linejoin="round" stroke-linecap="round"/>
<line x1="394.00" y1="75.60" x2="501.10" y2="75.60" stroke="#666" stroke-width="0.9" />
<linearGradient id="g5" gradientUnits="userSpaceOnUse" x1="394" y1="0" x2="439.5" y2="0"><stop offset="0" stop-color="#666"/><stop offset="0.308" stop-color="#0a0a0a"/><stop offset="0.901" stop-color="#0a0a0a"/><stop offset="1" stop-color="#666"/></linearGradient>
<path d="M394.00,75.60 C395.00,75.48 397.67,75.23 400.00,74.90 C402.33,74.57 405.67,74.15 408.00,73.60 C410.33,73.05 412.25,72.40 414.00,71.60 C415.75,70.80 417.12,69.93 418.50,68.80 C419.88,67.67 421.15,65.88 422.30,64.80 C423.45,63.72 424.45,62.50 425.40,62.30 C426.35,62.10 427.23,63.17 428.00,63.60 C428.77,64.03 429.25,64.20 430.00,64.90 C430.75,65.60 431.67,66.68 432.50,67.80 C433.33,68.92 434.18,70.47 435.00,71.60 C435.82,72.73 436.65,73.93 437.40,74.60 C438.15,75.27 439.15,75.43 439.50,75.60" fill="none" stroke="url(#g5)" stroke-width="1.6" stroke-linejoin="round" stroke-linecap="round"/>
<text x="460.00" y="35.66" font-size="5.2" text-anchor="middle" font-weight="normal" fill="#333" stroke="#333" stroke-width="0.12" >O<tspan font-size="3" dy="1">2</tspan></text>
<line x1="455.20" y1="37.60" x2="466.60" y2="37.60" stroke="#666" stroke-width="0.5" />
<text x="484.20" y="35.66" font-size="5.2" text-anchor="middle" font-weight="normal" fill="#333" stroke="#333" stroke-width="0.12" >Imatinib μM</text>
<line x1="470.20" y1="37.60" x2="498.20" y2="37.60" stroke="#666" stroke-width="0.5" />
<text x="465.60" y="43.76" font-size="5.2" text-anchor="end" font-weight="normal" fill="#333" stroke="#333" stroke-width="0.12" >21%</text>
<text x="483.40" y="43.76" font-size="5.2" text-anchor="middle" font-weight="normal" fill="#333" stroke="#333" stroke-width="0.12" >0 μM</text>
<text x="465.60" y="51.86" font-size="5.2" text-anchor="end" font-weight="normal" fill="#333" stroke="#333" stroke-width="0.12" >0.5%</text>
<text x="483.40" y="51.86" font-size="5.2" text-anchor="middle" font-weight="normal" fill="#333" stroke="#333" stroke-width="0.12" >0 μM</text>
<text x="465.60" y="59.96" font-size="5.2" text-anchor="end" font-weight="normal" fill="#333" stroke="#333" stroke-width="0.12" >21%</text>
<text x="483.40" y="59.96" font-size="5.2" text-anchor="middle" font-weight="normal" fill="#333" stroke="#333" stroke-width="0.12" >5 μM</text>
<text x="465.60" y="67.46" font-size="5.2" text-anchor="end" font-weight="normal" fill="#333" stroke="#333" stroke-width="0.12" >0.5%</text>
<text x="483.40" y="67.46" font-size="5.2" text-anchor="middle" font-weight="normal" fill="#333" stroke="#333" stroke-width="0.12" >5 μM</text>
<text x="470.00" y="74.36" font-size="5.2" text-anchor="middle" font-weight="normal" fill="#333" stroke="#333" stroke-width="0.12" >ISO</text>
<text x="406.30" y="83.66" font-size="5.2" text-anchor="middle" font-weight="normal" fill="#333" stroke="#333" stroke-width="0.1" >0</text>
<text x="427.50" y="83.66" font-size="5.2" text-anchor="middle" font-weight="normal" fill="#333" stroke="#333" stroke-width="0.1" >10<tspan font-size="3.4" dy="-2">3</tspan></text>
<text x="453.80" y="83.66" font-size="5.2" text-anchor="middle" font-weight="normal" fill="#333" stroke="#333" stroke-width="0.1" >10<tspan font-size="3.4" dy="-2">4</tspan></text>
<text x="478.80" y="83.66" font-size="5.2" text-anchor="middle" font-weight="normal" fill="#333" stroke="#333" stroke-width="0.1" >10<tspan font-size="3.4" dy="-2">5</tspan></text>
<text x="500.80" y="83.66" font-size="5.2" text-anchor="middle" font-weight="normal" fill="#333" stroke="#333" stroke-width="0.1" >10<tspan font-size="3.4" dy="-2">6</tspan></text>
<text x="391.10" y="96.79" font-size="7.8" text-anchor="start" font-weight="normal" fill="#1a1a1a" stroke="#1a1a1a" stroke-width="0.24" >CD34<tspan dx="0.3" dy="-2.65" font-size="5.77" stroke-width="0.45">+</tspan><tspan dx="0.2" dy="2.65">CD38</tspan><tspan dx="0.3" dy="-2.65" font-size="5.77" stroke-width="0.45">−</tspan></text>
<rect x="392.60" y="100.20" width="107.40" height="47.10" fill="#fff" stroke="#666" stroke-width="0.8" />
<line x1="393.00" y1="115.20" x2="499.60" y2="115.20" stroke="#e8b8b8" stroke-width="0.9" />
<linearGradient id="g6" gradientUnits="userSpaceOnUse" x1="414" y1="0" x2="448" y2="0"><stop offset="0" stop-color="#e8b8b8"/><stop offset="0.265" stop-color="#c0282a"/><stop offset="0.838" stop-color="#c0282a"/><stop offset="1" stop-color="#e8b8b8"/></linearGradient>
<path d="M414.00,115.20 C414.83,115.10 417.50,114.90 419.00,114.60 C420.50,114.30 421.67,113.97 423.00,113.40 C424.33,112.83 425.75,112.17 427.00,111.20 C428.25,110.23 429.42,108.80 430.50,107.60 C431.58,106.40 432.67,104.77 433.50,104.00 C434.33,103.23 434.82,103.03 435.50,103.00 C436.18,102.97 436.85,103.13 437.60,103.80 C438.35,104.47 439.18,105.70 440.00,107.00 C440.82,108.30 441.63,110.33 442.50,111.60 C443.37,112.87 444.28,114.00 445.20,114.60 C446.12,115.20 447.53,115.10 448.00,115.20" fill="none" stroke="url(#g6)" stroke-width="1.5" stroke-linejoin="round" stroke-linecap="round"/>
<line x1="393.00" y1="122.80" x2="499.60" y2="122.80" stroke="#a8b0d0" stroke-width="0.9" />
<linearGradient id="g7" gradientUnits="userSpaceOnUse" x1="410" y1="0" x2="448" y2="0"><stop offset="0" stop-color="#a8b0d0"/><stop offset="0.250" stop-color="#2a3c8c"/><stop offset="0.842" stop-color="#2a3c8c"/><stop offset="1" stop-color="#a8b0d0"/></linearGradient>
<path d="M410.00,122.80 C410.83,122.72 413.42,122.57 415.00,122.30 C416.58,122.03 418.00,121.70 419.50,121.20 C421.00,120.70 422.58,120.07 424.00,119.30 C425.42,118.53 426.83,117.52 428.00,116.60 C429.17,115.68 430.07,114.68 431.00,113.80 C431.93,112.92 432.85,111.82 433.60,111.30 C434.35,110.78 434.88,110.67 435.50,110.70 C436.12,110.73 436.63,110.87 437.30,111.50 C437.97,112.13 438.72,113.32 439.50,114.50 C440.28,115.68 441.13,117.38 442.00,118.60 C442.87,119.82 443.70,121.10 444.70,121.80 C445.70,122.50 447.45,122.63 448.00,122.80" fill="none" stroke="url(#g7)" stroke-width="1.5" stroke-linejoin="round" stroke-linecap="round"/>
<line x1="393.00" y1="130.70" x2="499.60" y2="130.70" stroke="#f0d0cc" stroke-width="0.9" />
<linearGradient id="g8" gradientUnits="userSpaceOnUse" x1="396" y1="0" x2="438" y2="0"><stop offset="0" stop-color="#f0d0cc"/><stop offset="0.333" stop-color="#e2a49a"/><stop offset="0.881" stop-color="#e2a49a"/><stop offset="1" stop-color="#f0d0cc"/></linearGradient>
<path d="M396.00,130.70 C397.17,130.55 400.67,130.25 403.00,129.80 C405.33,129.35 408.00,128.63 410.00,128.00 C412.00,127.37 413.50,126.63 415.00,126.00 C416.50,125.37 417.67,124.87 419.00,124.20 C420.33,123.53 421.87,122.60 423.00,122.00 C424.13,121.40 424.97,120.80 425.80,120.60 C426.63,120.40 427.22,120.43 428.00,120.80 C428.78,121.17 429.67,121.85 430.50,122.80 C431.33,123.75 432.17,125.37 433.00,126.50 C433.83,127.63 434.67,128.90 435.50,129.60 C436.33,130.30 437.58,130.52 438.00,130.70" fill="none" stroke="url(#g8)" stroke-width="1.0" stroke-linejoin="round" stroke-linecap="round"/>
<line x1="393.00" y1="138.60" x2="499.60" y2="138.60" stroke="#c8e4ea" stroke-width="0.9" />
<linearGradient id="g9" gradientUnits="userSpaceOnUse" x1="398" y1="0" x2="437" y2="0"><stop offset="0" stop-color="#c8e4ea"/><stop offset="0.333" stop-color="#92ccd8"/><stop offset="0.938" stop-color="#92ccd8"/><stop offset="1" stop-color="#c8e4ea"/></linearGradient>
<path d="M398.00,138.60 C399.17,138.43 402.83,138.07 405.00,137.60 C407.17,137.13 409.25,136.43 411.00,135.80 C412.75,135.17 414.17,134.57 415.50,133.80 C416.83,133.03 417.95,132.03 419.00,131.20 C420.05,130.37 420.98,129.28 421.80,128.80 C422.62,128.32 423.20,128.23 423.90,128.30 C424.60,128.37 425.27,129.20 426.00,129.20 C426.73,129.20 427.57,128.25 428.30,128.30 C429.03,128.35 429.70,128.80 430.40,129.50 C431.10,130.20 431.80,131.38 432.50,132.50 C433.20,133.62 433.85,135.18 434.60,136.20 C435.35,137.22 436.60,138.20 437.00,138.60" fill="none" stroke="url(#g9)" stroke-width="1.0" stroke-linejoin="round" stroke-linecap="round"/>
<line x1="393.00" y1="146.10" x2="499.60" y2="146.10" stroke="#666" stroke-width="0.9" />
<linearGradient id="g10" gradientUnits="userSpaceOnUse" x1="393" y1="0" x2="436.5" y2="0"><stop offset="0" stop-color="#666"/><stop offset="0.276" stop-color="#0a0a0a"/><stop offset="0.943" stop-color="#0a0a0a"/><stop offset="1" stop-color="#666"/></linearGradient>
<path d="M393.00,146.10 C394.00,146.00 397.00,145.82 399.00,145.50 C401.00,145.18 403.25,144.73 405.00,144.20 C406.75,143.67 408.17,142.90 409.50,142.30 C410.83,141.70 411.75,141.18 413.00,140.60 C414.25,140.02 415.83,139.25 417.00,138.80 C418.17,138.35 419.08,138.30 420.00,137.90 C420.92,137.50 421.75,136.85 422.50,136.40 C423.25,135.95 423.87,135.43 424.50,135.20 C425.13,134.97 425.68,134.93 426.30,135.00 C426.92,135.07 427.58,135.17 428.20,135.60 C428.82,136.03 429.37,136.67 430.00,137.60 C430.63,138.53 431.33,140.07 432.00,141.20 C432.67,142.33 433.25,143.58 434.00,144.40 C434.75,145.22 436.08,145.82 436.50,146.10" fill="none" stroke="url(#g10)" stroke-width="1.6" stroke-linejoin="round" stroke-linecap="round"/>
<text x="460.00" y="105.76" font-size="5.2" text-anchor="middle" font-weight="normal" fill="#333" stroke="#333" stroke-width="0.12" >O<tspan font-size="3" dy="1">2</tspan></text>
<line x1="455.20" y1="107.70" x2="466.60" y2="107.70" stroke="#666" stroke-width="0.5" />
<text x="484.20" y="105.76" font-size="5.2" text-anchor="middle" font-weight="normal" fill="#333" stroke="#333" stroke-width="0.12" >Imatinib μM</text>
<line x1="470.20" y1="107.70" x2="498.20" y2="107.70" stroke="#666" stroke-width="0.5" />
<text x="465.60" y="113.86" font-size="5.2" text-anchor="end" font-weight="normal" fill="#333" stroke="#333" stroke-width="0.12" >21%</text>
<text x="483.40" y="113.86" font-size="5.2" text-anchor="middle" font-weight="normal" fill="#333" stroke="#333" stroke-width="0.12" >0 μM</text>
<text x="465.60" y="121.86" font-size="5.2" text-anchor="end" font-weight="normal" fill="#333" stroke="#333" stroke-width="0.12" >0.5%</text>
<text x="483.40" y="121.86" font-size="5.2" text-anchor="middle" font-weight="normal" fill="#333" stroke="#333" stroke-width="0.12" >0 μM</text>
<text x="465.60" y="129.46" font-size="5.2" text-anchor="end" font-weight="normal" fill="#333" stroke="#333" stroke-width="0.12" >21%</text>
<text x="483.40" y="129.46" font-size="5.2" text-anchor="middle" font-weight="normal" fill="#333" stroke="#333" stroke-width="0.12" >5 μM</text>
<text x="465.60" y="137.36" font-size="5.2" text-anchor="end" font-weight="normal" fill="#333" stroke="#333" stroke-width="0.12" >0.5%</text>
<text x="483.40" y="137.36" font-size="5.2" text-anchor="middle" font-weight="normal" fill="#333" stroke="#333" stroke-width="0.12" >5 μM</text>
<text x="470.00" y="143.16" font-size="5.2" text-anchor="middle" font-weight="normal" fill="#333" stroke="#333" stroke-width="0.12" >ISO</text>
<text x="406.30" y="153.26" font-size="5.2" text-anchor="middle" font-weight="normal" fill="#333" stroke="#333" stroke-width="0.1" >0</text>
<text x="427.50" y="153.26" font-size="5.2" text-anchor="middle" font-weight="normal" fill="#333" stroke="#333" stroke-width="0.1" >10<tspan font-size="3.4" dy="-2">3</tspan></text>
<text x="453.80" y="153.26" font-size="5.2" text-anchor="middle" font-weight="normal" fill="#333" stroke="#333" stroke-width="0.1" >10<tspan font-size="3.4" dy="-2">4</tspan></text>
<text x="478.80" y="153.26" font-size="5.2" text-anchor="middle" font-weight="normal" fill="#333" stroke="#333" stroke-width="0.1" >10<tspan font-size="3.4" dy="-2">5</tspan></text>
<text x="500.80" y="153.26" font-size="5.2" text-anchor="middle" font-weight="normal" fill="#333" stroke="#333" stroke-width="0.1" >10<tspan font-size="3.4" dy="-2">6</tspan></text>
<text x="449.40" y="162.74" font-size="7.65" text-anchor="middle" font-weight="normal" fill="#1a1a1a" stroke="#1a1a1a" stroke-width="0.24" >pCrkL−Alexa Fluor</text>
<text x="287.20" y="187.72" font-size="10.8" text-anchor="start" font-weight="bold" fill="#111" stroke="#111" stroke-width="0.24" >D</text>
<line x1="312.30" y1="196.00" x2="396.30" y2="196.00" stroke="#a6a6a6" stroke-width="1.1" />
<line x1="399.50" y1="196.00" x2="483.80" y2="196.00" stroke="#a6a6a6" stroke-width="1.1" />
<text x="327.00" y="194.19" font-size="7.8" text-anchor="start" font-weight="normal" fill="#1a1a1a" stroke="#1a1a1a" stroke-width="0.24" >CD34<tspan dx="0.3" dy="-2.65" font-size="5.77" stroke-width="0.45">+</tspan><tspan dx="0.2" dy="2.65">CD38</tspan><tspan dx="0.3" dy="-2.65" font-size="5.77" stroke-width="0.45">−</tspan></text>
<text x="419.50" y="194.19" font-size="7.8" text-anchor="start" font-weight="normal" fill="#1a1a1a" stroke="#1a1a1a" stroke-width="0.24" >CD34<tspan dx="0.3" dy="-2.65" font-size="5.77" stroke-width="0.45">+</tspan><tspan dx="0.2" dy="2.65">CD38</tspan><tspan dx="0.3" dy="-2.65" font-size="5.77" stroke-width="0.45">+</tspan></text>
<line x1="308.80" y1="200.00" x2="308.80" y2="241.40" stroke="#333" stroke-width="0.9" />
<line x1="308.80" y1="240.90" x2="487.50" y2="240.90" stroke="#333" stroke-width="0.9" />
<line x1="306.80" y1="240.90" x2="308.80" y2="240.90" stroke="#333" stroke-width="0.8" />
<text x="303.30" y="243.16" font-size="6.3" text-anchor="middle" font-weight="normal" fill="#1a1a1a" stroke="#1a1a1a" stroke-width="0.2" >0</text>
<line x1="306.80" y1="230.90" x2="308.80" y2="230.90" stroke="#333" stroke-width="0.8" />
<text x="303.30" y="233.16" font-size="6.3" text-anchor="middle" font-weight="normal" fill="#1a1a1a" stroke="#1a1a1a" stroke-width="0.2" >1</text>
<line x1="306.80" y1="220.90" x2="308.80" y2="220.90" stroke="#333" stroke-width="0.8" />
<text x="303.30" y="223.16" font-size="6.3" text-anchor="middle" font-weight="normal" fill="#1a1a1a" stroke="#1a1a1a" stroke-width="0.2" >2</text>
<line x1="306.80" y1="210.90" x2="308.80" y2="210.90" stroke="#333" stroke-width="0.8" />
<text x="303.30" y="213.16" font-size="6.3" text-anchor="middle" font-weight="normal" fill="#1a1a1a" stroke="#1a1a1a" stroke-width="0.2" >3</text>
<line x1="306.80" y1="200.90" x2="308.80" y2="200.90" stroke="#333" stroke-width="0.8" />
<text x="303.30" y="203.16" font-size="6.3" text-anchor="middle" font-weight="normal" fill="#1a1a1a" stroke="#1a1a1a" stroke-width="0.2" >4</text>
<line x1="307.80" y1="240.90" x2="308.80" y2="240.90" stroke="#555" stroke-width="0.5" />
<line x1="307.80" y1="238.90" x2="308.80" y2="238.90" stroke="#555" stroke-width="0.5" />
<line x1="307.80" y1="236.90" x2="308.80" y2="236.90" stroke="#555" stroke-width="0.5" />
<line x1="307.80" y1="234.90" x2="308.80" y2="234.90" stroke="#555" stroke-width="0.5" />
<line x1="307.80" y1="232.90" x2="308.80" y2="232.90" stroke="#555" stroke-width="0.5" />
<line x1="307.80" y1="230.90" x2="308.80" y2="230.90" stroke="#555" stroke-width="0.5" />
<line x1="307.80" y1="228.90" x2="308.80" y2="228.90" stroke="#555" stroke-width="0.5" />
<line x1="307.80" y1="226.90" x2="308.80" y2="226.90" stroke="#555" stroke-width="0.5" />
<line x1="307.80" y1="224.90" x2="308.80" y2="224.90" stroke="#555" stroke-width="0.5" />
<line x1="307.80" y1="222.90" x2="308.80" y2="222.90" stroke="#555" stroke-width="0.5" />
<line x1="307.80" y1="220.90" x2="308.80" y2="220.90" stroke="#555" stroke-width="0.5" />
<line x1="307.80" y1="218.90" x2="308.80" y2="218.90" stroke="#555" stroke-width="0.5" />
<line x1="307.80" y1="216.90" x2="308.80" y2="216.90" stroke="#555" stroke-width="0.5" />
<line x1="307.80" y1="214.90" x2="308.80" y2="214.90" stroke="#555" stroke-width="0.5" />
<line x1="307.80" y1="212.90" x2="308.80" y2="212.90" stroke="#555" stroke-width="0.5" />
<line x1="307.80" y1="210.90" x2="308.80" y2="210.90" stroke="#555" stroke-width="0.5" />
<line x1="307.80" y1="208.90" x2="308.80" y2="208.90" stroke="#555" stroke-width="0.5" />
<line x1="307.80" y1="206.90" x2="308.80" y2="206.90" stroke="#555" stroke-width="0.5" />
<line x1="307.80" y1="204.90" x2="308.80" y2="204.90" stroke="#555" stroke-width="0.5" />
<line x1="307.80" y1="202.90" x2="308.80" y2="202.90" stroke="#555" stroke-width="0.5" />
<line x1="307.80" y1="200.90" x2="308.80" y2="200.90" stroke="#555" stroke-width="0.5" />
<line x1="309.40" y1="240.90" x2="309.40" y2="242.50" stroke="#333" stroke-width="0.8" />
<line x1="339.50" y1="240.90" x2="339.50" y2="242.50" stroke="#333" stroke-width="0.8" />
<line x1="368.50" y1="240.90" x2="368.50" y2="242.50" stroke="#333" stroke-width="0.8" />
<line x1="398.50" y1="240.90" x2="398.50" y2="242.50" stroke="#333" stroke-width="0.8" />
<line x1="428.10" y1="240.90" x2="428.10" y2="242.50" stroke="#333" stroke-width="0.8" />
<line x1="458.50" y1="240.90" x2="458.50" y2="242.50" stroke="#333" stroke-width="0.8" />
<line x1="487.50" y1="240.90" x2="487.50" y2="242.50" stroke="#333" stroke-width="0.8" />
<line x1="319.95" y1="212.20" x2="319.95" y2="209.50" stroke="#3a3a3a" stroke-width="0.8" />
<line x1="319.35" y1="209.50" x2="320.55" y2="209.50" stroke="#3a3a3a" stroke-width="0.7" />
<rect x="314.40" y="212.20" width="11.10" height="28.70" fill="#fff" stroke="#222" stroke-width="0.9" />
<line x1="332.15" y1="214.80" x2="332.15" y2="211.60" stroke="#3a3a3a" stroke-width="0.8" />
<line x1="331.55" y1="211.60" x2="332.75" y2="211.60" stroke="#3a3a3a" stroke-width="0.7" />
<rect x="326.90" y="214.80" width="10.50" height="26.10" fill="#161616" stroke="#161616" stroke-width="0.6" />
<line x1="349.35" y1="224.20" x2="349.35" y2="221.60" stroke="#3a3a3a" stroke-width="0.8" />
<line x1="348.75" y1="221.60" x2="349.95" y2="221.60" stroke="#3a3a3a" stroke-width="0.7" />
<rect x="343.80" y="224.20" width="11.10" height="16.70" fill="#fff" stroke="#222" stroke-width="0.9" />
<line x1="361.55" y1="226.30" x2="361.55" y2="223.20" stroke="#3a3a3a" stroke-width="0.8" />
<line x1="360.95" y1="223.20" x2="362.15" y2="223.20" stroke="#3a3a3a" stroke-width="0.7" />
<rect x="356.30" y="226.30" width="10.50" height="14.60" fill="#161616" stroke="#161616" stroke-width="0.6" />
<line x1="377.55" y1="230.10" x2="377.55" y2="227.60" stroke="#3a3a3a" stroke-width="0.8" />
<line x1="376.95" y1="227.60" x2="378.15" y2="227.60" stroke="#3a3a3a" stroke-width="0.7" />
<rect x="372.00" y="230.10" width="11.10" height="10.80" fill="#fff" stroke="#222" stroke-width="0.9" />
<line x1="389.75" y1="229.90" x2="389.75" y2="227.70" stroke="#3a3a3a" stroke-width="0.8" />
<line x1="389.15" y1="227.70" x2="390.35" y2="227.70" stroke="#3a3a3a" stroke-width="0.7" />
<rect x="384.50" y="229.90" width="10.50" height="11.00" fill="#161616" stroke="#161616" stroke-width="0.6" />
<line x1="407.25" y1="210.70" x2="407.25" y2="205.70" stroke="#3a3a3a" stroke-width="0.8" />
<line x1="406.65" y1="205.70" x2="407.85" y2="205.70" stroke="#3a3a3a" stroke-width="0.7" />
<rect x="401.70" y="210.70" width="11.10" height="30.20" fill="#fff" stroke="#222" stroke-width="0.9" />
<line x1="419.45" y1="214.10" x2="419.45" y2="209.80" stroke="#3a3a3a" stroke-width="0.8" />
<line x1="418.85" y1="209.80" x2="420.05" y2="209.80" stroke="#3a3a3a" stroke-width="0.7" />
<rect x="414.20" y="214.10" width="10.50" height="26.80" fill="#161616" stroke="#161616" stroke-width="0.6" />
<line x1="436.25" y1="224.20" x2="436.25" y2="220.70" stroke="#3a3a3a" stroke-width="0.8" />
<line x1="435.65" y1="220.70" x2="436.85" y2="220.70" stroke="#3a3a3a" stroke-width="0.7" />
<rect x="430.70" y="224.20" width="11.10" height="16.70" fill="#fff" stroke="#222" stroke-width="0.9" />
<line x1="448.45" y1="226.00" x2="448.45" y2="222.60" stroke="#3a3a3a" stroke-width="0.8" />
<line x1="447.85" y1="222.60" x2="449.05" y2="222.60" stroke="#3a3a3a" stroke-width="0.7" />
<rect x="443.20" y="226.00" width="10.50" height="14.90" fill="#161616" stroke="#161616" stroke-width="0.6" />
<line x1="466.95" y1="229.50" x2="466.95" y2="226.40" stroke="#3a3a3a" stroke-width="0.8" />
<line x1="466.35" y1="226.40" x2="467.55" y2="226.40" stroke="#3a3a3a" stroke-width="0.7" />
<rect x="461.40" y="229.50" width="11.10" height="11.40" fill="#fff" stroke="#222" stroke-width="0.9" />
<line x1="479.15" y1="229.50" x2="479.15" y2="227.00" stroke="#3a3a3a" stroke-width="0.8" />
<line x1="478.55" y1="227.00" x2="479.75" y2="227.00" stroke="#3a3a3a" stroke-width="0.7" />
<rect x="473.90" y="229.50" width="10.50" height="11.40" fill="#161616" stroke="#161616" stroke-width="0.6" />
<line x1="308.80" y1="247.00" x2="308.80" y2="286.90" stroke="#333" stroke-width="0.9" />
<line x1="308.80" y1="286.40" x2="487.50" y2="286.40" stroke="#333" stroke-width="0.9" />
<line x1="306.80" y1="286.40" x2="308.80" y2="286.40" stroke="#333" stroke-width="0.8" />
<text x="303.30" y="288.66" font-size="6.3" text-anchor="middle" font-weight="normal" fill="#1a1a1a" stroke="#1a1a1a" stroke-width="0.2" >0</text>
<line x1="306.80" y1="275.15" x2="308.80" y2="275.15" stroke="#333" stroke-width="0.8" />
<text x="303.30" y="277.41" font-size="6.3" text-anchor="middle" font-weight="normal" fill="#1a1a1a" stroke="#1a1a1a" stroke-width="0.2" >1</text>
<line x1="306.80" y1="263.90" x2="308.80" y2="263.90" stroke="#333" stroke-width="0.8" />
<text x="303.30" y="266.16" font-size="6.3" text-anchor="middle" font-weight="normal" fill="#1a1a1a" stroke="#1a1a1a" stroke-width="0.2" >2</text>
<line x1="306.80" y1="252.65" x2="308.80" y2="252.65" stroke="#333" stroke-width="0.8" />
<text x="303.30" y="254.91" font-size="6.3" text-anchor="middle" font-weight="normal" fill="#1a1a1a" stroke="#1a1a1a" stroke-width="0.2" >3</text>
<line x1="307.80" y1="286.40" x2="308.80" y2="286.40" stroke="#555" stroke-width="0.5" />
<line x1="307.80" y1="284.15" x2="308.80" y2="284.15" stroke="#555" stroke-width="0.5" />
<line x1="307.80" y1="281.90" x2="308.80" y2="281.90" stroke="#555" stroke-width="0.5" />
<line x1="307.80" y1="279.65" x2="308.80" y2="279.65" stroke="#555" stroke-width="0.5" />
<line x1="307.80" y1="277.40" x2="308.80" y2="277.40" stroke="#555" stroke-width="0.5" />
<line x1="307.80" y1="275.15" x2="308.80" y2="275.15" stroke="#555" stroke-width="0.5" />
<line x1="307.80" y1="272.90" x2="308.80" y2="272.90" stroke="#555" stroke-width="0.5" />
<line x1="307.80" y1="270.65" x2="308.80" y2="270.65" stroke="#555" stroke-width="0.5" />
<line x1="307.80" y1="268.40" x2="308.80" y2="268.40" stroke="#555" stroke-width="0.5" />
<line x1="307.80" y1="266.15" x2="308.80" y2="266.15" stroke="#555" stroke-width="0.5" />
<line x1="307.80" y1="263.90" x2="308.80" y2="263.90" stroke="#555" stroke-width="0.5" />
<line x1="307.80" y1="261.65" x2="308.80" y2="261.65" stroke="#555" stroke-width="0.5" />
<line x1="307.80" y1="259.40" x2="308.80" y2="259.40" stroke="#555" stroke-width="0.5" />
<line x1="307.80" y1="257.15" x2="308.80" y2="257.15" stroke="#555" stroke-width="0.5" />
<line x1="307.80" y1="254.90" x2="308.80" y2="254.90" stroke="#555" stroke-width="0.5" />
<line x1="307.80" y1="252.65" x2="308.80" y2="252.65" stroke="#555" stroke-width="0.5" />
<line x1="307.80" y1="250.40" x2="308.80" y2="250.40" stroke="#555" stroke-width="0.5" />
<line x1="307.80" y1="248.15" x2="308.80" y2="248.15" stroke="#555" stroke-width="0.5" />
<line x1="309.40" y1="286.40" x2="309.40" y2="288.00" stroke="#333" stroke-width="0.8" />
<line x1="338.80" y1="286.40" x2="338.80" y2="288.00" stroke="#333" stroke-width="0.8" />
<line x1="368.50" y1="286.40" x2="368.50" y2="288.00" stroke="#333" stroke-width="0.8" />
<line x1="398.50" y1="286.40" x2="398.50" y2="288.00" stroke="#333" stroke-width="0.8" />
<line x1="428.10" y1="286.40" x2="428.10" y2="288.00" stroke="#333" stroke-width="0.8" />
<line x1="457.50" y1="286.40" x2="457.50" y2="288.00" stroke="#333" stroke-width="0.8" />
<line x1="487.50" y1="286.40" x2="487.50" y2="288.00" stroke="#333" stroke-width="0.8" />
<line x1="318.65" y1="259.40" x2="318.65" y2="251.86" stroke="#3a3a3a" stroke-width="0.8" />
<line x1="318.05" y1="251.86" x2="319.25" y2="251.86" stroke="#3a3a3a" stroke-width="0.7" />
<rect x="313.10" y="259.40" width="11.10" height="27.00" fill="#fff" stroke="#222" stroke-width="0.9" />
<line x1="330.85" y1="259.06" x2="330.85" y2="251.30" stroke="#3a3a3a" stroke-width="0.8" />
<line x1="330.25" y1="251.30" x2="331.45" y2="251.30" stroke="#3a3a3a" stroke-width="0.7" />
<rect x="325.60" y="259.06" width="10.50" height="27.34" fill="#161616" stroke="#161616" stroke-width="0.6" />
<line x1="348.35" y1="267.50" x2="348.35" y2="261.88" stroke="#3a3a3a" stroke-width="0.8" />
<line x1="347.75" y1="261.88" x2="348.95" y2="261.88" stroke="#3a3a3a" stroke-width="0.7" />
<rect x="342.80" y="267.50" width="11.10" height="18.90" fill="#fff" stroke="#222" stroke-width="0.9" />
<line x1="360.55" y1="268.74" x2="360.55" y2="263.11" stroke="#3a3a3a" stroke-width="0.8" />
<line x1="359.95" y1="263.11" x2="361.15" y2="263.11" stroke="#3a3a3a" stroke-width="0.7" />
<rect x="355.30" y="268.74" width="10.50" height="17.66" fill="#161616" stroke="#161616" stroke-width="0.6" />
<line x1="378.25" y1="273.12" x2="378.25" y2="268.51" stroke="#3a3a3a" stroke-width="0.8" />
<line x1="377.65" y1="268.51" x2="378.85" y2="268.51" stroke="#3a3a3a" stroke-width="0.7" />
<rect x="372.70" y="273.12" width="11.10" height="13.27" fill="#fff" stroke="#222" stroke-width="0.9" />
<line x1="390.45" y1="273.35" x2="390.45" y2="268.40" stroke="#3a3a3a" stroke-width="0.8" />
<line x1="389.85" y1="268.40" x2="391.05" y2="268.40" stroke="#3a3a3a" stroke-width="0.7" />
<rect x="385.20" y="273.35" width="10.50" height="13.05" fill="#161616" stroke="#161616" stroke-width="0.6" />
<line x1="407.35" y1="263.79" x2="407.35" y2="258.16" stroke="#3a3a3a" stroke-width="0.8" />
<line x1="406.75" y1="258.16" x2="407.95" y2="258.16" stroke="#3a3a3a" stroke-width="0.7" />
<rect x="401.80" y="263.79" width="11.10" height="22.61" fill="#fff" stroke="#222" stroke-width="0.9" />
<line x1="419.55" y1="262.55" x2="419.55" y2="256.59" stroke="#3a3a3a" stroke-width="0.8" />
<line x1="418.95" y1="256.59" x2="420.15" y2="256.59" stroke="#3a3a3a" stroke-width="0.7" />
<rect x="414.30" y="262.55" width="10.50" height="23.85" fill="#161616" stroke="#161616" stroke-width="0.6" />
<line x1="436.05" y1="271.21" x2="436.05" y2="266.82" stroke="#3a3a3a" stroke-width="0.8" />
<line x1="435.45" y1="266.82" x2="436.65" y2="266.82" stroke="#3a3a3a" stroke-width="0.7" />
<rect x="430.50" y="271.21" width="11.10" height="15.19" fill="#fff" stroke="#222" stroke-width="0.9" />
<line x1="448.25" y1="271.89" x2="448.25" y2="267.50" stroke="#3a3a3a" stroke-width="0.8" />
<line x1="447.65" y1="267.50" x2="448.85" y2="267.50" stroke="#3a3a3a" stroke-width="0.7" />
<rect x="443.00" y="271.89" width="10.50" height="14.51" fill="#161616" stroke="#161616" stroke-width="0.6" />
<line x1="466.75" y1="275.49" x2="466.75" y2="272.45" stroke="#3a3a3a" stroke-width="0.8" />
<line x1="466.15" y1="272.45" x2="467.35" y2="272.45" stroke="#3a3a3a" stroke-width="0.7" />
<rect x="461.20" y="275.49" width="11.10" height="10.91" fill="#fff" stroke="#222" stroke-width="0.9" />
<line x1="478.95" y1="275.71" x2="478.95" y2="272.45" stroke="#3a3a3a" stroke-width="0.8" />
<line x1="478.35" y1="272.45" x2="479.55" y2="272.45" stroke="#3a3a3a" stroke-width="0.7" />
<rect x="473.70" y="275.71" width="10.50" height="10.69" fill="#161616" stroke="#161616" stroke-width="0.6" />
<text x="325.80" y="293.86" font-size="6.3" text-anchor="middle" font-weight="normal" fill="#1a1a1a" stroke="#1a1a1a" stroke-width="0.2" >0</text>
<text x="355.20" y="293.86" font-size="6.3" text-anchor="middle" font-weight="normal" fill="#1a1a1a" stroke="#1a1a1a" stroke-width="0.2" >1</text>
<text x="383.40" y="293.86" font-size="6.3" text-anchor="middle" font-weight="normal" fill="#1a1a1a" stroke="#1a1a1a" stroke-width="0.2" >5</text>
<text x="412.90" y="293.86" font-size="6.3" text-anchor="middle" font-weight="normal" fill="#1a1a1a" stroke="#1a1a1a" stroke-width="0.2" >0</text>
<text x="441.60" y="293.86" font-size="6.3" text-anchor="middle" font-weight="normal" fill="#1a1a1a" stroke="#1a1a1a" stroke-width="0.2" >1</text>
<text x="470.60" y="293.86" font-size="6.3" text-anchor="middle" font-weight="normal" fill="#1a1a1a" stroke="#1a1a1a" stroke-width="0.2" >5</text>
<text x="477.60" y="293.58" font-size="6.1" text-anchor="start" font-weight="normal" fill="#1a1a1a" stroke="#1a1a1a" stroke-width="0.2" >imatinib (μM)</text>
<text x="482.50" y="208.88" font-size="7.5" text-anchor="middle" font-weight="normal" fill="#1a1a1a" stroke="#1a1a1a" stroke-width="0.12" >24hrs</text>
<text x="482.60" y="217.72" font-size="7.6" text-anchor="middle" font-weight="normal" fill="#1a1a1a" stroke="#1a1a1a" stroke-width="0.12" >(n=5)</text>
<text x="483.30" y="254.69" font-size="7.5" text-anchor="middle" font-weight="normal" fill="#1a1a1a" stroke="#1a1a1a" stroke-width="0.12" >96hrs</text>
<text x="483.90" y="262.96" font-size="7.7" text-anchor="middle" font-weight="normal" fill="#1a1a1a" stroke="#1a1a1a" stroke-width="0.12" >(n=3)</text>
<rect x="497.70" y="202.70" width="20.80" height="8.00" fill="#fff" stroke="#b0b0b0" stroke-width="1.4" />
<text x="508.10" y="208.87" font-size="8.3" text-anchor="middle" font-weight="normal" fill="#1a1a1a" stroke="#1a1a1a" stroke-width="0.24" >21%</text>
<rect x="497.00" y="213.30" width="22.20" height="9.00" fill="#0a0a0a" stroke="none" stroke-width="1" />
<text x="508.10" y="220.47" font-size="8.3" text-anchor="middle" font-weight="normal" fill="#e8e8e8" stroke="#e8e8e8" stroke-width="0.24" >0.5%</text>
<text transform="translate(290.28,238.80) rotate(-90)" font-size="6.1" text-anchor="middle" font-weight="normal" fill="#1a1a1a" stroke="#1a1a1a" stroke-width="0.2">Mean Florescence</text>
<text transform="translate(296.98,238.80) rotate(-90)" font-size="6.1" text-anchor="middle" font-weight="normal" fill="#1a1a1a" stroke="#1a1a1a" stroke-width="0.2">Intensity (x1000)</text>
</svg></body></html>
